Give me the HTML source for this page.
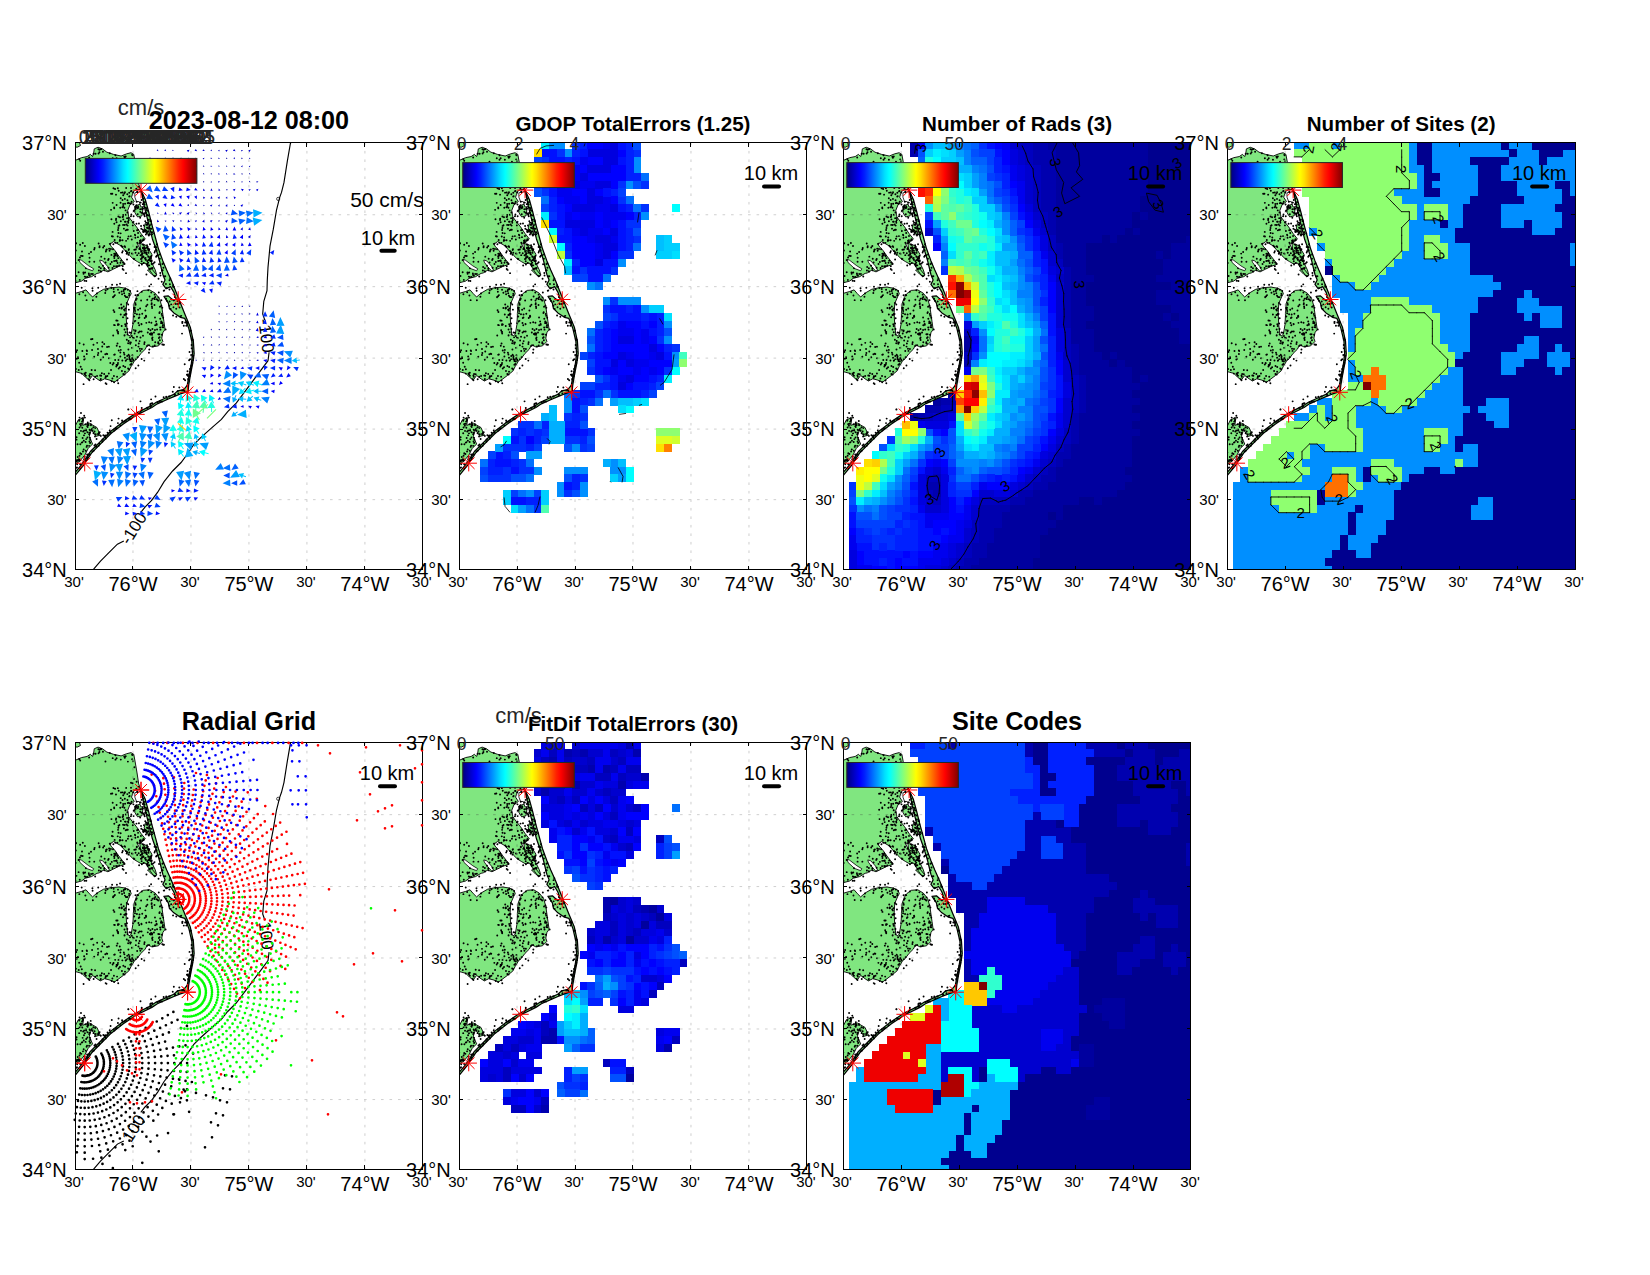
<!DOCTYPE html><html><head><meta charset="utf-8"><title>HFR totals diagnostics</title>
<style>html,body{margin:0;padding:0;background:#fff}svg{display:block}text{font-family:'Liberation Sans', Arial, Helvetica, sans-serif;fill:#000}</style></head><body>
<svg width="1650" height="1275" viewBox="0 0 1650 1275">
<rect width="1650" height="1275" fill="#fff"/>
<defs><g id="land"><path d="M-1.1 18.56 L6.59 15.27 L12.08 14.17 L15.37 11.97 L17.57 14.17 L18.67 10.88 L19.22 6.48 L23.06 4.84 L27.45 6.48 L31.84 9.78 L38.43 11.97 L46.12 13.62 L51.61 11.43 L56 10.33 L58.75 11.97 L60.17 19.66 L62.04 30.64 L63.69 41.62 L65.66 47.11 L61.49 47.11 L58.2 49.31 L56.55 54.8 L59.3 59.19 L54.9 62.49 L52.71 67.98 L53.8 74.56 L57.1 78.96 L61.49 84.45 L65.88 91.03 L70.28 96.53 L66.98 99.82 L62.59 102.02 L65.88 107.51 L70.28 109.7 L73.57 114.09 L76.86 120.68 L80.16 127.27 L81.81 132.76 L79.06 133.86 L75.77 129.47 L72.47 123.98 L70.28 120.68 L65.88 121.23 L62.26 119.15 L58.42 116.73 L54.57 113 L50.18 108.38 L45.79 103.33 L38.65 99.16 L34.92 101.69 L36.02 103.77 L39.97 108.16 L43.81 113.65 L47.66 118.6 L49.96 121.89 L43.92 123.98 L38.43 126.72 L32.94 129.47 L28.55 127.82 L24.16 130.56 L22 131 L16.5 134.3 L10 136 L6.6 138.7 L-2 141 L-2 30Z M-1.1 151.31 L6.59 149.11 L10.98 147.47 L14.27 151.31 L17.57 154.6 L21.96 150.76 L28.55 146.92 L36.24 145.27 L43.92 144.72 L50.51 145.82 L54.9 148.01 L56.22 151.31 L54.68 154.05 L51.61 161.19 L51.06 171.07 L51.61 182.05 L52.71 191.94 L54.02 193.58 L56.22 191.94 L57.87 182.05 L58.42 171.07 L58.97 161.19 L61.27 154.93 L63.69 151.31 L68.08 148.01 L74.67 147.47 L80.16 150.76 L84.55 156.25 L86.75 163.94 L87.84 171.62 L88.94 179.31 L90.04 187 L87.84 190.29 L86.75 195.78 L87.84 199.07 L83.45 203.47 L76.86 204.56 L72.47 202.37 L70.28 206.76 L65.88 211.15 L62.59 215.54 L59.3 218.84 L56 224.33 L53.8 228.72 L48.31 233.11 L43.92 236.41 L39.53 239.7 L34.04 237.51 L29.65 236.41 L25.26 238.6 L21.96 236.41 L17.57 233.11 L14.27 237.51 L10.98 235.31 L6.59 230.92 L2.2 229.82 L-1.1 228.72Z M-1.1 286.25 L3.29 277.47 L8.78 275.27 L7.69 282.96 L14.27 280.76 L21.96 285.15 L25.26 292.84 L20.86 293.94 L16.47 287.35 L14.27 293.94 L17.57 301.62 L13.18 306.01 L9.88 312.6 L4.39 319.19 L-1.1 322.49Z M-1.1 -0.1 L4.39 -0.1 L5.49 3.19 L2.2 4.84 L-1.1 4.29Z M72.47 127.7 L76.86 126.6 L81.26 132.09 L80.71 134.29 L76.86 132.09Z M59.84 63.58 L64.79 61.94 L68.08 65.78 L66.98 73.47 L62.59 74.56 L59.84 70.17Z M64.79 100.92 L71.37 103.11 L76.86 111.9 L75.77 118.49 L70.28 117.39 L65.88 109.7Z M70.28 81.15 L73.57 84.45 L74.67 92.13 L71.37 91.03 L69.18 85.54Z" fill="#80e680" stroke="#000" stroke-width="0.9" stroke-linejoin="round"/><path d="M3.84 116.84 L6.59 117.94 L13.73 123.43 L18.67 126.39 L17.57 128.37 L11.53 126.17 L4.94 120.13Z M24.71 117.61 L27.67 118.49 L32.39 123.76 L34.7 128.15 L32.39 128.37 L28.55 124.2 L25.26 119.8Z M59.84 50.41 L65.88 49.31 L68.63 54.8 L70.28 63.58 L65.88 64.68 L64.24 59.19 L61.49 59.19 L59.84 54.8Z" fill="#fff" stroke="#000" stroke-width="0.8"/><path d="M65.66 47.11 L70.28 57 L73.57 69.07 L76.86 82.25 L80.16 94.33 L83.45 106.41 L87.84 118.49 L91.69 127.71 L96.63 138.68 L103.22 155.15 L109.81 171.62 L115.3 184.8 L118.37 199.07 L119.14 211.15 L117.71 221.03 L115.52 232.02 L113.65 243 L113.1 249.04 L105.41 251.56 L98.83 254.2 L93.33 256.61 L82.35 261.44 L76.86 265.06 L61.49 272.74 L48.31 281.53 L36.24 290.86 L26.35 300.74 L16.47 310.74 L7.69 323.91 L-1.1 334.56 L-1.1 331.49 L6.59 322.27 L15.37 309.09 L25.26 299.21 L35.14 289.32 L47.22 279.99 L60.39 271.21 L75.77 263.52 L81.26 259.8 L92.24 254.85 L98.83 252 L102.67 248.49 L108.71 247.17 L112.22 243 L114.2 232.02 L116.39 221.03 L117.49 211.15 L116.83 199.07 L113.76 185.9 L109.81 176.01 L105.41 174.92 L98.83 170.52 L94.43 166.13 L93.33 160.64 L88.94 154.05 L93.33 153.5 L98.83 158.45 L101.02 156.47 L98.83 149.66 L95.53 144.17 L91.14 146.37 L87.84 141.97 L90.04 137.58 L87.84 132.09 L86.75 127.7 L84.55 118.49 L81.26 107.51 L77.41 96.53 L74.67 85.54 L71.92 74.56 L69.18 63.58 L67.53 54.8Z" fill="#80e680" stroke="#000" stroke-width="1.25" stroke-linejoin="round"/><path d="M4.22 16.72h0M5.19 18.28h0M14.1 15.17h0M23.57 11.06h0M23.38 6.88h0M24.4 9.75h0M20.55 11.38h0M18.56 11.43h0M26.3 6.68h0M24.63 7.39h0M25.66 6.73h0M27.97 9.42h0M30.45 19.2h0M34.78 10.77h0M40.45 12.93h0M40.45 17.35h0M45.81 17.31h0M41.61 15.88h0M37.72 15.84h0M49.27 14.25h0M50.69 14.04h0M57.08 12.45h0M49.8 15.45h0M57.51 12.78h0M57.12 16.96h0M52.9 19.32h0M59.39 24.89h0M57.93 18.93h0M56.01 40.55h0M61.64 39.54h0M57.58 40.95h0M59.02 36.77h0M63.43 44.56h0M61.32 46.31h0M62.38 49.82h0M58.14 50.1h0M56.01 45.54h0M62.11 48.97h0M52.45 57.78h0M54.19 54.1h0M56.34 48.64h0M54.58 53.74h0M61.68 59.41h0M58.43 62.06h0M54.61 60.99h0M55.79 61.16h0M50.06 61.38h0M47.46 64.81h0M48.17 72.65h0M52.77 60.74h0M50.8 72.29h0M53.72 75.57h0M55.91 73.87h0M53.03 79.17h0M44.94 74.91h0M63.16 87.47h0M58.53 79.47h0M61.47 81.32h0M63.94 81.01h0M62.06 87.93h0M63.08 90.57h0M66.04 83.58h0M66.29 86.44h0M64.9 98.29h0M71.14 88.16h0M62.94 94.73h0M68.07 89.25h0M68.65 97.67h0M67.89 105.29h0M65.32 100.17h0M61.8 105.01h0M68.25 106.03h0M60.77 107.13h0M67.88 105.86h0M61.7 104.62h0M66.78 112.3h0M65.63 112.74h0M72.03 102.91h0M72.31 105.68h0M69.02 106.57h0M72.37 118.91h0M71.48 110.2h0M71.96 121.68h0M73.83 117.69h0M74.24 116.78h0M75.53 118.51h0M74.67 126.35h0M74.21 122.96h0M77.56 125.65h0M75.88 115.57h0M78.44 121.06h0M85.49 133.12h0M79.56 133.92h0M76.34 125.72h0M79.56 119.81h0M71.44 132.12h0M76.71 121.67h0M66.88 122.01h0M71.85 121.9h0M66.64 116.36h0M64.12 123.04h0M66.65 118.83h0M57.51 111.45h0M63.69 110.93h0M56.91 111.18h0M59.32 116.69h0M52.01 117.04h0M51.99 110.49h0M53.48 112.34h0M47.73 108.7h0M51.64 111.27h0M47.15 110.08h0M47.43 104.57h0M42.36 100.46h0M50.1 104.57h0M44.72 98.49h0M38.33 101.89h0M34.79 101.45h0M40.29 100.36h0M46.2 103.3h0M34.59 108.3h0M34.11 106.23h0M46.08 118.23h0M39.25 111.41h0M40.29 112.77h0M42.37 113.92h0M43.34 115.73h0M47.7 123.84h0M47.67 126.59h0M47.98 120.03h0M51.01 130.73h0M42.52 120.59h0M37.45 125.66h0M48.53 127.49h0M35.4 121.61h0M33.59 125.44h0M24.09 124.6h0M25.73 128.9h0M25.79 125.79h0M23.84 128.14h0M20.17 134.1h0M26.06 129.24h0M10.95 134.71h0M12.5 134.64h0M9.77 134.21h0M16.15 131.64h0M8.55 131.3h0M11.31 138.51h0M0.51 138.65h0M65.96 47.76h0M67.32 51.94h0M70.02 59.52h0M71.57 67.45h0M77.11 89.87h0M76.41 86.36h0M80.7 104.15h0M84.96 112.19h0M88.28 120.78h0M95.28 136.03h0M94.52 137.83h0M98.82 144.37h0M99.79 154.63h0M94.9 141.77h0M104.54 165.08h0M102.44 161.62h0M105.16 160.16h0M106.24 173.46h0M110.2 180.12h0M111.72 179.15h0M112.05 181.66h0M115.35 188.38h0M116.58 202.64h0M117.79 214.09h0M118.32 213.43h0M115.22 229.59h0M113.17 236.57h0M113.19 237.11h0M109.62 249.61h0M103.33 251.01h0M100.01 252.94h0M94.54 254.2h0M85.39 258.45h0M92.17 256.54h0M82.5 259.79h0M72.19 265.37h0M72.66 265.62h0M65.59 269.42h0M53.64 276.3h0M49.09 279.34h0M51.02 278.7h0M35.57 289.82h0M35.69 290.35h0M41.88 285.76h0M47.36 279.87h0M39.41 288.2h0M27.95 297.46h0M34.71 288.03h0M30.12 294.97h0M27.52 297h0M33.5 291.36h0M23.61 303.28h0M21.47 304.38h0M24.48 301.44h0M18.86 308.2h0M9.08 316.86h0M4.91 326.19h0M1.38 325.45h0M5.15 321.76h0M14.32 311.8h0M12.47 315.23h0M12.89 313.31h0M14.78 312.11h0M20.54 302.13h0M30.3 292.99h0M30.8 296.08h0M28.33 292.78h0M27.3 299.26h0M42.92 280.72h0M38.71 287.22h0M32.07 293.45h0M54.93 276.52h0M47.08 278.05h0M50.81 278.36h0M62.34 270.39h0M75.51 264.58h0M75.94 263.84h0M75.26 262.65h0M77.33 260.84h0M87.02 259.17h0M84.29 259.43h0M93.96 254.12h0M99.61 251.79h0M100.15 252.46h0M104.3 245.18h0M107.13 248.1h0M112.35 243.51h0M112.52 228.78h0M114.58 233.87h0M112.98 233.49h0M116.2 223.68h0M118.11 217.72h0M117.26 220.48h0M115.1 216.92h0M117.66 209.24h0M116.17 212.64h0M117.92 197.61h0M117.14 195.9h0M111.31 183.31h0M107.52 179.51h0M115.15 188.11h0M105.17 173.98h0M101.32 174.29h0M98.5 164.87h0M95.63 166.59h0M94.39 163.35h0M94.61 159.07h0M96.17 161.97h0M91.85 158.38h0M96.86 157.16h0M102.69 158.56h0M94.47 147.12h0M98.07 144.37h0M98.12 142.92h0M88.75 148.32h0M89.2 148.11h0M86.77 139.34h0M90.92 141.6h0M90.24 133.94h0M88.75 133.84h0M85.27 130.52h0M88.43 125.28h0M87.42 121.54h0M84.84 116.3h0M81.71 113.39h0M79.9 108.83h0M81.11 114.29h0M81.6 107.83h0M81.9 101.81h0M81.48 104.97h0M79.12 90.97h0M77.08 91.87h0M74.73 83.07h0M75.2 78.64h0M76.01 78.84h0M73.11 77.52h0M70.49 65.31h0M69.21 72.68h0M67.81 61.73h0M64.82 46.18h0M8.11 149.78h0M4.34 151.84h0M6.69 145.26h0M9.54 138.36h0M17.42 145.9h0M10.37 153.11h0M17.61 148.41h0M21.35 154.34h0M11.57 157.73h0M17.85 157.94h0M21.88 151.16h0M30.71 148.15h0M30.23 150.62h0M23.21 145.3h0M36.37 145.25h0M30.89 144.35h0M39 153.82h0M37.11 142.42h0M32.51 146.85h0M36.38 145.66h0M41.93 142.42h0M45.09 141.29h0M46.62 149.01h0M48.66 148.54h0M50.22 146.09h0M52.8 147.25h0M54.25 151.43h0M50.96 154.69h0M60.66 162.35h0M52.34 154.73h0M50.58 171.66h0M46.54 166.06h0M50.42 166.05h0M53.85 167.23h0M49.29 172.55h0M47.01 165.66h0M51.44 171.7h0M48.03 174.91h0M49.75 168.08h0M55.95 190.27h0M49.51 187.16h0M42.96 182.63h0M51.98 181.04h0M50.64 189.93h0M53.6 198.53h0M56.78 193.54h0M49.5 193.1h0M54.51 190.01h0M52.36 186.63h0M58.17 180.83h0M59.62 191.03h0M58.71 195.64h0M59.66 167.03h0M52.53 175.94h0M59.17 174.1h0M59.41 179.16h0M63.08 167.36h0M60.11 168.66h0M60.4 160.84h0M61.93 171.78h0M59.98 170.89h0M58.94 165.59h0M53.19 162.01h0M61.71 156.28h0M60.9 157.56h0M62.46 152.65h0M60.47 152.87h0M63.08 152.83h0M62.45 148.74h0M66.74 149.28h0M74.37 143.81h0M76.26 150.07h0M76.09 141.96h0M73.29 147.84h0M74.56 154.14h0M80.31 154.67h0M79.63 152.23h0M83.8 150.14h0M79.36 155.77h0M83.46 155.08h0M83.27 158.24h0M81.67 156.93h0M86.34 163.25h0M86.38 157.89h0M86.96 179.99h0M87.28 165.25h0M87.13 173.27h0M84.97 164.29h0M86.18 178.96h0M88.17 175.31h0M85.22 176.29h0M86.72 171.54h0M87.4 180.51h0M90.59 187.16h0M87.32 184.72h0M87.88 183.22h0M85.45 187.23h0M85.1 185.17h0M83.89 195.64h0M86.92 192.4h0M84.44 191.83h0M84.54 194.89h0M84.8 197.78h0M88.26 202.43h0M87.32 202.04h0M88.95 202.43h0M74.32 207.16h0M79.72 203.13h0M77.9 204h0M83.23 200.92h0M72.21 203.48h0M74.02 202.8h0M73.97 210.34h0M77.5 197.62h0M64.6 198.71h0M63.44 204.22h0M62.15 208.62h0M66.65 216.65h0M69.26 218.21h0M57.26 215.69h0M60.79 216.69h0M62.53 214.86h0M53.57 226.47h0M56.76 219.15h0M63.35 223.09h0M55.32 222.36h0M55.88 217.09h0M60.68 225.89h0M53.11 226.09h0M49.54 232.12h0M38.92 233.51h0M39.1 239.8h0M43.22 240.94h0M36.71 238.75h0M31.06 233.99h0M42.41 238.03h0M31.45 241.52h0M32.35 233.53h0M30.65 240.81h0M22.05 233.55h0M33.83 231.16h0M18.64 236.8h0M25.59 237.29h0M26.16 233.29h0M20.07 227.88h0M13.55 236.8h0M14.35 237.76h0M16.66 227.51h0M20.18 234.43h0M16.63 231.84h0M8.57 241.73h0M10.85 233.39h0M6.84 226.85h0M6.7 231.22h0M9.84 232h0M10.77 230.45h0M0.9 226.5h0M3.73 227.63h0M4.17 278.27h0M4.56 275.21h0M9.17 273.31h0M7.34 275.72h0M5.99 270.67h0M7.85 277.28h0M7.05 279.21h0M10.47 281.91h0M12.64 284.55h0M9.93 275.2h0M7.3 285.29h0M12.76 280.01h0M15.72 278.59h0M7.72 278.09h0M5.09 281.93h0M5.33 281.52h0M13.6 282.66h0M12.26 283.91h0M12.44 281.47h0M12.64 282.55h0M10.87 287h0M15.84 281.71h0M18.46 284.87h0M23.13 291.27h0M24.65 289.81h0M19.55 289h0M23.37 291.89h0M23.08 292.15h0M20.72 291.79h0M14.98 287.9h0M16.75 286.84h0M17.2 286.41h0M20.01 294.04h0M14.11 291.82h0M15.15 300.36h0M14.57 290.43h0M14.91 295.41h0M15.96 282.75h0M11.21 296.7h0M15.08 300.67h0M15.22 297.44h0M20.94 304.42h0M19.45 303.14h0M18.53 290.83h0M12.03 303.38h0M14.11 303.47h0M14.48 298.98h0M10.6 299.59h0M11.6 304.49h0M9.46 314.49h0M6.34 311.57h0M12.12 312.17h0M5.21 310.8h0M2.16 321.91h0M3.91 316.86h0M4.54 313.25h0M2.44 318.42h0M2.11 317.45h0M9.66 314.06h0M1.97 324.97h0M1.84 318.21h0M3.55 317.72h0M65.71 60.2h0M68.06 65.81h0M67.01 66.62h0M56.63 59.42h0M63.32 64.82h0M67.38 66.8h0M71.51 65.87h0M60.27 64.55h0M70.27 70.27h0M68.59 71.17h0M67.18 70.36h0M61.13 64.1h0M59.17 68.03h0M66.54 70.46h0M56.35 72.19h0M58.77 68.5h0M62.82 65.91h0M60.73 66.58h0M58.6 73.81h0M61.41 62.83h0M74.94 101.75h0M67.84 97.87h0M69.17 104.76h0M69.18 104.81h0M67.8 102.05h0M61.88 104.41h0M71.54 105.23h0M76.74 118.19h0M73.83 106.7h0M76.49 113.45h0M68.6 102.34h0M73.09 106.33h0M74.27 106.86h0M72.71 123.67h0M70.81 108.34h0M76.66 118.81h0M79.55 110.21h0M73.24 114.4h0M73.12 120.44h0M68.73 120.63h0M75.83 115.84h0M74.31 116.91h0M67.03 114.62h0M69.3 108.2h0M66.55 109.17h0M67.99 114.81h0M65.92 116.53h0M67.02 114.93h0M68.45 114.36h0M65.48 112.97h0M69.64 110.35h0M64.3 106.56h0M70.12 106.01h0M64.49 106.55h0M70.28 78.89h0M71.63 82.27h0M69.72 73.93h0M72.52 81.66h0M69.3 87.97h0M70.22 87.49h0M73.88 93.14h0M75.42 77.85h0M71.75 90.28h0M72.43 89.67h0M68.35 89.68h0M74.94 91.98h0M67.82 87.37h0M73.23 89.1h0M72.93 85.9h0M71.42 88.31h0M74.7 86h0M68.9 83h0M70.71 117.37h0M51.17 45.59h0M36.77 119.6h0M54.25 110.27h0M49.36 51.2h0M40.84 118.38h0M47.67 50.1h0M53.92 106.88h0M45.81 78.75h0M75.15 114.53h0M76.86 89.83h0M42.3 123.86h0M41.16 123.79h0M37.3 51.25h0M55.86 93.7h0M60.58 110.38h0M49.48 121.37h0M62.28 100.2h0M41.56 118.13h0M48.16 61.69h0M53.66 107.55h0M49.55 82.68h0M61.38 64.77h0M40.98 77.51h0M65.94 99.26h0M44.91 97.6h0M43.69 48.39h0M47.48 104.32h0M60.37 95.41h0M51.08 98.46h0M52.06 75.74h0M49.62 103.93h0M72.13 68.32h0M39.14 65.18h0M36.44 112.48h0M54.24 50.4h0M71.6 111.79h0M70.59 115.57h0M52.13 109.71h0M56.79 97.15h0M45.12 95.02h0M39.1 113.85h0M43.49 90.55h0M71.37 111.18h0M38.95 123.82h0M53.21 80.29h0M58.76 88.64h0M43.03 87.57h0M39.96 113.31h0M43.39 74.15h0M73.57 108.41h0M49.97 79.32h0M62.72 71.92h0M59.91 92.38h0M73.79 73.11h0M69.62 62.12h0M48.2 63.57h0M48.08 82.48h0M65.83 97.92h0M41.11 76.24h0M41.12 110.91h0M36.01 51.36h0M50.63 79.36h0M58.71 116.29h0M37.7 60.47h0M52.88 96.37h0M41.59 79.81h0M49.93 49.87h0M42.69 94.07h0M45.66 90.97h0M43.58 83.48h0M68.48 102.28h0M75.25 76.97h0M69.41 106.68h0M48.33 76.99h0M50.73 87.96h0M39.2 65.92h0M48.91 86.24h0M41.77 118.63h0M38.46 45.78h0M64.93 99.81h0M47.58 74.69h0M53.57 93.98h0M45.45 97.85h0M68.43 96.7h0M45.73 55.84h0M40.99 52.23h0M36.05 67.46h0M57.8 82.99h0M42.19 112.88h0M65.24 66.89h0M49.38 65.39h0M36.9 93.79h0M47.51 97.87h0M71.19 70.64h0M48.01 74.23h0M55.98 48.75h0M52.37 70.02h0M40.66 111.71h0M63.17 64.18h0M50.88 108.63h0M49.85 56.49h0M37.82 94.06h0M47.49 57.63h0M38.01 106.87h0M73.52 110.45h0M45.42 120.45h0M62.17 112.73h0M48.19 52.94h0M37.6 89.49h0M48.89 120.71h0M36.44 76.82h0M65.9 93.59h0M72.64 122.43h0M52.75 87.44h0M45.24 65.38h0M57.82 80.06h0M52.3 51.82h0M59.33 107.42h0M46.01 50.24h0M51.48 82.14h0M50.61 67.99h0M43.36 85.55h0M45.57 60.36h0M75.03 115.92h0M51.95 87.36h0M40.08 46.53h0M39.3 81.39h0M60.64 65.95h0M67.68 110.84h0M73.08 107.46h0M39.66 97.58h0M44.44 82.79h0M53.74 77.55h0M52.55 83.2h0M41.59 62.61h0M53.3 60.37h0M62.43 100.61h0M42.83 45.83h0M39.34 115.7h0M14.58 115.41h0M19.24 119.33h0M16 109.53h0M19.64 105.56h0M39.17 118.57h0M33.62 116.67h0M3.62 129.84h0M4.76 137.49h0M7.62 113.69h0M0.16 108.79h0M29.25 103.67h0M5.12 102.42h0M0.61 120.6h0M10.15 130.11h0M30.53 120.2h0M13.84 130.99h0M31.22 107.48h0M35.3 101.41h0M29.3 127.9h0M29.65 116.43h0M4.98 115.12h0M14.01 132.49h0M24.62 103.82h0M3.59 117.72h0M31.75 107.16h0M14.47 119.35h0M24.5 104.94h0M7.8 100.54h0M8.38 130.2h0M14.84 133.34h0M1.45 133.56h0M17.82 131.51h0M26.24 114.23h0M23.65 101.02h0M29.19 125.88h0M33.13 117.58h0M10.93 125.96h0M35.91 106.59h0M14.02 111.22h0M27.93 123.37h0M19.22 107.04h0M30.9 109.03h0M1.04 100.98h0M0.8 108.13h0M44.15 123.09h0M9.91 103.66h0M0.78 100.53h0M6.1 113.45h0M7.01 109.14h0M28.13 105.14h0M45.34 214.04h0M53.15 200.88h0M53.39 207.11h0M38.54 167.87h0M84.67 169.92h0M72.37 162.42h0M43.77 182.05h0M66.52 181.93h0M57.39 212.77h0M85.97 180.5h0M54.45 213.9h0M78.96 190.11h0M71.15 174.42h0M77.14 196.2h0M84.38 170.62h0M41.6 222.64h0M71.32 180.47h0M47.06 151.78h0M50.44 172.46h0M55.86 200.09h0M75.59 192.16h0M79.99 175.16h0M72.77 190.07h0M80.19 182.94h0M66.58 189.15h0M76.12 190.76h0M64.87 206.27h0M43.71 226.2h0M38.55 220.78h0M80.21 199.79h0M59.85 165.38h0M49.16 150.8h0M88 182.6h0M55.07 148.63h0M59.01 174.21h0M58.47 218.19h0M42.07 234.32h0M63.44 180.67h0M58.02 217.15h0M44.97 224.75h0M60.35 178.47h0M38.82 149.31h0M53.61 212.31h0M69.56 199.91h0M79.97 187.58h0M82.75 157.63h0M74.83 191.67h0M48.68 164.05h0M64.83 189.09h0M83.84 201.25h0M49.98 229.33h0M76.47 158.07h0M81.73 182.3h0M41.29 224.19h0M50.18 181.74h0M43.11 191.04h0M74.13 179.9h0M55.07 194.96h0M57.86 195.22h0M44.31 165.55h0M39.11 182.56h0M50.96 218.02h0M51.81 160.64h0M76.71 160.85h0M83.3 191.75h0M45.76 207.49h0M67.98 193.25h0M41.32 178.13h0M81.6 181.52h0M65.51 195.1h0M38.65 146.5h0M86.44 179.43h0M61.98 194.4h0M42.51 201.12h0M38.2 193.18h0M82.06 187h0M67.24 171.41h0M75.42 187.87h0M38.06 154.91h0M39.78 212.2h0M65.38 208.48h0M64.37 175.03h0M63.79 201.04h0M63.77 175.65h0M54.27 215.29h0M54.1 226.79h0M42.59 189.46h0M42.51 178.24h0M66.09 158.19h0M56.36 221.59h0M54.41 216.75h0M48.31 231.65h0M44.33 150.41h0M76.39 180.31h0M76.56 161.76h0M50.22 146.92h0M49.53 192.84h0M70.81 173.8h0M70.99 173.44h0M69.29 201.63h0M91.03 156.3h0M43.13 189.67h0M77.06 192.3h0M64.19 182.78h0M41.73 203.34h0M42.99 220.57h0M52.16 216.51h0M55.25 201.32h0M63.51 190.11h0M65.1 166.03h0M46.15 162.15h0M50.11 224.5h0M79.48 162.68h0M42.99 181.93h0M60.6 188.06h0M76.95 164.03h0M46.71 183.58h0M70.36 168.06h0M45.36 210.16h0M42.69 221.96h0M71.19 163.87h0M38.5 220.7h0M39.2 212.37h0M66.83 206.51h0M48.85 210.23h0M51.79 197.29h0M46.64 165.3h0M81.08 179.02h0M69.69 175.59h0M64.49 172.12h0M55.12 200.26h0M49.87 153.32h0M53.67 198.5h0M52.54 192.05h0M55.39 218.53h0M49.38 212h0M42.09 187.95h0M60.82 202.83h0M38.24 154.25h0M42.2 222.95h0M66.43 181.47h0M77.1 165.65h0M50.59 183.55h0M49.1 167.28h0M54.12 153.14h0M83.2 199.8h0M43 147.33h0M91.87 145.48h0M52.17 213.57h0M73.53 186.5h0M79.64 156.74h0M39.78 182.73h0M60.39 188.79h0M46.94 228.68h0M48.34 223.55h0M61.07 198.14h0M50.73 218.25h0M49.94 215.32h0M47.33 218.07h0M43.5 217.58h0M40.17 217.56h0M56.92 205.46h0M58.7 187.66h0M39.91 152.72h0M88.13 184.93h0M77.42 186.61h0M77.19 191.16h0M45.75 172.02h0M72.28 157.42h0M77.5 156.38h0M43.71 208.03h0M44.78 204.23h0M39.36 169.59h0M48.82 147.56h0M77.46 195.19h0M29.18 231.66h0M27.45 199.85h0M17.41 196.5h0M30.3 211.91h0M37.66 222.2h0M14.7 234.28h0M32.09 204.66h0M37.4 236.14h0M18.49 202.35h0M33.86 204.24h0M22.89 212.5h0M32.19 211.51h0M14.34 233.17h0M4.54 200.91h0M25.72 217.37h0M33.96 215.88h0M1.8 216.42h0M9.45 231h0M30.72 233.87h0M4.14 220.35h0M5.68 224.29h0M27.26 204.04h0M22.16 200.47h0M2.02 207.76h0M2.97 214.79h0M25.79 236.63h0M9.93 216.42h0M26.2 209.19h0M11.77 211.65h0M31.7 211.28h0M29.2 201.6h0M11.72 208.09h0M8.68 202.09h0M15.03 231.63h0M12 208.69h0M9.19 217.18h0M16.09 196.88h0M19.22 214.32h0M7.35 208.63h0M22.95 206.57h0M1.23 209.62h0M9.13 214.04h0M17.09 207.6h0M36.03 227.6h0M35.28 220.56h0M28.16 214.85h0M25.18 233.14h0M26.85 230.86h0M23.27 210.51h0M30.5 235.35h0M5.86 283.29h0M0.19 287.23h0M4.52 285.08h0M4.15 290.84h0M11.12 288.13h0M20.2 285.71h0M1.23 319.02h0M17.51 287.79h0M4.18 277.89h0M4.86 318h0M9.3 288.13h0M2.72 314.64h0M14.62 287.2h0M9.93 290.97h0M10.71 308.34h0M5.98 288.49h0M23.99 290.16h0M5.22 311.16h0M6.76 281.43h0M0.18 310.22h0M17.43 309.04h0M7.98 309.07h0M7.63 295.56h0M1.5 297.24h0M2.55 301.9h0M12.41 295.16h0M8.82 298.23h0M4.06 317.95h0M9 292.97h0M5.33 301.85h0M12.48 289.85h0M1.56 294.89h0M8.17 289.11h0M7.33 299.89h0M8.69 306.99h0M10.24 317.8h0M6.78 300.22h0M4.33 318.41h0M12 316.24h0M17.21 288.15h0M70.91 92.15h0M60.11 92.88h0M65.25 69.45h0M68.7 102.65h0M71.96 85.4h0M79.56 104.53h0M67.67 66.04h0M83.53 136.43h0M73.33 77.21h0M66.62 57.59h0M65.33 60.2h0M87.66 127.91h0M68.9 71.93h0M70.44 70.41h0M83.11 112.92h0M69.85 89h0M81.06 107.36h0M86.87 128.21h0M76.23 81.93h0M72.12 80.63h0M84.05 121.8h0M71.06 80.23h0M65.14 75.27h0M72.79 104.52h0M72.36 72.58h0M68.39 56.39h0M73.43 92.4h0M68.52 60.8h0M102.69 248.81h0M110.13 237.88h0M114.54 209.59h0M112.59 179.89h0M103.7 161.42h0M115.9 188.38h0M112.95 232.09h0M98.04 173.08h0M107.31 180.67h0M97.75 249.37h0M111.9 232.36h0M107.25 179.6h0M107.03 191.22h0M108.83 236.66h0M108.8 183.31h0M101.22 166.38h0M100.6 161.67h0M116.75 205.96h0M115 226.6h0M114.11 217.87h0M109.71 221.76h0M108.43 247.91h0M76.22 261.15h0M63.66 270.47h0M53.2 267.01h0M76.12 256.95h0M21.58 296.66h0M43.57 276.2h0M66.73 265.47h0M35.59 283.72h0M40.73 286.56h0M66.66 267.02h0M36.8 277.8h0M65.5 258.96h0M53.4 267h0M80.49 254.13h0M32.55 290.22h0M91.2 254.28h0M45.39 282.99h0M88.65 254.8h0M109.07 248.25h0M25.79 293.49h0M75.4 261.53h0M29.55 293.6h0M98.84 244.5h0" stroke="#000" stroke-width="1.95" stroke-linecap="round" fill="none"/></g><clipPath id="landclip"><path d="M-1.1 18.56 L6.59 15.27 L12.08 14.17 L15.37 11.97 L17.57 14.17 L18.67 10.88 L19.22 6.48 L23.06 4.84 L27.45 6.48 L31.84 9.78 L38.43 11.97 L46.12 13.62 L51.61 11.43 L56 10.33 L58.75 11.97 L60.17 19.66 L62.04 30.64 L63.69 41.62 L65.66 47.11 L61.49 47.11 L58.2 49.31 L56.55 54.8 L59.3 59.19 L54.9 62.49 L52.71 67.98 L53.8 74.56 L57.1 78.96 L61.49 84.45 L65.88 91.03 L70.28 96.53 L66.98 99.82 L62.59 102.02 L65.88 107.51 L70.28 109.7 L73.57 114.09 L76.86 120.68 L80.16 127.27 L81.81 132.76 L79.06 133.86 L75.77 129.47 L72.47 123.98 L70.28 120.68 L65.88 121.23 L62.26 119.15 L58.42 116.73 L54.57 113 L50.18 108.38 L45.79 103.33 L38.65 99.16 L34.92 101.69 L36.02 103.77 L39.97 108.16 L43.81 113.65 L47.66 118.6 L49.96 121.89 L43.92 123.98 L38.43 126.72 L32.94 129.47 L28.55 127.82 L24.16 130.56 L22 131 L16.5 134.3 L10 136 L6.6 138.7 L-2 141 L-2 30Z M-1.1 151.31 L6.59 149.11 L10.98 147.47 L14.27 151.31 L17.57 154.6 L21.96 150.76 L28.55 146.92 L36.24 145.27 L43.92 144.72 L50.51 145.82 L54.9 148.01 L56.22 151.31 L54.68 154.05 L51.61 161.19 L51.06 171.07 L51.61 182.05 L52.71 191.94 L54.02 193.58 L56.22 191.94 L57.87 182.05 L58.42 171.07 L58.97 161.19 L61.27 154.93 L63.69 151.31 L68.08 148.01 L74.67 147.47 L80.16 150.76 L84.55 156.25 L86.75 163.94 L87.84 171.62 L88.94 179.31 L90.04 187 L87.84 190.29 L86.75 195.78 L87.84 199.07 L83.45 203.47 L76.86 204.56 L72.47 202.37 L70.28 206.76 L65.88 211.15 L62.59 215.54 L59.3 218.84 L56 224.33 L53.8 228.72 L48.31 233.11 L43.92 236.41 L39.53 239.7 L34.04 237.51 L29.65 236.41 L25.26 238.6 L21.96 236.41 L17.57 233.11 L14.27 237.51 L10.98 235.31 L6.59 230.92 L2.2 229.82 L-1.1 228.72Z M-1.1 286.25 L3.29 277.47 L8.78 275.27 L7.69 282.96 L14.27 280.76 L21.96 285.15 L25.26 292.84 L20.86 293.94 L16.47 287.35 L14.27 293.94 L17.57 301.62 L13.18 306.01 L9.88 312.6 L4.39 319.19 L-1.1 322.49Z M-1.1 -0.1 L4.39 -0.1 L5.49 3.19 L2.2 4.84 L-1.1 4.29Z M72.47 127.7 L76.86 126.6 L81.26 132.09 L80.71 134.29 L76.86 132.09Z"/></clipPath><clipPath id="axclip"><rect x="0" y="0" width="347.9" height="427.4"/></clipPath><linearGradient id="jet" x1="0" x2="1" y1="0" y2="0"><stop offset="0" stop-color="#000080"/><stop offset="0.03" stop-color="#00009f"/><stop offset="0.06" stop-color="#0000bf"/><stop offset="0.09" stop-color="#0000df"/><stop offset="0.12" stop-color="#0000ff"/><stop offset="0.16" stop-color="#0020ff"/><stop offset="0.19" stop-color="#0040ff"/><stop offset="0.22" stop-color="#0060ff"/><stop offset="0.25" stop-color="#0080ff"/><stop offset="0.28" stop-color="#009fff"/><stop offset="0.31" stop-color="#00bfff"/><stop offset="0.34" stop-color="#00dfff"/><stop offset="0.38" stop-color="#00ffff"/><stop offset="0.41" stop-color="#20ffdf"/><stop offset="0.44" stop-color="#40ffbf"/><stop offset="0.47" stop-color="#60ff9f"/><stop offset="0.5" stop-color="#80ff80"/><stop offset="0.53" stop-color="#9fff60"/><stop offset="0.56" stop-color="#bfff40"/><stop offset="0.59" stop-color="#dfff20"/><stop offset="0.62" stop-color="#ffff00"/><stop offset="0.66" stop-color="#ffdf00"/><stop offset="0.69" stop-color="#ffbf00"/><stop offset="0.72" stop-color="#ff9f00"/><stop offset="0.75" stop-color="#ff8000"/><stop offset="0.78" stop-color="#ff6000"/><stop offset="0.81" stop-color="#ff4000"/><stop offset="0.84" stop-color="#ff2000"/><stop offset="0.88" stop-color="#ff0000"/><stop offset="0.91" stop-color="#df0000"/><stop offset="0.94" stop-color="#bf0000"/><stop offset="0.97" stop-color="#9f0000"/><stop offset="1" stop-color="#800000"/></linearGradient><path id="grid" d="M57.98 0V427.4M115.97 0V427.4M173.95 0V427.4M231.93 0V427.4M289.92 0V427.4M0 72.36H347.9M0 144.26H347.9M0 215.7H347.9M0 286.69H347.9M0 357.26H347.9" stroke-width="1" stroke-dasharray="2.6 5.9" fill="none"/><path id="ast" d="M-8.2 -0L8.2 0M-5.8 -5.8L5.8 5.8M-0 -8.2L0 8.2M5.8 -5.8L-5.8 5.8" stroke="#ff0000" stroke-width="1" fill="none"/></defs>
<g transform="translate(75,142.4)"><rect x="0" y="0" width="347.9" height="427.4" fill="#fff"/><g clip-path="url(#axclip)"><use href="#grid" stroke="#cfcfcf"/><use href="#land"/><g clip-path="url(#landclip)"><use href="#grid" stroke="#69ad69"/></g><path d="M216.6 -1 L215.4 1 L212.3 19 L209 40 L206.5 50 L204.7 55 L201.5 67.7 L198.3 86.8 L195 103.8 L193 125 L192.3 137.7 L192 148.3 L188.8 158.9 L187.7 171.6 L189.9 178 M194.1 209.8 L193 218.3 L186.7 226.8 L180.3 235.3 L174 243.8 L167.6 252.3 L161.2 260.7 L152.7 269.2 L146.4 277 L135.8 286.2 L125.2 295.7 L118.8 302.1 L112.4 311.6 L106.1 320.1 L97.6 328.6 L89.1 339.2 L82.7 349.8 L76.4 358.3 L70 364.7 L65.8 370 M48.8 398.6 L42.4 401.8 L33.9 410.3 L25.5 418.8 L19.1 426.2 L17 429" stroke="#000" stroke-width="1.15" fill="none"/><circle cx="203.2" cy="56.5" r="1.6" fill="none" stroke="#000" stroke-width="0.7"/><text transform="translate(185.5,194) rotate(83)" font-size="17" text-anchor="middle">-100</text><text transform="translate(63.5,389) rotate(-58)" font-size="17" text-anchor="middle">-100</text><path d="M83.44 8.83L81.63 8.05L82.82 6.96ZM91.26 8.83L89.17 8.18L90.36 6.83ZM98.97 8.28L97.25 8.66L97.55 7.25ZM137.08 8.79L135.35 8.06L136.48 7.01ZM144.71 7.34L144.23 9.22L142.99 8.22ZM168.11 7.83L166.51 9.14L166.06 7.5ZM75.76 16.72L73.93 15.85L75.2 14.77ZM106.53 15.22L105.75 17.17L104.55 15.92ZM122.13 15.79L120.39 16.91L120.14 15.24ZM129.53 15.27L128.71 17.12L127.59 15.88ZM160 16.74L158.33 15.76L159.63 14.84ZM83.65 24.44L81.51 23.98L82.58 22.53ZM98.89 24.19L97.14 24.11L97.79 22.82ZM121.8 24.56L119.91 23.73L121.17 22.59ZM137.35 23.56L135.88 24.72L135.51 23.23ZM167.7 22.95L167.3 24.96L165.93 23.99ZM175.3 23.04L174.96 24.83L173.73 23.98ZM83.67 31.04L82.51 32.84L81.55 31.37ZM98.8 31.08L97.98 32.64L97.09 31.5ZM145.02 31.9L143.14 32.15L143.58 30.66ZM160.51 31.8L158.42 32.36L158.7 30.61ZM75.76 40.05L74.09 39.51L75.05 38.44ZM106.7 39.63L104.87 40.07L105.16 38.55ZM114.53 39.51L112.5 40.31L112.59 38.52ZM145.09 39.46L143.3 40.26L143.3 38.65ZM183.48 39.31L181.71 40.42L181.47 38.72ZM144.37 61.88L144.74 63.98L143.04 63.55ZM120.36 70.03L122.28 70.68L121.15 71.9ZM135.74 70.19L137.45 70.59L136.57 71.73ZM144.77 70.15L144.03 71.74L143.09 70.65ZM89.56 77.98L91.6 78.26L90.7 79.69ZM104.97 77.89L106.95 78.39L105.9 79.7ZM181.4 202.62L183.31 201.81L183.28 203.52ZM181.44 209.93L183.61 209.9L182.91 211.53Z" fill="#0000bf"/><path d="M114.62 7.24L113.18 9.76L111.77 7.84ZM160.58 46.36L159.26 48.97L157.75 47.1ZM165.88 46.44L168.8 46.97L167.42 48.97ZM183.44 46.27L182.45 48.92L180.8 47.29ZM158.68 53.92L161.03 55.44L159.1 56.69ZM168.22 61.94L167 64.62L165.4 62.81ZM90.39 69.06L91.84 72.04L89.12 72.12ZM107.11 69.97L105.29 72.44L104.05 70.24ZM114.56 69.5L113.52 72.64L111.52 70.8ZM82.39 77.15L84.21 79.35L81.95 79.97ZM113.01 77.03L115.01 79.4L112.56 80.1ZM129.28 77.08L129.54 80.13L127.17 79.3ZM137.54 77.64L136.26 80.16L134.81 78.35ZM152.89 77.41L151.77 80.35L149.95 78.52ZM143.61 84.83L145.73 87.14L143.29 87.95ZM167.86 84.94L167.63 88.08L165.36 86.84ZM175.12 84.77L175.76 87.89L173.21 87.31ZM151.31 92.57L153.42 95L150.89 95.76ZM175.62 92.71L175.23 95.96L172.93 94.57ZM182.45 170.22L183.68 173L181.18 172.98ZM182.57 177.98L183.57 180.81L181.11 180.61ZM142.76 257.49L144.42 254.64L145.99 256.84Z" fill="#0000df"/><path d="M122.23 8.84L119.57 8.42L120.79 6.57ZM129.84 8.64L127.46 8.53L128.34 6.79ZM152.89 7.26L151.54 9.7L150.18 7.87ZM160.54 8.92L157.86 8.33L159.21 6.52ZM175.75 7.2L174.71 9.64L173.24 8.03ZM128.38 46.02L130.12 48L128.06 48.63ZM136.36 45.95L137.59 48.31L135.41 48.44ZM143.66 46.19L145.37 47.81L143.58 48.54ZM175.75 46.59L174.54 48.64L173.41 47.05ZM128.03 54L130.28 55.4L128.48 56.61ZM136.29 53.71L137.69 56.12L135.42 56.36ZM144.92 53.97L144.36 56.7L142.51 55.36ZM152.19 53.98L152.35 56.36L150.52 55.68ZM114.23 63.85L112.03 62.8L113.55 61.5ZM122.19 63.77L119.52 63.1L120.92 61.33ZM137.47 62.05L136.31 64.47L134.89 62.79ZM152.28 61.71L152.35 64.31L150.37 63.49ZM97.21 69.98L99.45 70.6L98.22 72.07ZM128 69.86L130.1 70.8L128.7 72.05ZM152.25 69.59L152.32 72.04L150.46 71.27ZM97.09 77.88L99.46 78.22L98.41 79.88ZM122.01 77.78L120.98 79.88L119.75 78.4ZM120.72 85.02L122.5 87.08L120.35 87.71ZM181.35 195.32L183.02 193.72L183.65 195.51ZM181.32 218.43L183.06 216.86L183.65 218.69Z" fill="#0000cf"/><path d="M83.59 15.64L82.35 16.87L81.84 15.53ZM91.12 16.5L89.42 16.06L90.32 14.94ZM98.68 16.61L97.09 15.87L98.18 14.93ZM114.24 16.3L112.49 16.31L113.07 15ZM137.3 16.11L135.6 16.53L135.86 15.11ZM144.98 16.07L143.29 16.56L143.5 15.13ZM175.65 15.88L174.11 16.72L174 15.28ZM75.94 24.07L74.19 24.24L74.65 22.88ZM91.15 24.3L89.43 23.95L90.27 22.78ZM106.54 23.35L105.5 24.77L104.79 23.52ZM114.31 23.68L112.81 24.59L112.64 23.16ZM144.93 24.09L143.18 24.22L143.68 22.86ZM90.96 30.92L90.58 32.63L89.43 31.77ZM106.47 32.16L104.76 31.77L105.63 30.62ZM114.07 32.23L112.42 31.65L113.41 30.61ZM121.6 30.9L121.29 32.63L120.1 31.81ZM129.23 32.38L127.78 31.38L129.02 30.64ZM152.36 32.28L150.76 31.57L151.83 30.61ZM90.88 38.7L90.7 40.44L89.45 39.71ZM121.97 39.62L120.26 40.03L120.53 38.61ZM137.04 38.82L136.47 40.47L135.42 39.49ZM160.16 39.96L158.44 39.63L159.26 38.45ZM167.74 38.84L167.1 40.47L166.09 39.44ZM151.09 46.72L152.79 47.18L151.87 48.29ZM128.2 62.25L129.79 62.99L128.69 63.93ZM159.46 62.04L160.14 63.65L158.7 63.61ZM82.51 69.88L83.67 71.2L82.29 71.62ZM144.78 77.96L144.02 79.54L143.09 78.44ZM143.88 164.86L143.6 163.12L144.99 163.5ZM150.89 164.04L152.46 163.26L152.52 164.7ZM158.56 164.07L160.11 163.24L160.21 164.67ZM166.27 164.27L167.58 163.1L168.01 164.48ZM175.03 164.85L173.88 163.53L175.25 163.11ZM144.23 172.62L143.29 171.13L144.72 170.93ZM158.56 171.81L160.11 170.98L160.21 172.41ZM167.51 172.53L166.14 171.43L167.42 170.78ZM174.98 172.6L173.91 171.21L175.31 170.88ZM151.04 179.96L151.98 178.48L152.77 179.69ZM158.86 180.14L159.37 178.46L160.46 179.41ZM167.28 180.34L166.26 178.91L167.68 178.63ZM159.7 188.05L158.54 186.73L159.92 186.31ZM166.25 187.42L167.64 186.34L167.98 187.74ZM129.06 195.76L127.86 194.48L129.22 194.02ZM128.94 203.51L127.93 202.08L129.34 201.8ZM151.4 203.45L151.43 201.69L152.73 202.3ZM159.43 203.53L158.73 201.92L160.17 201.94ZM167.12 203.53L166.37 201.94L167.81 201.92ZM144.44 211.17L143.16 209.97L144.49 209.42ZM150.9 210.44L152.43 209.58L152.55 211.02ZM166.26 210.62L167.59 209.46L168 210.84ZM174.28 211.09L174.59 209.36L175.77 210.17ZM120.83 218.91L120.64 217.16L122.01 217.61ZM128.73 218.95L128.09 217.31L129.53 217.39ZM143.26 218.32L144.59 217.17L145 218.55Z" fill="#0000af"/><path d="M152.58 16.3L150.83 16.32L151.4 15ZM167.96 15.72L166.6 16.83L166.22 15.44ZM129.51 24.26L127.78 24.01L128.55 22.79ZM152.65 23.86L150.99 24.44L151.12 23.01ZM160.25 23.44L159.07 24.74L158.49 23.42ZM75.9 32L74.14 31.97L74.76 30.67ZM137.12 32.19L135.43 31.72L136.34 30.61ZM167.64 32.33L166.1 31.49L167.25 30.62ZM175.45 32.19L173.76 31.72L174.68 30.61ZM83.65 39.47L82.04 40.16L82.06 38.72ZM98.98 39.4L97.43 40.22L97.34 38.78ZM129.64 39.6L127.94 40.05L128.18 38.63ZM152.54 39.89L150.79 39.73L151.5 38.47ZM175.29 40.17L173.77 39.3L174.93 38.45ZM151.17 172.39L151.74 170.73L152.79 171.72ZM144.36 180.32L143.21 178.99L144.59 178.59ZM174.54 180.33L174.27 178.59L175.66 178.98ZM136.86 187.98L135.46 186.92L136.73 186.23ZM143.24 187.38L144.67 186.36L144.95 187.78ZM152.1 188.02L150.84 186.81L152.17 186.27ZM174.27 187.93L174.6 186.2L175.78 187.04ZM136.62 195.79L135.59 194.37L137 194.08ZM144.05 195.81L143.44 194.16L144.87 194.26ZM151.8 195.81L151.03 194.24L152.47 194.19ZM158.64 195.3L159.79 193.98L160.4 195.28ZM166.42 195.48L167.21 193.92L168.12 195.04ZM175.19 195.71L173.8 194.63L175.07 193.96ZM135.63 203.01L136.8 201.7L137.39 203.01ZM143.63 203.39L143.89 201.65L145.1 202.43ZM173.94 202.93L175.23 201.74L175.68 203.11ZM127.89 210.41L129.45 209.6L129.53 211.04ZM136.58 211.23L135.61 209.76L137.04 209.54ZM159.38 211.24L158.77 209.6L160.2 209.69ZM135.9 218.77L136.31 217.06L137.45 217.94ZM150.96 218.4L152.17 217.13L152.71 218.47ZM158.9 218.76L159.31 217.06L160.45 217.94ZM166.9 218.92L166.58 217.2L167.98 217.54ZM174.11 218.65L174.84 217.05L175.79 218.13Z" fill="#00009f"/><path d="M77.73 50.08L70.66 47.14L75.24 42.84ZM170.92 70.29L164.34 74.2L163.63 67.96ZM170.78 77.67L164.8 82.23L163.4 76.22ZM87.8 91.47L94.76 94.12L90.43 98.44ZM104.44 121.82L109.66 126.93L104.07 129.12ZM121.15 121.48L124.14 128.34L117.99 128.26ZM151.7 121.54L154.85 128.2L148.81 128.31ZM198.64 167.93L200.18 175.57L193.95 174.16ZM197.44 175.65L201.18 182.34L194.91 182.89ZM197.36 183.46L201.18 189.94L195.04 190.62ZM201.79 217.66L208.77 215.42L208.09 221.39ZM179 234.84L184.13 229.53L186.38 235.16ZM186.48 232.09L194.2 231.62L191.95 237.57ZM186.37 248.85L193.16 245.79L193.16 251.9ZM91.24 275.67L86.68 269.42L92.89 268.12ZM83.49 283.3L79.1 277.06L85.25 275.88ZM74.83 290.99L72.23 283.89L78.42 284.33ZM60.51 306.28L56.08 300.03L62.25 298.82ZM60.82 313.82L55.92 308.02L61.91 306.31ZM156.47 327.68L160.03 321.17L163.7 326.03ZM74.53 336.88L72.45 329.47L78.7 330.41ZM58.75 344.25L57.7 336.95L63.52 338.62ZM104.7 344.27L103.71 336.89L109.57 338.64Z" fill="#0060ff"/><path d="M85.83 48.99L78.87 48.38L81.67 43.38ZM78.18 56.76L71.23 56.26L73.94 51.22ZM162.93 71.65L155.83 72.82L157.34 67.11ZM162.93 78.8L156.36 81.16L156.81 75.45ZM89.97 82.97L93.56 88.69L88.07 89.45ZM119.67 114.4L124.79 118.79L119.78 121.14ZM151.57 113.92L154.84 120.19L149.05 120.52ZM158.79 114.06L162.75 119.71L157.19 120.78ZM127.32 122.09L132.53 126.61L127.39 128.99ZM137.72 122.07L137.97 128.87L132.8 126.77ZM145.01 121.91L146.09 128.69L140.65 127.21ZM202.02 195.24L207.99 191.87L208.5 197.48ZM202.15 203.79L207.2 199.03L209.06 204.41ZM201.88 209.99L208.66 207.75L208.06 213.58ZM157.75 236.62L158.24 229.51L163.4 232.27ZM30.07 328.74L25.61 323.53L31.01 321.94ZM53.3 328.64L48.5 323.8L53.74 321.83ZM148.23 333L154.73 330.22L154.62 336.02ZM67.83 344.21L64.24 338.13L70 337.49ZM120.41 344.12L118.87 337.32L124.47 338.45ZM156.06 340.74L162.17 337.89L162.24 343.42ZM164.05 342.23L168.34 336.93L170.87 341.93Z" fill="#0050ff"/><path d="M93.35 48.51L87.05 48.66L89.06 43.9ZM80.52 84.02L86.49 86.37L82.73 90.05ZM97.25 91.16L101.22 95.84L96.38 97.24ZM88.13 99.71L94.12 101.81L90.53 105.59ZM112.17 106.84L116.8 110.98L112.15 113.05ZM144.31 106.62L146.45 112.36L141.43 112.03ZM160.66 106.83L160.78 113.02L156.1 111.02ZM176.21 106.94L175.85 113.1L171.36 110.76ZM158.97 122.18L162.32 127.34L157.33 128.12ZM140.97 132.77L146.86 130.62L146.49 135.75ZM171.89 231.83L178.47 232.45L175.79 237.17ZM59.71 290.41L57.19 284.53L62.44 284.63ZM74.22 313.14L73.39 307L78.26 308.44ZM59.4 336.22L57.49 330.18L62.65 330.79ZM47.44 354.61L43.05 359.47L40.9 354.55ZM85.61 357.56L79.12 356.92L81.78 352.28ZM100.8 354.07L97.43 359.66L94.38 355.25ZM116.27 354.46L112.32 359.45L109.92 354.81ZM70.49 364.11L64.47 365.57L65.41 360.57ZM85.74 364.54L79.52 365.16L81.15 360.29ZM78.27 371.31L72.38 373.61L72.64 368.42Z" fill="#0040ff"/><path d="M99.09 49.77L95.26 46.05L99.34 44.44ZM83.94 57.42L79.91 54.16L83.71 52.25ZM92.66 56.67L87.34 55.64L89.9 52ZM100.59 55.54L95.71 56.77L96.43 52.71ZM84.78 64.49L79.84 63.27L82.42 59.98ZM158.98 91.53L161.93 95.86L157.7 96.61ZM128.44 99.33L131.15 103.74L126.94 104.28ZM120.22 107.07L123.97 111.1L119.69 112.55ZM137.2 107.1L137.94 112.42L133.7 111.19ZM167.37 107.12L168.99 112L164.79 111.57ZM199.24 107.58L198.3 112.61L194.85 110.21ZM113.63 114.85L115.42 119.75L111.15 119.44ZM128.41 114.78L131.26 119.36L126.88 119.95ZM143.5 114.88L146.72 119.08L142.49 120.07ZM103.13 132.78L108.11 131.02L107.75 135.34ZM126.13 133.53L130.49 130.4L131.37 134.72ZM133.83 133.17L138.44 130.72L138.72 135ZM118.53 140.36L123.54 138.97L122.89 143.19ZM141.45 140.06L146.85 139.16L145.71 143.5ZM130.52 150.61L125.62 148.23L129.06 145.36ZM190.59 176.95L191.79 181.94L187.65 181.16ZM189.96 184.55L192.41 189.26L188.05 189.51ZM195.18 203.45L199.24 199.87L200.55 204.11ZM195.14 209.64L200.52 208.79L199.34 213.1ZM195.07 217.51L200.45 216.31L199.53 220.74ZM134.94 228.11L135.75 222.63L139.58 225.08ZM149.42 227.15L152.57 222.71L154.83 226.56ZM189.05 228.15L189.03 222.96L192.92 224.69ZM195.75 234.98L198.19 230.57L200.67 233.89ZM203.09 234.37L206.62 230.81L208.1 234.65ZM141.79 249.9L145.14 246.09L146.86 249.88ZM156.82 264.63L161.24 261.71L161.93 266ZM89.71 305.18L88.85 299.73L93.22 300.93ZM59.53 328.19L57.71 322.98L62.22 323.38ZM123.82 348.45L118.77 350.42L118.99 345.98ZM54.63 356.13L49.87 357.83L50.2 353.69ZM62.28 370.87L57.94 373.43L57.48 369.31Z" fill="#0020ff"/><path d="M107.91 47.81L103.59 48.6L104.45 45.1ZM114.01 57.11L111.32 53.92L114.61 52.99ZM91.03 64.8L88.42 61.86L91.49 60.89ZM99.68 64.28L95.7 63.09L97.93 60.51ZM107.46 63.99L103.52 63.42L105.27 60.66ZM112.21 84.66L115.81 86.68L113.08 88.7ZM128.18 84.43L130.8 87.39L127.71 88.35ZM159.47 84.1L161.23 88.17L157.59 88.12ZM113.83 92.16L114.72 96.04L111.52 95.4ZM144.87 92.03L145.19 96.45L141.77 95.2ZM168.02 92.11L168 96.5L164.72 95.02ZM105.63 99.9L107.52 103.43L104.25 103.65ZM112.18 100.13L115.92 102.32L113.02 104.38ZM120.3 100.05L123.28 102.76L120.25 104.08ZM160.53 100.01L160.1 104.35L156.99 102.56ZM174.75 99.74L176.56 103.66L173.02 103.69ZM152.66 107.65L152.71 112.08L149.38 110.62ZM126.8 140.16L130.88 139.63L129.9 142.86ZM188.1 217.6L192.14 216.81L191.37 220.1ZM203.51 224.67L207.92 225.09L206.12 228.25ZM135.37 235.43L135.71 230.99L138.92 232.74ZM142.92 235.13L143.71 231.14L146.43 233.08ZM195.54 241.18L199.59 239.32L199.62 242.97ZM203.95 242.7L205.4 238.68L207.92 241.12ZM127.09 249.92L129.27 246.6L131.02 249.35ZM195.72 248.52L199.73 247.43L199.19 250.8ZM180.49 263.6L184.54 263.11L183.54 266.3ZM100.07 348.16L96.62 350.05L96.37 346.83ZM76.99 355.32L74.06 357.97L73.07 354.89ZM46.33 364.57L42.04 364.25L43.72 361.14Z" fill="#0000ff"/><path d="M115.81 47.71L111.15 48.87L111.85 44.99ZM105.51 91.69L107.97 95.89L104 96.32ZM128.34 91.86L130.97 95.62L127.27 96.32ZM144.94 99.63L145.28 104.44L141.57 103.08ZM96.52 115.56L100.96 117.72L97.85 120.32ZM104.18 115.57L108.62 117.71L105.52 120.31ZM110.97 140.95L115.29 138.58L115.62 142.61ZM137.05 150.78L134.09 147.16L137.79 146.16ZM126.53 224.73L131.46 224.79L129.76 228.46ZM157.05 225.62L161.52 223.94L161.27 227.86ZM180.14 225.7L184.38 223.95L184.26 227.71ZM211.76 227.73L212.61 223.06L215.82 225.28ZM126.69 232.63L131.16 232.45L129.79 235.86ZM211.24 234.98L213.4 230.7L215.88 233.76ZM118.93 249.8L122.1 246.29L123.66 249.85ZM115.93 348.48L111.26 350.22L111.54 346.13ZM108 354.83L104.85 358.65L103.05 355.01ZM123.23 355.1L120.05 358.35L118.69 354.87ZM54.31 364.61L49.42 364.48L51.17 360.86ZM61.88 364.43L57.31 364.54L58.77 361.09ZM77.34 362.52L74.11 366.21L72.44 362.54ZM54.41 371.37L50.03 372.85L50.4 369.08ZM85.14 371.44L80.59 372.84L81.08 368.97Z" fill="#0010ff"/><path d="M122.63 48.13L119.17 47.84L120.55 45.34ZM106.27 56.92L103.88 54.02L106.85 53.21ZM121.81 56.74L119.19 54.33L121.87 53.18ZM104.6 84.87L107.92 86.55L105.54 88.47ZM135.86 84.5L138.41 87.35L135.42 88.29ZM151.83 84.64L153.1 87.75L150.35 87.65ZM120.77 92.41L122.78 95.24L119.98 95.79ZM135.66 92.34L138.53 94.94L135.62 96.21ZM152.76 100.22L152.34 104.09L149.59 102.47ZM166.79 100.02L168.91 103.18L165.83 103.71ZM149.92 133.4L152.97 131.15L153.62 134.19ZM182.85 185.44L183.55 188.98L180.66 188.32ZM188.35 195.5L191.08 193.03L192.01 195.91ZM188.3 202.24L191.92 201.51L191.25 204.46ZM188.32 210.57L191.4 208.73L191.74 211.66ZM143.34 227.36L143.44 223.85L146.03 225.1ZM165.46 226.29L168.03 224L168.88 226.69ZM134.75 241.57L137.49 239.44L138.16 242.21ZM142.38 240.54L146.03 240.25L145.02 243.08ZM134.65 249.44L137.42 246.9L138.39 249.83ZM165.36 264.47L168.32 262.55L168.76 265.42ZM173.05 263.32L176.91 263.52L175.46 266.34Z" fill="#0000ef"/><path d="M178.76 69.99L172.11 74.58L170.91 68.06ZM178.87 78.96L171.07 81.53L171.77 74.82ZM95.86 98.69L102.57 102.7L97.31 106.37ZM148.12 250.71L153.24 244.34L156.28 250.31ZM147.75 255.98L155.51 253.68L154.62 260.27ZM75.99 298.77L71.18 292.39L77.58 290.94ZM43.62 306.6L41.76 298.5L48.45 299.83ZM37.31 321.86L33.01 314.92L39.65 314.04ZM147.73 325.79L154.79 321.84L155.37 328.45ZM50.81 336.91L50.01 328.86L56.31 330.98ZM68.55 336.93L63.37 330.81L69.69 329ZM120.28 336.93L118.62 329.23L124.94 330.58ZM23 344.33L17.18 338.99L23.13 336.44ZM37.13 344.78L33.13 337.65L39.81 337.05ZM50.98 344.54L49.87 336.63L56.17 338.46ZM114.02 344.56L109.8 338L116.13 337.06Z" fill="#0070ff"/><path d="M187.51 70.39L178.57 75.14L178.02 66.86ZM187.41 77.66L179.08 83.3L177.66 75.17ZM157.3 253.6L157.3 243.2L165.08 246.71ZM160.58 252.62L159.36 255.44L157.15 254.49L157.84 260.24L162.49 256.79L160.28 255.84L161.5 253.02ZM162.3 269.04L159.9 270.89L158.44 269.01L156.27 274.32L161.96 273.57L160.51 271.69L162.91 269.83ZM162 272.35L170.9 267.31L171.67 275.67ZM61.65 299.66L54.31 292.48L62.15 289.4ZM112.49 305.05L118.39 313.56L110.04 315.11ZM125.09 310.72L122.16 309.93L122.78 307.63L117.25 309.12L121.28 313.18L121.9 310.89L124.83 311.68ZM19.95 337.98L18.62 327.83L26.67 330.25Z" fill="#00afff"/><path d="M97.05 83.54L101.25 87.74L96.69 89.47ZM136.99 99.06L138.32 104.68L133.66 103.78ZM96.53 107.23L101.4 110.41L97.38 112.98ZM103.94 107.48L109.07 110L105.46 112.99ZM128.38 106.77L131.48 111.75L126.71 112.39ZM135.82 114.55L139.32 119.34L134.56 120.34ZM166.99 114.6L169.55 119.71L164.86 119.9ZM112.51 122.52L116.42 126.69L111.98 128.21ZM110.68 134.01L114.87 129.92L116.52 134.43ZM118.27 134.02L122.59 129.84L124.26 134.49ZM133.76 141.78L137.79 137.74L139.46 142.11ZM190.11 168.86L192.47 174.11L187.74 174.11ZM195.05 195.87L199.24 191.93L200.77 196.4ZM171.97 225.32L177.44 223.84L176.7 228.43ZM194.9 225.71L200.17 223.47L200.07 228.17ZM218.18 224.68L223.79 224.54L222.01 228.78ZM148.91 264.88L153.56 261.31L154.66 265.99ZM51.03 305.19L50.79 299.44L55.18 301.2ZM66.94 320.68L65.48 315.04L70.2 315.84ZM75 320.75L72.77 315.3L77.6 315.47ZM21.51 328.42L18.93 323.06L23.81 322.93ZM36.06 335.81L35.1 330.25L39.59 331.4ZM28.78 343.64L26.96 338.02L31.77 338.55ZM108.56 349.39L102.61 349.71L104.37 345.15ZM62.57 356.93L56.65 357.41L58.29 352.82ZM70.13 357.22L64.18 357.08L66.29 352.67ZM70.28 371.61L64.73 373.1L65.49 368.44Z" fill="#0030ff"/><path d="M205.34 174.53L209.57 183.44L201.48 183.61ZM205.74 182.2L209.3 191.55L201.1 191.06ZM90.76 284.46L86.15 275.79L94.19 275.26ZM66.81 292.09L63.95 282.7L71.94 283.72ZM81.21 291.79L80.3 282.18L87.8 284.73ZM88.41 291.66L88.45 281.91L95.74 285.21ZM108.86 300.88L118.52 300.1L115.85 307.59ZM124.27 300.83L133.84 300.2L131.08 307.57ZM45.38 314.91L39.78 307.05L47.55 305.5ZM52.95 314.87L47.55 306.99L55.27 305.61ZM65.75 314.89L64.95 304.91L72.69 307.67ZM52.28 322.74L47.92 313.9L56 313.62ZM44.78 330.18L40.27 321.83L48.04 321.27ZM106.6 338.01L101.05 329.7L109.14 328.34ZM155.08 335.41L161.09 327.58L164.92 334.71Z" fill="#009fff"/><path d="M208.89 208.75L217.88 208.23L215.24 215.14ZM148.92 237.1L151.14 228.17L157.07 232.83ZM165.53 237.76L164.88 228.67L171.9 231.25ZM53.28 299.37L47.45 292.13L54.83 290.21ZM66.83 299.41L64.21 290.65L71.65 291.64ZM84.38 299.27L77.84 292.56L85.07 289.94ZM91.11 299.4L86.17 291.7L93.6 290.6ZM73.34 306.9L72.95 297.48L80.13 300.36ZM35.52 329.92L34.13 320.74L41.46 322.79ZM28.43 337.66L25.89 328.76L33.41 329.86ZM44.3 337.62L40.82 329.23L48.27 329.46ZM114.66 337.52L108.79 330.42L116.09 328.42Z" fill="#008fff"/><path d="M208.84 218.05L216.62 214.59L216.59 221.58ZM147.43 241.34L155.18 237.46L155.48 244.56ZM186.15 242.97L191.87 236.44L194.83 242.92ZM186 255L194.72 254.41L192.22 261.14ZM66.41 306.72L64.84 298.23L71.72 299.91ZM81.57 306.61L80.4 298.18L87.1 300.14ZM38.15 314.26L32.28 307.93L39 305.67ZM28.67 322.24L25.82 313.82L33.08 314.51ZM43.29 321.91L42.01 313.5L48.73 315.37ZM66.21 329.48L65.13 321.12L71.75 323.13ZM140.17 327.36L145.75 320.64L148.9 327.08ZM43.18 344.77L42.13 336.33L48.79 338.38ZM147.52 340.95L155.04 337L155.46 343.96Z" fill="#0080ff"/><path d="M224.78 217.18L221.7 217.48L221.47 215.05L216.72 218.46L222.03 220.9L221.8 218.47L224.88 218.17ZM163.59 240.83L160.45 240.7L160.55 238.22L155.31 240.99L160.31 244.18L160.41 241.7L163.55 241.83ZM186.57 248.32L183.43 248.34L183.41 245.87L178.31 248.88L183.45 251.81L183.44 249.34L186.57 249.32ZM171.33 256.46L168.16 256.13L168.41 253.63L162.94 256.1L167.8 259.63L168.06 257.13L171.23 257.45ZM177.52 253.26L175.17 255.47L173.42 253.6L171.68 259.43L177.61 258.06L175.86 256.2L178.21 253.99ZM186.43 257.53L183.54 256.42L184.41 254.14L178.63 255.06L182.3 259.63L183.18 257.35L186.07 258.47ZM122.98 298.51L121.91 295.61L124.2 294.77L119.7 291.03L118.69 296.79L120.97 295.95L122.04 298.86ZM123.27 306.07L121.97 303.21L124.23 302.18L119.39 298.75L118.81 304.65L121.06 303.62L122.36 306.48ZM171.1 333.96L168.19 332.92L169.01 330.64L163.28 331.71L167.05 336.15L167.86 333.86L170.77 334.9Z" fill="#00bfff"/><path d="M171.44 242.06L168.27 241.01L169.1 238.48L162.93 239.79L167.12 244.5L167.95 241.96L171.13 243.01ZM179.07 242.44L175.95 241.12L177.01 238.62L170.67 239.42L174.51 244.53L175.56 242.04L178.68 243.36ZM97.21 299.27L98.25 296.04L100.84 296.87L99.47 290.61L94.71 294.9L97.3 295.73L96.26 298.96ZM131 298.55L129.65 295.59L132 294.52L127 290.96L126.39 297.07L128.74 296L130.09 298.97ZM100.94 305.76L99.1 303.08L101.23 301.62L95.68 298.98L96.14 305.1L98.27 303.64L100.11 306.32Z" fill="#00cfff"/><path d="M187.2 241.86L183.68 240.96L184.4 238.11L177.81 239.98L182.7 244.78L183.43 241.93L186.95 242.83ZM179.26 247.11L175.75 248.06L174.98 245.22L170.16 250.1L176.78 251.87L176.01 249.03L179.52 248.08ZM105.75 261.46L106.14 257.75L109.16 258.07L106.29 251.65L102.14 257.33L105.15 257.65L104.76 261.35ZM139.06 260.69L137.41 257.36L140.12 256.02L134.27 252.15L133.8 259.14L136.51 257.8L138.16 261.13ZM114.46 268.93L114.06 265.3L117.01 264.98L112.91 259.42L110.12 265.73L113.07 265.41L113.46 269.04ZM108.99 313.79L106.85 310.81L109.27 309.07L102.96 306.24L103.62 313.13L106.04 311.39L108.18 314.37Z" fill="#00efff"/><path d="M170.08 245.44L167.56 247.75L165.71 245.73L163.79 251.89L170.09 250.5L168.24 248.49L170.76 246.17ZM115.25 291.54L114.24 288.14L116.98 287.32L112.1 282.73L110.54 289.24L113.28 288.42L114.29 291.82Z" fill="#00dfff"/><path d="M116.2 261.02L114.44 257.44L117.38 256L111.13 251.82L110.6 259.32L113.54 257.88L115.3 261.46ZM132.12 260.49L129.89 257.26L132.53 255.43L125.84 252.28L126.42 259.66L129.07 257.83L131.3 261.06ZM113.55 277.15L113.84 273.17L117.12 273.42L113.83 266.64L109.57 272.85L112.85 273.1L112.55 277.08ZM105.23 284.7L106.01 280.86L109.17 281.5L106.8 274.48L101.88 280.02L105.03 280.66L104.25 284.5ZM120.29 284.68L121.28 280.87L124.4 281.68L122.4 274.53L117.18 279.81L120.31 280.62L119.32 284.43ZM98.65 292.51L98.62 288.47L101.94 288.44L98.06 281.89L94.29 288.51L97.62 288.48L97.65 292.52Z" fill="#10ffef"/><path d="M123.82 261.34L122.1 257.53L125.26 256.11L118.85 251.52L118.04 259.36L121.19 257.94L122.91 261.75ZM137.11 269.61L136.98 265.49L140.38 265.38L136.26 258.78L132.58 265.63L135.98 265.52L136.11 269.64ZM105.38 277.31L106.05 273.24L109.41 273.8L106.65 266.53L101.71 272.53L105.07 273.08L104.4 277.15ZM116.37 284.18L114.48 280.48L117.54 278.92L110.95 274.68L110.53 282.5L113.59 280.94L115.48 284.64ZM104.32 292.42L105.78 288.59L108.94 289.79L107.69 282.16L101.68 287.03L104.84 288.24L103.39 292.07Z" fill="#20ffdf"/><path d="M108.98 267.98L106.85 264.9L109.37 263.16L102.97 260.14L103.52 267.2L106.03 265.46L108.16 268.55ZM124.31 291.15L122.19 287.94L124.81 286.21L118.32 282.98L118.74 290.22L121.36 288.49L123.47 291.7ZM108.91 306.32L106.84 303.22L109.37 301.53L103.04 298.42L103.48 305.46L106.01 303.77L108.08 306.88ZM133.71 310.75L130.04 309.93L130.71 306.94L123.95 309.07L129.15 313.89L129.82 310.91L133.49 311.73Z" fill="#00ffff"/><path d="M120.89 270.06L121.45 265.66L125.09 266.13L121.84 258.42L116.76 265.06L120.41 265.53L119.84 269.92ZM112.93 300.66L113.71 296.32L117.3 296.97L114.46 289.16L109.08 295.49L112.68 296.14L111.9 300.47Z" fill="#40ffbf"/><path d="M128.64 270.35L129.16 265.73L132.99 266.15L129.45 258.12L124.23 265.18L128.06 265.6L127.55 270.23ZM103.33 300.42L105.55 296.4L108.89 298.24L108.69 289.56L101.25 294.03L104.59 295.87L102.37 299.9Z" fill="#50ffaf"/><path d="M124.88 277.27L122.4 272.95L125.98 270.89L117.84 266.19L117.79 275.59L121.38 273.54L123.86 277.86Z" fill="#70ff8f"/><path d="M103 281l8 7" stroke="#ffc800" stroke-width="1.2"/><path d="M124 270l9 -8M132 276l9 -9" stroke="#80ff80" stroke-width="1.2"/><use href="#ast" x="66" y="47.7"/><use href="#ast" x="103.2" y="157.1"/><use href="#ast" x="112.6" y="249.9"/><use href="#ast" x="61.5" y="272"/><use href="#ast" x="9.7" y="320.8"/></g><rect x="0" y="0" width="347.9" height="427.4" fill="none" stroke="#000" stroke-width="1" shape-rendering="crispEdges"/><path d="M0 427.4v-4.2M0 0v4.2M0 -0h4.2M347.9 -0h-4.2M57.98 427.4v-4.2M57.98 0v4.2M0 72.36h4.2M347.9 72.36h-4.2M115.97 427.4v-4.2M115.97 0v4.2M0 144.26h4.2M347.9 144.26h-4.2M173.95 427.4v-4.2M173.95 0v4.2M0 215.7h4.2M347.9 215.7h-4.2M231.93 427.4v-4.2M231.93 0v4.2M0 286.69h4.2M347.9 286.69h-4.2M289.92 427.4v-4.2M289.92 0v4.2M0 357.26h4.2M347.9 357.26h-4.2M347.9 427.4v-4.2M347.9 0v4.2M0 427.4h4.2M347.9 427.4h-4.2" stroke="#000" stroke-width="1" fill="none" shape-rendering="crispEdges"/><text x="-8.3" y="7.2" font-size="20" text-anchor="end">37°N</text><text x="-8.3" y="77.96" font-size="15" text-anchor="end">30'</text><text x="-8.3" y="151.46" font-size="20" text-anchor="end">36°N</text><text x="-8.3" y="221.3" font-size="15" text-anchor="end">30'</text><text x="-8.3" y="293.89" font-size="20" text-anchor="end">35°N</text><text x="-8.3" y="362.86" font-size="15" text-anchor="end">30'</text><text x="-8.3" y="434.6" font-size="20" text-anchor="end">34°N</text><text x="-1" y="444.6" font-size="15" text-anchor="middle">30'</text><text x="57.98" y="448.6" font-size="20" text-anchor="middle">76°W</text><text x="114.97" y="444.6" font-size="15" text-anchor="middle">30'</text><text x="173.95" y="448.6" font-size="20" text-anchor="middle">75°W</text><text x="230.93" y="444.6" font-size="15" text-anchor="middle">30'</text><text x="289.92" y="448.6" font-size="20" text-anchor="middle">74°W</text><text x="346.9" y="444.6" font-size="15" text-anchor="middle">30'</text><rect x="10.3" y="16" width="111.6" height="24.9" fill="url(#jet)" stroke="#262626" stroke-width="1"/><g font-size="20" text-anchor="middle" style="fill:#262626"><text x="9.3" y="1.1" style="fill:#262626">0</text><text x="11.14" y="1.1" style="fill:#262626">1</text><text x="12.98" y="1.1" style="fill:#262626">2</text><text x="14.82" y="1.1" style="fill:#262626">3</text><text x="16.67" y="1.1" style="fill:#262626">4</text><text x="18.51" y="1.1" style="fill:#262626">5</text><text x="20.35" y="1.1" style="fill:#262626">6</text><text x="22.19" y="1.1" style="fill:#262626">7</text><text x="24.03" y="1.1" style="fill:#262626">8</text><text x="25.87" y="1.1" style="fill:#262626">9</text><text x="27.72" y="1.1" style="fill:#262626">10</text><text x="29.56" y="1.1" style="fill:#262626">11</text><text x="31.4" y="1.1" style="fill:#262626">12</text><text x="33.24" y="1.1" style="fill:#262626">13</text><text x="35.08" y="1.1" style="fill:#262626">14</text><text x="36.92" y="1.1" style="fill:#262626">15</text><text x="38.76" y="1.1" style="fill:#262626">16</text><text x="40.61" y="1.1" style="fill:#262626">17</text><text x="42.45" y="1.1" style="fill:#262626">18</text><text x="44.29" y="1.1" style="fill:#262626">19</text><text x="46.13" y="1.1" style="fill:#262626">20</text><text x="47.97" y="1.1" style="fill:#262626">21</text><text x="49.81" y="1.1" style="fill:#262626">22</text><text x="51.66" y="1.1" style="fill:#262626">23</text><text x="53.5" y="1.1" style="fill:#262626">24</text><text x="55.34" y="1.1" style="fill:#262626">25</text><text x="57.18" y="1.1" style="fill:#262626">26</text><text x="59.02" y="1.1" style="fill:#262626">27</text><text x="60.86" y="1.1" style="fill:#262626">28</text><text x="62.7" y="1.1" style="fill:#262626">29</text><text x="64.55" y="1.1" style="fill:#262626">30</text><text x="66.39" y="1.1" style="fill:#262626">31</text><text x="68.23" y="1.1" style="fill:#262626">32</text><text x="70.07" y="1.1" style="fill:#262626">33</text><text x="71.91" y="1.1" style="fill:#262626">34</text><text x="73.75" y="1.1" style="fill:#262626">35</text><text x="75.6" y="1.1" style="fill:#262626">36</text><text x="77.44" y="1.1" style="fill:#262626">37</text><text x="79.28" y="1.1" style="fill:#262626">38</text><text x="81.12" y="1.1" style="fill:#262626">39</text><text x="82.96" y="1.1" style="fill:#262626">40</text><text x="84.8" y="1.1" style="fill:#262626">41</text><text x="86.64" y="1.1" style="fill:#262626">42</text><text x="88.49" y="1.1" style="fill:#262626">43</text><text x="90.33" y="1.1" style="fill:#262626">44</text><text x="92.17" y="1.1" style="fill:#262626">45</text><text x="94.01" y="1.1" style="fill:#262626">46</text><text x="95.85" y="1.1" style="fill:#262626">47</text><text x="97.69" y="1.1" style="fill:#262626">48</text><text x="99.54" y="1.1" style="fill:#262626">49</text><text x="101.38" y="1.1" style="fill:#262626">50</text><text x="103.22" y="1.1" style="fill:#262626">51</text><text x="105.06" y="1.1" style="fill:#262626">52</text><text x="106.9" y="1.1" style="fill:#262626">53</text><text x="108.74" y="1.1" style="fill:#262626">54</text><text x="110.58" y="1.1" style="fill:#262626">55</text><text x="112.43" y="1.1" style="fill:#262626">56</text><text x="114.27" y="1.1" style="fill:#262626">57</text><text x="116.11" y="1.1" style="fill:#262626">58</text><text x="117.95" y="1.1" style="fill:#262626">59</text><text x="119.79" y="1.1" style="fill:#262626">60</text><text x="121.63" y="1.1" style="fill:#262626">61</text><text x="123.48" y="1.1" style="fill:#262626">62</text><text x="125.32" y="1.1" style="fill:#262626">63</text><text x="127.16" y="1.1" style="fill:#262626">64</text><text x="129" y="1.1" style="fill:#262626">65</text></g><text x="66.1" y="-27.6" font-size="22" text-anchor="middle" style="fill:#262626">cm/s</text><text x="311.9" y="64.2" font-size="21" text-anchor="middle">50 cm/s</text><text x="313" y="102.5" font-size="20" text-anchor="middle">10 km</text><path d="M306.4 108.4H319.7" stroke="#000" stroke-width="4" stroke-linecap="round"/><text x="173.95" y="-13.9" font-size="25.2" font-weight="bold" text-anchor="middle">2023-08-12 08:00</text></g>
<g transform="translate(459.05,142.4)"><rect x="0" y="0" width="347.9" height="427.4" fill="#fff"/><g clip-path="url(#axclip)"><use href="#grid" stroke="#cfcfcf"/><path d="M82.27 0H90.24V7.2H82.27ZM82.27 69.52H90.24V77.63H82.27ZM105.27 116.26H113.24V124.33H105.27ZM204.94 232.27H212.91V240.26H204.94Z" fill="#00efff" shape-rendering="crispEdges"/><path d="M89.94 0H105.57V7.2H89.94ZM105.27 6.9H113.24V15.05H105.27ZM174.27 14.75H182.24V22.89H174.27ZM174.27 22.59H182.24V30.73H174.27ZM166.61 38.26H174.57V46.38H166.61ZM181.94 69.52H189.91V77.63H181.94ZM158.94 116.26H166.91V124.33H158.94ZM128.27 139.56H136.24V147.61H128.27ZM143.61 155.06H151.57V163.11H143.61ZM158.94 155.06H182.24V163.11H158.94ZM181.94 162.81H189.91V170.85H181.94ZM204.94 178.28H212.91V186.31H204.94ZM204.94 193.73H212.91V201.75H204.94ZM212.61 209.16H220.58V217.17H212.61ZM105.27 255.33H113.24V263.31H105.27ZM105.27 263.01H113.24V270.98H105.27ZM112.94 301.31H120.9V309.26H112.94ZM151.27 316.6H159.24V324.54H151.27ZM74.6 324.24H82.57V332.17H74.6ZM105.27 324.24H128.57V332.17H105.27ZM151.27 324.24H166.91V332.17H151.27ZM97.6 339.49H105.57V347.41H97.6ZM120.6 339.49H128.57V347.41H120.6ZM66.94 347.11H74.9V355.03H66.94ZM97.6 347.11H105.57V355.03H97.6ZM120.6 347.11H128.57V355.03H120.6Z" fill="#008fff" shape-rendering="crispEdges"/><path d="M112.94 0H120.9V7.2H112.94ZM97.6 6.9H105.57V15.05H97.6ZM174.27 6.9H182.24V15.05H174.27ZM82.27 14.75H90.24V22.89H82.27ZM74.6 22.59H82.57V30.73H74.6ZM158.94 38.26H166.91V46.38H158.94ZM181.94 38.26H189.91V46.38H181.94ZM82.27 46.08H90.24V54.2H82.27ZM158.94 53.9H166.91V62.02H158.94ZM181.94 61.72H189.91V69.82H181.94ZM89.94 69.52H97.9V77.63H89.94ZM166.61 77.33H182.24V85.42H166.61ZM174.27 92.92H182.24V101H174.27ZM105.27 108.49H113.24V116.56H105.27ZM158.94 108.49H174.57V116.56H158.94ZM120.6 124.03H128.57V132.1H120.6ZM151.27 124.03H159.24V132.1H151.27ZM151.27 155.06H159.24V163.11H151.27ZM143.61 162.81H151.57V170.85H143.61ZM151.27 170.55H159.24V178.58H151.27ZM197.27 193.73H205.24V201.75H197.27ZM212.61 201.45H220.58V209.46H212.61ZM128.27 224.57H136.24V232.57H128.27ZM204.94 224.57H212.91V232.57H204.94ZM143.61 232.27H151.57V240.26H143.61ZM112.94 247.65H120.9V255.63H112.94ZM135.94 247.65H143.91V255.63H135.94ZM151.27 247.65H159.24V255.63H151.27ZM128.27 255.33H136.24V263.31H128.27ZM105.27 270.68H113.24V278.64H105.27ZM120.6 270.68H128.57V278.64H120.6ZM59.27 278.34H74.9V286.3H59.27ZM51.6 286H59.57V293.96H51.6ZM66.94 286H74.9V293.96H66.94ZM82.27 286H90.24V293.96H82.27ZM128.27 286H136.24V293.96H128.27ZM59.27 293.66H67.24V301.61H59.27ZM105.27 293.66H120.9V301.61H105.27ZM43.94 301.31H67.24V309.26H43.94ZM120.6 301.31H128.57V309.26H120.6ZM59.27 316.6H67.24V324.54H59.27ZM43.94 324.24H51.9V332.17H43.94ZM59.27 324.24H74.9V332.17H59.27ZM28.6 331.87H51.9V339.79H28.6ZM120.6 331.87H128.57V339.79H120.6ZM105.27 347.11H113.24V355.03H105.27ZM74.6 362.34H82.57V370.25H74.6Z" fill="#0030ff" shape-rendering="crispEdges"/><path d="M120.6 0H128.57V7.2H120.6ZM166.61 0H174.57V7.2H166.61ZM112.94 6.9H120.9V15.05H112.94ZM166.61 6.9H174.57V15.05H166.61ZM105.27 14.75H113.24V22.89H105.27ZM166.61 14.75H174.57V22.89H166.61ZM166.61 22.59H174.57V30.73H166.61ZM166.61 30.43H182.24V38.56H166.61ZM82.27 38.26H90.24V46.38H82.27ZM151.27 46.08H159.24V54.2H151.27ZM89.94 53.9H97.9V62.02H89.94ZM89.94 61.72H97.9V69.82H89.94ZM166.61 61.72H174.57V69.82H166.61ZM174.27 69.52H182.24V77.63H174.27ZM97.6 85.12H105.57V93.22H97.6ZM166.61 85.12H174.57V93.22H166.61ZM166.61 92.92H174.57V101H166.61ZM105.27 100.7H113.24V108.79H105.27ZM166.61 100.7H174.57V108.79H166.61ZM112.94 116.26H120.9V124.33H112.94ZM166.61 162.81H174.57V170.85H166.61ZM181.94 170.55H189.91V178.58H181.94ZM197.27 170.55H205.24V178.58H197.27ZM143.61 178.28H151.57V186.31H143.61ZM197.27 178.28H205.24V186.31H197.27ZM135.94 186.01H143.91V194.03H135.94ZM197.27 186.01H205.24V194.03H197.27ZM135.94 193.73H143.91V201.75H135.94ZM135.94 201.45H143.91V209.46H135.94ZM204.94 201.45H212.91V209.46H204.94ZM128.27 209.16H136.24V217.17H128.27ZM197.27 232.27H205.24V240.26H197.27ZM135.94 239.96H151.57V247.95H135.94ZM189.61 239.96H197.57V247.95H189.61ZM181.94 247.65H189.91V255.63H181.94ZM120.6 255.33H128.57V263.31H120.6ZM112.94 270.68H120.9V278.64H112.94ZM82.27 278.34H90.24V286.3H82.27ZM105.27 278.34H120.9V286.3H105.27ZM59.27 286H67.24V293.96H59.27ZM74.6 286H82.57V293.96H74.6ZM74.6 293.66H82.57V301.61H74.6ZM120.6 293.66H128.57V301.61H120.6ZM66.94 301.31H74.9V309.26H66.94ZM43.94 308.96H51.9V316.9H43.94ZM28.6 316.6H36.57V324.54H28.6ZM51.6 316.6H59.57V324.54H51.6ZM28.6 324.24H44.23V332.17H28.6ZM112.94 331.87H120.9V339.79H112.94ZM112.94 339.49H120.9V347.41H112.94ZM66.94 354.73H82.57V362.64H66.94Z" fill="#0020ff" shape-rendering="crispEdges"/><path d="M128.27 0H143.91V7.2H128.27ZM158.94 6.9H166.91V15.05H158.94ZM128.27 14.75H143.91V22.89H128.27ZM97.6 22.59H105.57V30.73H97.6ZM120.6 22.59H128.57V30.73H120.6ZM151.27 22.59H166.91V30.73H151.27ZM128.27 30.43H166.91V38.56H128.27ZM105.27 38.26H113.24V46.38H105.27ZM151.27 38.26H159.24V46.38H151.27ZM112.94 46.08H128.57V54.2H112.94ZM135.94 46.08H143.91V54.2H135.94ZM97.6 53.9H105.57V62.02H97.6ZM120.6 53.9H128.57V62.02H120.6ZM151.27 53.9H159.24V62.02H151.27ZM105.27 61.72H113.24V69.82H105.27ZM112.94 69.52H120.9V77.63H112.94ZM135.94 69.52H143.91V77.63H135.94ZM166.61 69.52H174.57V77.63H166.61ZM135.94 77.33H143.91V85.42H135.94ZM151.27 77.33H159.24V85.42H151.27ZM143.61 85.12H151.57V93.22H143.61ZM112.94 92.92H128.57V101H112.94ZM112.94 100.7H136.24V108.79H112.94ZM112.94 108.49H136.24V116.56H112.94ZM151.27 108.49H159.24V116.56H151.27ZM120.6 116.26H136.24V124.33H120.6ZM166.61 178.28H182.24V186.31H166.61ZM189.61 178.28H197.57V186.31H189.61ZM151.27 186.01H159.24V194.03H151.27ZM174.27 186.01H182.24V194.03H174.27ZM151.27 193.73H159.24V201.75H151.27ZM174.27 193.73H182.24V201.75H174.27ZM189.61 193.73H197.57V201.75H189.61ZM151.27 201.45H189.91V209.46H151.27ZM197.27 201.45H205.24V209.46H197.27ZM143.61 209.16H159.24V217.17H143.61ZM174.27 209.16H189.91V217.17H174.27ZM158.94 216.87H166.91V224.87H158.94ZM189.61 216.87H212.91V224.87H189.61ZM143.61 224.57H151.57V232.57H143.61ZM158.94 224.57H174.57V232.57H158.94ZM181.94 224.57H189.91V232.57H181.94ZM197.27 224.57H205.24V232.57H197.27ZM174.27 232.27H189.91V240.26H174.27ZM166.61 239.96H174.57V247.95H166.61ZM66.94 293.66H74.9V301.61H66.94Z" fill="#0000ff" shape-rendering="crispEdges"/><path d="M143.61 0H151.57V7.2H143.61ZM120.6 14.75H128.57V22.89H120.6ZM112.94 22.59H120.9V30.73H112.94ZM105.27 30.43H120.9V38.56H105.27ZM120.6 38.26H136.24V46.38H120.6ZM97.6 46.08H113.24V54.2H97.6ZM105.27 53.9H120.9V62.02H105.27ZM143.61 53.9H151.57V62.02H143.61ZM135.94 61.72H151.57V69.82H135.94ZM105.27 69.52H113.24V77.63H105.27ZM120.6 69.52H136.24V77.63H120.6ZM143.61 69.52H166.91V77.63H143.61ZM143.61 77.33H151.57V85.42H143.61ZM112.94 85.12H120.9V93.22H112.94ZM128.27 85.12H143.91V93.22H128.27ZM128.27 92.92H136.24V101H128.27ZM151.27 92.92H159.24V101H151.27ZM135.94 100.7H143.91V108.79H135.94ZM135.94 108.49H143.91V116.56H135.94ZM158.94 178.28H166.91V186.31H158.94ZM158.94 186.01H174.57V194.03H158.94ZM181.94 186.01H189.91V194.03H181.94ZM181.94 193.73H189.91V201.75H181.94ZM166.61 209.16H174.57V217.17H166.61ZM189.61 209.16H197.57V217.17H189.61ZM174.27 216.87H189.91V224.87H174.27ZM151.27 224.57H159.24V232.57H151.27ZM174.27 224.57H182.24V232.57H174.27ZM189.61 224.57H197.57V232.57H189.61ZM158.94 232.27H166.91V240.26H158.94Z" fill="#0000ef" shape-rendering="crispEdges"/><path d="M151.27 0H159.24V7.2H151.27ZM128.27 6.9H159.24V15.05H128.27ZM143.61 14.75H159.24V22.89H143.61ZM128.27 22.59H151.57V30.73H128.27ZM97.6 30.43H105.57V38.56H97.6ZM120.6 30.43H128.57V38.56H120.6ZM97.6 38.26H105.57V46.38H97.6ZM112.94 38.26H120.9V46.38H112.94ZM135.94 38.26H151.57V46.38H135.94ZM128.27 46.08H136.24V54.2H128.27ZM128.27 53.9H143.91V62.02H128.27ZM112.94 61.72H136.24V69.82H112.94ZM151.27 61.72H159.24V69.82H151.27ZM105.27 77.33H136.24V85.42H105.27ZM120.6 85.12H128.57V93.22H120.6ZM151.27 85.12H159.24V93.22H151.27ZM135.94 92.92H151.57V101H135.94ZM143.61 100.7H159.24V108.79H143.61ZM143.61 108.49H151.57V116.56H143.61ZM135.94 116.26H143.91V124.33H135.94ZM158.94 193.73H174.57V201.75H158.94ZM189.61 201.45H197.57V209.46H189.61ZM158.94 209.16H166.91V217.17H158.94ZM197.27 209.16H205.24V217.17H197.27ZM151.27 216.87H159.24V224.87H151.27ZM166.61 216.87H174.57V224.87H166.61ZM166.61 232.27H174.57V240.26H166.61ZM158.94 239.96H166.91V247.95H158.94Z" fill="#0000df" shape-rendering="crispEdges"/><path d="M158.94 0H166.91V7.2H158.94ZM82.27 6.9H97.9V15.05H82.27ZM120.6 6.9H128.57V15.05H120.6ZM89.94 14.75H105.57V22.89H89.94ZM112.94 14.75H120.9V22.89H112.94ZM158.94 14.75H166.91V22.89H158.94ZM82.27 22.59H97.9V30.73H82.27ZM105.27 22.59H113.24V30.73H105.27ZM82.27 30.43H97.9V38.56H82.27ZM89.94 38.26H97.9V46.38H89.94ZM89.94 46.08H97.9V54.2H89.94ZM143.61 46.08H151.57V54.2H143.61ZM97.6 61.72H105.57V69.82H97.6ZM158.94 61.72H166.91V69.82H158.94ZM97.6 69.52H105.57V77.63H97.6ZM89.94 77.33H105.57V85.42H89.94ZM158.94 77.33H166.91V85.42H158.94ZM105.27 85.12H113.24V93.22H105.27ZM158.94 85.12H166.91V93.22H158.94ZM97.6 92.92H113.24V101H97.6ZM158.94 92.92H166.91V101H158.94ZM158.94 100.7H166.91V108.79H158.94ZM143.61 116.26H159.24V124.33H143.61ZM112.94 124.03H120.9V132.1H112.94ZM128.27 124.03H151.57V132.1H128.27ZM128.27 131.8H143.91V139.86H128.27ZM151.27 162.81H166.91V170.85H151.27ZM174.27 162.81H182.24V170.85H174.27ZM158.94 170.55H182.24V178.58H158.94ZM189.61 170.55H197.57V178.58H189.61ZM151.27 178.28H159.24V186.31H151.27ZM181.94 178.28H189.91V186.31H181.94ZM143.61 186.01H151.57V194.03H143.61ZM189.61 186.01H197.57V194.03H189.61ZM143.61 193.73H151.57V201.75H143.61ZM143.61 201.45H151.57V209.46H143.61ZM135.94 209.16H143.91V217.17H135.94ZM204.94 209.16H212.91V217.17H204.94ZM135.94 216.87H151.57V224.87H135.94ZM135.94 224.57H143.91V232.57H135.94ZM151.27 232.27H159.24V240.26H151.27ZM189.61 232.27H197.57V240.26H189.61ZM151.27 239.96H159.24V247.95H151.27ZM174.27 239.96H189.91V247.95H174.27ZM120.6 247.65H136.24V255.63H120.6ZM158.94 247.65H182.24V255.63H158.94ZM112.94 255.33H120.9V263.31H112.94ZM112.94 263.01H120.9V270.98H112.94ZM105.27 286H128.57V293.96H105.27ZM51.6 293.66H59.57V301.61H51.6ZM36.27 308.96H44.23V316.9H36.27ZM36.27 316.6H51.9V324.54H36.27ZM51.6 324.24H59.57V332.17H51.6ZM105.27 339.49H113.24V347.41H105.27ZM51.6 354.73H67.24V362.64H51.6Z" fill="#0010ff" shape-rendering="crispEdges"/><path d="M174.27 0H182.24V7.2H174.27ZM174.27 38.26H182.24V46.38H174.27ZM74.6 46.08H82.57V54.2H74.6ZM174.27 85.12H182.24V93.22H174.27ZM135.94 178.28H143.91V186.31H135.94ZM204.94 186.01H212.91V194.03H204.94ZM128.27 193.73H136.24V201.75H128.27ZM135.94 232.27H143.91V240.26H135.94ZM120.6 263.01H128.57V270.98H120.6ZM120.6 278.34H128.57V286.3H120.6ZM128.27 293.66H136.24V301.61H128.27ZM105.27 301.31H113.24V309.26H105.27ZM51.6 308.96H59.57V316.9H51.6ZM20.93 331.87H28.9V339.79H20.93ZM51.6 331.87H67.24V339.79H51.6ZM105.27 331.87H113.24V339.79H105.27ZM112.94 347.11H120.9V355.03H112.94Z" fill="#0050ff" shape-rendering="crispEdges"/><path d="M74.6 6.9H82.57V15.05H74.6ZM82.27 77.33H90.24V85.42H82.27ZM197.27 301.31H205.24V309.26H197.27Z" fill="#ffdf00" shape-rendering="crispEdges"/><path d="M74.6 14.75H82.57V22.89H74.6ZM74.6 30.43H82.57V38.56H74.6ZM74.6 38.26H82.57V46.38H74.6ZM158.94 46.08H166.91V54.2H158.94ZM82.27 61.72H90.24V69.82H82.27ZM112.94 131.8H128.57V139.86H112.94ZM143.61 170.55H151.57V178.58H143.61ZM120.6 209.16H128.57V217.17H120.6ZM128.27 216.87H136.24V224.87H128.27ZM120.6 239.96H136.24V247.95H120.6ZM197.27 239.96H205.24V247.95H197.27ZM189.61 247.65H197.57V255.63H189.61ZM82.27 293.66H90.24V301.61H82.27ZM74.6 301.31H82.57V309.26H74.6ZM128.27 301.31H136.24V309.26H128.27ZM28.6 308.96H36.57V316.9H28.6ZM20.93 324.24H28.9V332.17H20.93ZM51.6 347.11H59.57V355.03H51.6ZM74.6 347.11H82.57V355.03H74.6Z" fill="#0040ff" shape-rendering="crispEdges"/><path d="M181.94 30.43H189.91V38.56H181.94ZM82.27 53.9H90.24V62.02H82.27ZM166.61 53.9H174.57V62.02H166.61ZM174.27 61.72H182.24V69.82H174.27ZM174.27 100.7H182.24V108.79H174.27ZM143.61 131.8H151.57V139.86H143.61ZM135.94 139.56H143.91V147.61H135.94ZM128.27 186.01H136.24V194.03H128.27ZM128.27 201.45H136.24V209.46H128.27ZM105.27 247.65H113.24V255.63H105.27ZM143.61 247.65H151.57V255.63H143.61ZM135.94 255.33H143.91V263.31H135.94ZM74.6 278.34H82.57V286.3H74.6ZM20.93 316.6H28.9V324.54H20.93ZM66.94 316.6H74.9V324.54H66.94ZM66.94 331.87H74.9V339.79H66.94ZM59.27 347.11H67.24V355.03H59.27ZM66.94 362.34H74.9V370.25H66.94Z" fill="#0070ff" shape-rendering="crispEdges"/><path d="M212.61 61.72H220.58V69.82H212.61ZM89.94 85.12H97.9V93.22H89.94ZM97.6 100.7H105.57V108.79H97.6ZM212.61 224.57H220.58V232.57H212.61ZM166.61 263.01H174.57V270.98H166.61ZM43.94 293.66H51.9V301.61H43.94ZM166.61 324.24H174.57V332.17H166.61ZM166.61 331.87H174.57V339.79H166.61Z" fill="#00ffff" shape-rendering="crispEdges"/><path d="M89.94 92.92H97.9V101H89.94ZM212.61 293.66H220.58V301.61H212.61Z" fill="#cfff30" shape-rendering="crispEdges"/><path d="M197.27 92.92H205.24V101H197.27ZM197.27 100.7H205.24V108.79H197.27ZM105.27 124.03H113.24V132.1H105.27ZM158.94 255.33H174.57V263.31H158.94ZM89.94 263.01H97.9V270.98H89.94ZM89.94 270.68H97.9V278.64H89.94ZM158.94 316.6H166.91V324.54H158.94Z" fill="#00bfff" shape-rendering="crispEdges"/><path d="M204.94 92.92H212.91V101H204.94ZM204.94 100.7H220.58V108.79H204.94ZM197.27 108.49H212.91V116.56H197.27ZM189.61 162.81H205.24V170.85H189.61ZM174.27 255.33H182.24V263.31H174.27ZM151.27 331.87H159.24V339.79H151.27ZM43.94 347.11H51.9V355.03H43.94ZM82.27 347.11H90.24V355.03H82.27ZM43.94 354.73H51.9V362.64H43.94ZM82.27 354.73H90.24V362.64H82.27Z" fill="#00cfff" shape-rendering="crispEdges"/><path d="M97.6 108.49H105.57V116.56H97.6Z" fill="#bfff40" shape-rendering="crispEdges"/><path d="M212.61 108.49H220.58V116.56H212.61ZM204.94 170.55H212.91V178.58H204.94ZM181.94 255.33H189.91V263.31H181.94ZM158.94 263.01H166.91V270.98H158.94ZM51.6 362.34H59.57V370.25H51.6Z" fill="#00dfff" shape-rendering="crispEdges"/><path d="M220.28 209.16H228.24V217.17H220.28Z" fill="#40ffbf" shape-rendering="crispEdges"/><path d="M212.61 216.87H220.58V224.87H212.61ZM151.27 255.33H159.24V263.31H151.27ZM36.27 301.31H44.23V309.26H36.27ZM66.94 308.96H82.57V316.9H66.94ZM158.94 331.87H166.91V339.79H158.94ZM59.27 362.34H67.24V370.25H59.27Z" fill="#009fff" shape-rendering="crispEdges"/><path d="M220.28 216.87H228.24V224.87H220.28ZM197.27 286H220.58V293.96H197.27Z" fill="#8fff70" shape-rendering="crispEdges"/><path d="M82.27 270.68H90.24V278.64H82.27ZM89.94 278.34H105.57V286.3H89.94ZM89.94 286H105.57V293.96H89.94ZM89.94 293.66H105.57V301.61H89.94ZM143.61 316.6H151.57V324.54H143.61Z" fill="#00afff" shape-rendering="crispEdges"/><path d="M197.27 293.66H212.91V301.61H197.27Z" fill="#dfff20" shape-rendering="crispEdges"/><path d="M204.94 301.31H212.91V309.26H204.94Z" fill="#ff8000" shape-rendering="crispEdges"/><path d="M82.27 362.34H90.24V370.25H82.27Z" fill="#50ffaf" shape-rendering="crispEdges"/><use href="#land"/><g clip-path="url(#landclip)"><use href="#grid" stroke="#69ad69"/></g><path d="M77.5 12 L81 6 L87 3.5 L95 3M82.6 75 L91 92 L99 112 L105.5 124 L106.5 131M126 1 L125 4M180 70 L178.5 80M198 108 L196 113M47.5 298.5 L45 302.5 L41.5 304.5M200.5 176 L204 182M215 212 L213 227 L205 240 L201 243M180 263 L183 262M160 272 L167 271M88 296 L91 299 L90 302M45 355 L46 364 L51 370M81 354 L79 363 L76 370M159 325 L164 334 L163 340M151 339 L152 340" stroke="#000" stroke-width="0.8" fill="none"/><use href="#ast" x="66" y="47.7"/><use href="#ast" x="103.2" y="157.1"/><use href="#ast" x="112.6" y="249.9"/><use href="#ast" x="61.5" y="272"/><use href="#ast" x="9.7" y="320.8"/></g><rect x="0" y="0" width="347.9" height="427.4" fill="none" stroke="#000" stroke-width="1" shape-rendering="crispEdges"/><path d="M0 427.4v-4.2M0 0v4.2M0 -0h4.2M347.9 -0h-4.2M57.98 427.4v-4.2M57.98 0v4.2M0 72.36h4.2M347.9 72.36h-4.2M115.97 427.4v-4.2M115.97 0v4.2M0 144.26h4.2M347.9 144.26h-4.2M173.95 427.4v-4.2M173.95 0v4.2M0 215.7h4.2M347.9 215.7h-4.2M231.93 427.4v-4.2M231.93 0v4.2M0 286.69h4.2M347.9 286.69h-4.2M289.92 427.4v-4.2M289.92 0v4.2M0 357.26h4.2M347.9 357.26h-4.2M347.9 427.4v-4.2M347.9 0v4.2M0 427.4h4.2M347.9 427.4h-4.2" stroke="#000" stroke-width="1" fill="none" shape-rendering="crispEdges"/><text x="-8.3" y="7.2" font-size="20" text-anchor="end">37°N</text><text x="-8.3" y="77.96" font-size="15" text-anchor="end">30'</text><text x="-8.3" y="151.46" font-size="20" text-anchor="end">36°N</text><text x="-8.3" y="221.3" font-size="15" text-anchor="end">30'</text><text x="-8.3" y="293.89" font-size="20" text-anchor="end">35°N</text><text x="-8.3" y="362.86" font-size="15" text-anchor="end">30'</text><text x="-8.3" y="434.6" font-size="20" text-anchor="end">34°N</text><text x="-1" y="444.6" font-size="15" text-anchor="middle">30'</text><text x="57.98" y="448.6" font-size="20" text-anchor="middle">76°W</text><text x="114.97" y="444.6" font-size="15" text-anchor="middle">30'</text><text x="173.95" y="448.6" font-size="20" text-anchor="middle">75°W</text><text x="230.93" y="444.6" font-size="15" text-anchor="middle">30'</text><text x="289.92" y="448.6" font-size="20" text-anchor="middle">74°W</text><text x="346.9" y="444.6" font-size="15" text-anchor="middle">30'</text><rect x="3.7" y="20.2" width="111.6" height="24.9" fill="url(#jet)" stroke="#262626" stroke-width="1"/><text x="2.5" y="7.2" font-size="17.5" text-anchor="middle" style="fill:#262626">0</text><text x="59.5" y="7.2" font-size="17.5" text-anchor="middle" style="fill:#262626">2</text><text x="115.3" y="7.2" font-size="17.5" text-anchor="middle" style="fill:#262626">4</text><text x="312" y="37.5" font-size="20" text-anchor="middle">10 km</text><path d="M305 44H320" stroke="#000" stroke-width="4" stroke-linecap="round"/><text x="173.95" y="-11.7" font-size="20.6" font-weight="bold" text-anchor="middle">GDOP TotalErrors (1.25)</text></g>
<g transform="translate(843.1,142.4)"><rect x="0" y="0" width="347.9" height="427.4" fill="#fff"/><g clip-path="url(#axclip)"><use href="#grid" stroke="#cfcfcf"/><path d="M66.94 0H74.9V7.2H66.94ZM189.61 0H205.24V7.2H189.61ZM66.94 6.9H74.9V15.05H66.94ZM189.61 6.9H212.91V15.05H189.61ZM189.61 14.75H212.91V22.89H189.61ZM197.27 22.59H212.91V30.73H197.27ZM197.27 30.43H212.91V38.56H197.27ZM197.27 38.26H212.91V46.38H197.27ZM197.27 46.08H212.91V54.2H197.27ZM197.27 53.9H212.91V62.02H197.27ZM197.27 61.72H212.91V69.82H197.27ZM204.94 69.52H212.91V77.63H204.94ZM204.94 77.33H212.91V85.42H204.94ZM204.94 85.12H212.91V93.22H204.94ZM212.61 100.7H220.58V108.79H212.61ZM212.61 108.49H220.58V116.56H212.61ZM220.28 124.03H228.24V132.1H220.28ZM220.28 131.8H228.24V139.86H220.28ZM220.28 139.56H228.24V147.61H220.28ZM220.28 147.31H228.24V155.36H220.28ZM220.28 155.06H228.24V163.11H220.28ZM220.28 162.81H228.24V170.85H220.28ZM220.28 170.55H228.24V178.58H220.28ZM220.28 178.28H228.24V186.31H220.28ZM227.94 201.45H235.91V209.46H227.94ZM227.94 209.16H235.91V217.17H227.94ZM120.6 216.87H128.57V224.87H120.6ZM227.94 216.87H235.91V224.87H227.94ZM227.94 224.57H235.91V232.57H227.94ZM235.61 232.27H243.58V240.26H235.61ZM235.61 239.96H243.58V247.95H235.61ZM235.61 247.65H243.58V255.63H235.61ZM97.6 255.33H113.24V263.31H97.6ZM235.61 255.33H243.58V263.31H235.61ZM82.27 263.01H97.9V270.98H82.27ZM235.61 263.01H243.58V270.98H235.61ZM74.6 270.68H82.57V278.64H74.6ZM227.94 270.68H235.91V278.64H227.94ZM227.94 278.34H235.91V286.3H227.94ZM227.94 286H235.91V293.96H227.94ZM227.94 293.66H235.91V301.61H227.94ZM220.28 301.31H228.24V309.26H220.28ZM212.61 308.96H228.24V316.9H212.61ZM212.61 316.6H220.58V324.54H212.61ZM204.94 324.24H212.91V332.17H204.94ZM197.27 331.87H212.91V339.79H197.27ZM82.27 339.49H97.9V347.41H82.27ZM189.61 339.49H205.24V347.41H189.61ZM89.94 347.11H97.9V355.03H89.94ZM174.27 347.11H189.91V355.03H174.27ZM166.61 354.73H182.24V362.64H166.61ZM135.94 362.34H166.91V370.25H135.94ZM135.94 369.95H159.24V377.85H135.94ZM135.94 377.55H159.24V385.45H135.94ZM135.94 385.15H151.57V393.04H135.94ZM135.94 392.74H151.57V400.62H135.94ZM128.27 400.32H143.91V408.21H128.27ZM128.27 407.91H143.91V415.78H128.27ZM120.6 415.48H136.24V423.35H120.6ZM112.94 423.05H128.57V430.92H112.94Z" fill="#0000af" shape-rendering="crispEdges"/><path d="M74.6 0H82.57V7.2H74.6ZM151.27 0H159.24V7.2H151.27ZM158.94 6.9H166.91V15.05H158.94ZM158.94 14.75H166.91V22.89H158.94ZM166.61 38.26H174.57V46.38H166.61ZM174.27 61.72H182.24V69.82H174.27ZM181.94 77.33H189.91V85.42H181.94ZM89.94 100.7H97.9V108.79H89.94ZM204.94 139.56H212.91V147.61H204.94ZM204.94 147.31H212.91V155.36H204.94ZM204.94 155.06H212.91V163.11H204.94ZM204.94 162.81H212.91V170.85H204.94ZM128.27 201.45H136.24V209.46H128.27ZM212.61 216.87H220.58V224.87H212.61ZM212.61 224.57H220.58V232.57H212.61ZM212.61 255.33H220.58V263.31H212.61ZM212.61 263.01H220.58V270.98H212.61ZM97.6 286H105.57V293.96H97.6ZM204.94 286H212.91V293.96H204.94ZM197.27 301.31H205.24V309.26H197.27ZM82.27 316.6H90.24V324.54H82.27ZM97.6 316.6H105.57V324.54H97.6ZM174.27 324.24H182.24V332.17H174.27ZM143.61 339.49H166.91V347.41H143.61ZM128.27 347.11H136.24V355.03H128.27ZM105.27 354.73H113.24V362.64H105.27ZM120.6 354.73H128.57V362.64H120.6ZM105.27 362.34H113.24V370.25H105.27ZM105.27 369.95H120.9V377.85H105.27ZM89.94 377.55H113.24V385.45H89.94ZM5.6 385.15H13.57V393.04H5.6ZM89.94 385.15H97.9V393.04H89.94ZM105.27 385.15H113.24V393.04H105.27ZM97.6 392.74H105.57V400.62H97.6ZM13.27 407.91H21.23V415.78H13.27ZM59.27 407.91H67.24V415.78H59.27ZM74.6 407.91H90.24V415.78H74.6ZM13.27 415.48H21.23V423.35H13.27ZM51.6 415.48H59.57V423.35H51.6ZM28.6 423.05H44.23V430.92H28.6ZM51.6 423.05H74.9V430.92H51.6Z" fill="#0000ff" shape-rendering="crispEdges"/><path d="M82.27 0H90.24V7.2H82.27ZM151.27 61.72H159.24V69.82H151.27ZM158.94 77.33H166.91V85.42H158.94ZM158.94 85.12H166.91V93.22H158.94ZM166.61 92.92H174.57V101H166.61ZM174.27 131.8H182.24V139.86H174.27ZM174.27 139.56H182.24V147.61H174.27ZM181.94 155.06H189.91V163.11H181.94ZM181.94 162.81H189.91V170.85H181.94ZM135.94 186.01H143.91V194.03H135.94ZM135.94 209.16H143.91V217.17H135.94ZM181.94 224.57H197.57V232.57H181.94ZM181.94 239.96H189.91V247.95H181.94ZM174.27 247.65H189.91V255.63H174.27ZM166.61 270.68H174.57V278.64H166.61ZM166.61 293.66H174.57V301.61H166.61ZM151.27 308.96H159.24V316.9H151.27ZM112.94 316.6H136.24V324.54H112.94ZM143.61 316.6H151.57V324.54H143.61ZM128.27 324.24H136.24V332.17H128.27ZM51.6 331.87H59.57V339.79H51.6ZM36.27 354.73H44.23V362.64H36.27ZM13.27 362.34H21.23V370.25H13.27Z" fill="#008fff" shape-rendering="crispEdges"/><path d="M89.94 0H105.57V7.2H89.94ZM112.94 14.75H120.9V22.89H112.94ZM151.27 69.52H159.24V77.63H151.27ZM158.94 92.92H166.91V101H158.94ZM151.27 108.49H166.91V116.56H151.27ZM151.27 116.26H166.91V124.33H151.27ZM166.61 131.8H174.57V139.86H166.61ZM158.94 139.56H166.91V147.61H158.94ZM166.61 147.31H174.57V155.36H166.61ZM166.61 155.06H174.57V163.11H166.61ZM181.94 178.28H189.91V186.31H181.94ZM181.94 216.87H189.91V224.87H181.94ZM158.94 270.68H166.91V278.64H158.94ZM135.94 301.31H151.57V309.26H135.94ZM135.94 308.96H143.91V316.9H135.94ZM36.27 347.11H44.23V355.03H36.27ZM20.93 354.73H28.9V362.64H20.93Z" fill="#00bfff" shape-rendering="crispEdges"/><path d="M105.27 0H113.24V7.2H105.27ZM112.94 6.9H120.9V15.05H112.94ZM128.27 30.43H136.24V38.56H128.27ZM128.27 38.26H136.24V46.38H128.27ZM135.94 46.08H143.91V54.2H135.94ZM89.94 77.33H97.9V85.42H89.94ZM97.6 92.92H105.57V101H97.6ZM158.94 100.7H174.57V108.79H158.94ZM166.61 116.26H174.57V124.33H166.61ZM174.27 155.06H182.24V163.11H174.27ZM128.27 178.28H136.24V186.31H128.27ZM189.61 178.28H197.57V186.31H189.61ZM189.61 193.73H197.57V201.75H189.61ZM189.61 201.45H197.57V209.46H189.61ZM181.94 232.27H189.91V240.26H181.94ZM174.27 239.96H182.24V247.95H174.27ZM166.61 247.65H174.57V255.63H166.61ZM166.61 255.33H174.57V263.31H166.61ZM174.27 270.68H182.24V278.64H174.27ZM166.61 278.34H174.57V286.3H166.61ZM158.94 293.66H166.91V301.61H158.94ZM74.6 301.31H82.57V309.26H74.6ZM112.94 301.31H120.9V309.26H112.94ZM59.27 316.6H67.24V324.54H59.27ZM43.94 339.49H51.9V347.41H43.94Z" fill="#009fff" shape-rendering="crispEdges"/><path d="M112.94 0H120.9V7.2H112.94ZM120.6 6.9H128.57V15.05H120.6ZM120.6 14.75H128.57V22.89H120.6ZM128.27 22.59H136.24V30.73H128.27ZM135.94 30.43H143.91V38.56H135.94ZM135.94 38.26H143.91V46.38H135.94ZM143.61 53.9H151.57V62.02H143.61ZM158.94 69.52H166.91V77.63H158.94ZM97.6 100.7H105.57V108.79H97.6ZM97.6 116.26H105.57V124.33H97.6ZM174.27 124.03H182.24V132.1H174.27ZM181.94 139.56H189.91V147.61H181.94ZM174.27 147.31H189.91V155.36H174.27ZM120.6 170.55H128.57V178.58H120.6ZM189.61 170.55H197.57V178.58H189.61ZM128.27 216.87H136.24V224.87H128.27ZM189.61 216.87H197.57V224.87H189.61ZM189.61 232.27H197.57V240.26H189.61ZM189.61 239.96H197.57V247.95H189.61ZM174.27 263.01H189.91V270.98H174.27ZM181.94 270.68H189.91V278.64H181.94ZM174.27 278.34H182.24V286.3H174.27ZM166.61 286H182.24V293.96H166.61ZM82.27 301.31H90.24V309.26H82.27ZM151.27 301.31H159.24V309.26H151.27ZM166.61 301.31H174.57V309.26H166.61ZM112.94 308.96H120.9V316.9H112.94ZM158.94 308.96H166.91V316.9H158.94ZM135.94 316.6H143.91V324.54H135.94ZM120.6 324.24H128.57V332.17H120.6ZM51.6 339.49H59.57V347.41H51.6ZM43.94 347.11H51.9V355.03H43.94ZM28.6 362.34H36.57V370.25H28.6Z" fill="#0080ff" shape-rendering="crispEdges"/><path d="M120.6 0H128.57V7.2H120.6ZM135.94 22.59H143.91V30.73H135.94ZM143.61 38.26H151.57V46.38H143.61ZM143.61 46.08H151.57V54.2H143.61ZM174.27 116.26H182.24V124.33H174.27ZM197.27 186.01H205.24V194.03H197.27ZM135.94 193.73H143.91V201.75H135.94ZM135.94 201.45H143.91V209.46H135.94ZM197.27 201.45H205.24V209.46H197.27ZM189.61 247.65H197.57V255.63H189.61ZM181.94 255.33H189.91V263.31H181.94ZM181.94 278.34H189.91V286.3H181.94ZM174.27 293.66H182.24V301.61H174.27ZM158.94 301.31H166.91V309.26H158.94ZM74.6 308.96H82.57V316.9H74.6ZM66.94 316.6H74.9V324.54H66.94ZM151.27 316.6H159.24V324.54H151.27ZM59.27 324.24H67.24V332.17H59.27ZM112.94 331.87H128.57V339.79H112.94ZM43.94 354.73H51.9V362.64H43.94ZM20.93 362.34H28.9V370.25H20.93ZM28.6 369.95H36.57V377.85H28.6Z" fill="#0070ff" shape-rendering="crispEdges"/><path d="M128.27 0H136.24V7.2H128.27ZM74.6 14.75H82.57V22.89H74.6ZM128.27 14.75H143.91V22.89H128.27ZM151.27 53.9H159.24V62.02H151.27ZM166.61 77.33H174.57V85.42H166.61ZM166.61 85.12H174.57V93.22H166.61ZM174.27 100.7H182.24V108.79H174.27ZM97.6 108.49H105.57V116.56H97.6ZM174.27 108.49H189.91V116.56H174.27ZM181.94 124.03H189.91V132.1H181.94ZM189.61 162.81H197.57V170.85H189.61ZM197.27 178.28H205.24V186.31H197.27ZM197.27 216.87H205.24V224.87H197.27ZM189.61 255.33H197.57V263.31H189.61ZM181.94 286H189.91V293.96H181.94ZM105.27 301.31H113.24V309.26H105.27ZM105.27 308.96H113.24V316.9H105.27ZM166.61 308.96H174.57V316.9H166.61ZM112.94 324.24H120.9V332.17H112.94ZM135.94 324.24H143.91V332.17H135.94ZM59.27 331.87H67.24V339.79H59.27ZM51.6 347.11H59.57V355.03H51.6Z" fill="#0060ff" shape-rendering="crispEdges"/><path d="M135.94 0H143.91V7.2H135.94ZM151.27 30.43H159.24V38.56H151.27ZM158.94 46.08H166.91V54.2H158.94ZM166.61 61.72H174.57V69.82H166.61ZM174.27 85.12H182.24V93.22H174.27ZM181.94 92.92H189.91V101H181.94ZM181.94 100.7H189.91V108.79H181.94ZM97.6 124.03H105.57V132.1H97.6ZM189.61 131.8H197.57V139.86H189.61ZM197.27 147.31H205.24V155.36H197.27ZM128.27 209.16H136.24V217.17H128.27ZM204.94 224.57H212.91V232.57H204.94ZM204.94 232.27H212.91V240.26H204.94ZM204.94 239.96H212.91V247.95H204.94ZM204.94 255.33H212.91V263.31H204.94ZM204.94 263.01H212.91V270.98H204.94ZM197.27 278.34H205.24V286.3H197.27ZM197.27 286H205.24V293.96H197.27ZM43.94 293.66H51.9V301.61H43.94ZM97.6 293.66H105.57V301.61H97.6ZM189.61 293.66H197.57V301.61H189.61ZM82.27 308.96H90.24V316.9H82.27ZM74.6 316.6H82.57V324.54H74.6ZM166.61 316.6H174.57V324.54H166.61ZM66.94 331.87H74.9V339.79H66.94ZM105.27 331.87H113.24V339.79H105.27ZM135.94 331.87H143.91V339.79H135.94ZM5.6 339.49H13.57V347.41H5.6ZM112.94 347.11H128.57V355.03H112.94ZM59.27 354.73H67.24V362.64H59.27ZM5.6 362.34H13.57V370.25H5.6ZM51.6 362.34H67.24V370.25H51.6ZM59.27 377.55H67.24V385.45H59.27ZM20.93 385.15H28.9V393.04H20.93ZM36.27 385.15H44.23V393.04H36.27ZM51.6 385.15H59.57V393.04H51.6ZM28.6 392.74H51.9V400.62H28.6ZM28.6 400.32H36.57V408.21H28.6ZM43.94 400.32H51.9V408.21H43.94Z" fill="#0030ff" shape-rendering="crispEdges"/><path d="M143.61 0H151.57V7.2H143.61ZM151.27 6.9H159.24V15.05H151.27ZM158.94 22.59H166.91V30.73H158.94ZM166.61 46.08H174.57V54.2H166.61ZM174.27 69.52H182.24V77.63H174.27ZM82.27 77.33H90.24V85.42H82.27ZM189.61 92.92H197.57V101H189.61ZM189.61 100.7H197.57V108.79H189.61ZM197.27 116.26H205.24V124.33H197.27ZM197.27 124.03H205.24V132.1H197.27ZM204.94 170.55H212.91V178.58H204.94ZM204.94 178.28H212.91V186.31H204.94ZM204.94 186.01H212.91V194.03H204.94ZM212.61 232.27H220.58V240.26H212.61ZM212.61 239.96H220.58V247.95H212.61ZM212.61 247.65H220.58V255.63H212.61ZM204.94 270.68H212.91V278.64H204.94ZM105.27 278.34H113.24V286.3H105.27ZM89.94 286H97.9V293.96H89.94ZM197.27 293.66H205.24V301.61H197.27ZM189.61 308.96H197.57V316.9H189.61ZM181.94 316.6H189.91V324.54H181.94ZM74.6 324.24H82.57V332.17H74.6ZM151.27 331.87H159.24V339.79H151.27ZM166.61 331.87H174.57V339.79H166.61ZM66.94 339.49H74.9V347.41H66.94ZM66.94 354.73H74.9V362.64H66.94ZM112.94 362.34H120.9V370.25H112.94ZM5.6 369.95H13.57V377.85H5.6ZM66.94 369.95H82.57V377.85H66.94ZM5.6 377.55H13.57V385.45H5.6ZM74.6 377.55H82.57V385.45H74.6ZM74.6 385.15H90.24V393.04H74.6ZM97.6 385.15H105.57V393.04H97.6ZM74.6 392.74H97.9V400.62H74.6ZM13.27 400.32H28.9V408.21H13.27ZM74.6 400.32H90.24V408.21H74.6ZM20.93 407.91H59.57V415.78H20.93ZM66.94 407.91H74.9V415.78H66.94ZM20.93 415.48H36.57V423.35H20.93ZM43.94 415.48H51.9V423.35H43.94ZM59.27 415.48H74.9V423.35H59.27ZM43.94 423.05H51.9V430.92H43.94Z" fill="#0010ff" shape-rendering="crispEdges"/><path d="M158.94 0H166.91V7.2H158.94ZM166.61 22.59H174.57V30.73H166.61ZM166.61 30.43H174.57V38.56H166.61ZM174.27 38.26H182.24V46.38H174.27ZM174.27 46.08H182.24V54.2H174.27ZM174.27 53.9H182.24V62.02H174.27ZM181.94 69.52H189.91V77.63H181.94ZM189.61 85.12H197.57V93.22H189.61ZM197.27 108.49H205.24V116.56H197.27ZM204.94 131.8H212.91V139.86H204.94ZM128.27 193.73H136.24V201.75H128.27ZM212.61 209.16H220.58V217.17H212.61ZM120.6 224.57H128.57V232.57H120.6ZM212.61 270.68H220.58V278.64H212.61ZM74.6 278.34H82.57V286.3H74.6ZM212.61 278.34H220.58V286.3H212.61ZM204.94 293.66H212.91V301.61H204.94ZM89.94 316.6H97.9V324.54H89.94ZM189.61 316.6H197.57V324.54H189.61ZM97.6 324.24H105.57V332.17H97.6ZM181.94 324.24H189.91V332.17H181.94ZM174.27 331.87H182.24V339.79H174.27ZM135.94 339.49H143.91V347.41H135.94ZM74.6 362.34H82.57V370.25H74.6ZM120.6 362.34H128.57V370.25H120.6ZM82.27 369.95H105.57V377.85H82.27ZM120.6 369.95H128.57V377.85H120.6ZM82.27 377.55H90.24V385.45H82.27ZM112.94 377.55H120.9V385.45H112.94ZM112.94 385.15H120.9V393.04H112.94ZM5.6 392.74H13.57V400.62H5.6ZM105.27 392.74H120.9V400.62H105.27ZM5.6 400.32H13.57V408.21H5.6ZM89.94 400.32H105.57V408.21H89.94ZM89.94 407.91H105.57V415.78H89.94ZM74.6 415.48H97.9V423.35H74.6ZM13.27 423.05H28.9V430.92H13.27ZM74.6 423.05H82.57V430.92H74.6Z" fill="#0000ef" shape-rendering="crispEdges"/><path d="M166.61 0H174.57V7.2H166.61ZM174.27 6.9H182.24V15.05H174.27ZM174.27 14.75H182.24V22.89H174.27ZM181.94 22.59H189.91V30.73H181.94ZM181.94 30.43H189.91V38.56H181.94ZM181.94 38.26H189.91V46.38H181.94ZM181.94 46.08H189.91V54.2H181.94ZM181.94 53.9H189.91V62.02H181.94ZM189.61 69.52H197.57V77.63H189.61ZM82.27 85.12H90.24V93.22H82.27ZM197.27 85.12H205.24V93.22H197.27ZM204.94 108.49H212.91V116.56H204.94ZM204.94 116.26H212.91V124.33H204.94ZM212.61 124.03H220.58V132.1H212.61ZM212.61 139.56H220.58V147.61H212.61ZM212.61 147.31H220.58V155.36H212.61ZM212.61 155.06H220.58V163.11H212.61ZM212.61 162.81H220.58V170.85H212.61ZM212.61 170.55H220.58V178.58H212.61ZM212.61 178.28H220.58V186.31H212.61ZM220.28 216.87H228.24V224.87H220.28ZM220.28 224.57H228.24V232.57H220.28ZM220.28 232.27H228.24V240.26H220.28ZM220.28 255.33H228.24V263.31H220.28ZM220.28 263.01H228.24V270.98H220.28ZM89.94 270.68H105.57V278.64H89.94ZM220.28 270.68H228.24V278.64H220.28ZM220.28 278.34H228.24V286.3H220.28ZM212.61 293.66H220.58V301.61H212.61ZM204.94 308.96H212.91V316.9H204.94ZM197.27 316.6H205.24V324.54H197.27ZM89.94 324.24H97.9V332.17H89.94ZM189.61 324.24H197.57V332.17H189.61ZM181.94 331.87H189.91V339.79H181.94ZM174.27 339.49H182.24V347.41H174.27ZM135.94 347.11H151.57V355.03H135.94ZM166.61 347.11H174.57V355.03H166.61ZM82.27 354.73H90.24V362.64H82.27ZM82.27 362.34H97.9V370.25H82.27ZM128.27 362.34H136.24V370.25H128.27ZM128.27 369.95H136.24V377.85H128.27ZM120.6 385.15H128.57V393.04H120.6ZM120.6 392.74H128.57V400.62H120.6ZM112.94 400.32H120.9V408.21H112.94ZM112.94 407.91H120.9V415.78H112.94ZM105.27 415.48H113.24V423.35H105.27ZM97.6 423.05H105.57V430.92H97.6Z" fill="#0000cf" shape-rendering="crispEdges"/><path d="M174.27 0H189.91V7.2H174.27ZM181.94 6.9H189.91V15.05H181.94ZM181.94 14.75H189.91V22.89H181.94ZM189.61 22.59H197.57V30.73H189.61ZM189.61 30.43H197.57V38.56H189.61ZM189.61 38.26H197.57V46.38H189.61ZM189.61 46.08H197.57V54.2H189.61ZM189.61 53.9H197.57V62.02H189.61ZM189.61 61.72H197.57V69.82H189.61ZM197.27 69.52H205.24V77.63H197.27ZM197.27 77.33H205.24V85.42H197.27ZM204.94 92.92H212.91V101H204.94ZM204.94 100.7H212.91V108.79H204.94ZM212.61 116.26H220.58V124.33H212.61ZM212.61 131.8H220.58V139.86H212.61ZM120.6 186.01H128.57V194.03H120.6ZM220.28 186.01H228.24V194.03H220.28ZM220.28 193.73H228.24V201.75H220.28ZM220.28 201.45H228.24V209.46H220.28ZM120.6 209.16H128.57V217.17H120.6ZM220.28 209.16H228.24V217.17H220.28ZM227.94 232.27H235.91V240.26H227.94ZM227.94 239.96H235.91V247.95H227.94ZM227.94 247.65H235.91V255.63H227.94ZM227.94 255.33H235.91V263.31H227.94ZM97.6 263.01H113.24V270.98H97.6ZM227.94 263.01H235.91V270.98H227.94ZM82.27 270.68H90.24V278.64H82.27ZM220.28 286H228.24V293.96H220.28ZM220.28 293.66H228.24V301.61H220.28ZM212.61 301.31H220.58V309.26H212.61ZM204.94 316.6H212.91V324.54H204.94ZM197.27 324.24H205.24V332.17H197.27ZM82.27 331.87H97.9V339.79H82.27ZM189.61 331.87H197.57V339.79H189.61ZM181.94 339.49H189.91V347.41H181.94ZM82.27 347.11H90.24V355.03H82.27ZM89.94 354.73H97.9V362.64H89.94ZM135.94 354.73H166.91V362.64H135.94ZM128.27 377.55H136.24V385.45H128.27ZM128.27 385.15H136.24V393.04H128.27ZM128.27 392.74H136.24V400.62H128.27ZM120.6 400.32H128.57V408.21H120.6ZM120.6 407.91H128.57V415.78H120.6ZM112.94 415.48H120.9V423.35H112.94ZM105.27 423.05H113.24V430.92H105.27Z" fill="#0000bf" shape-rendering="crispEdges"/><path d="M204.94 0H304.91V7.2H204.94ZM212.61 6.9H304.91V15.05H212.61ZM212.61 14.75H304.91V22.89H212.61ZM212.61 22.59H304.91V30.73H212.61ZM212.61 30.43H304.91V38.56H212.61ZM212.61 38.26H304.91V46.38H212.61ZM212.61 46.08H304.91V54.2H212.61ZM212.61 53.9H297.25V62.02H212.61ZM212.61 61.72H297.25V69.82H212.61ZM212.61 69.52H289.58V77.63H212.61ZM296.95 69.52H304.91V77.63H296.95ZM212.61 77.33H289.58V85.42H212.61ZM212.61 85.12H281.91V93.22H212.61ZM289.28 85.12H297.25V93.22H289.28ZM212.61 92.92H258.91V101H212.61ZM266.28 92.92H274.25V101H266.28ZM342.95 92.92H350.92V101H342.95ZM220.28 100.7H243.58V108.79H220.28ZM327.61 100.7H350.92V108.79H327.61ZM220.28 108.49H243.58V116.56H220.28ZM312.28 108.49H320.25V116.56H312.28ZM327.61 108.49H350.92V116.56H327.61ZM220.28 116.26H243.58V124.33H220.28ZM319.95 116.26H350.92V124.33H319.95ZM227.94 124.03H243.58V132.1H227.94ZM319.95 124.03H350.92V132.1H319.95ZM227.94 131.8H251.24V139.86H227.94ZM312.28 131.8H350.92V139.86H312.28ZM227.94 139.56H243.58V147.61H227.94ZM327.61 139.56H350.92V147.61H327.61ZM227.94 147.31H243.58V155.36H227.94ZM312.28 147.31H350.92V155.36H312.28ZM227.94 155.06H243.58V163.11H227.94ZM312.28 155.06H350.92V163.11H312.28ZM227.94 162.81H251.24V170.85H227.94ZM327.61 162.81H350.92V170.85H327.61ZM227.94 170.55H251.24V178.58H227.94ZM319.95 170.55H327.91V178.58H319.95ZM335.28 170.55H350.92V178.58H335.28ZM227.94 178.28H243.58V186.31H227.94ZM327.61 178.28H350.92V186.31H327.61ZM227.94 186.01H251.24V194.03H227.94ZM335.28 186.01H350.92V194.03H335.28ZM120.6 193.73H128.57V201.75H120.6ZM227.94 193.73H251.24V201.75H227.94ZM335.28 193.73H350.92V201.75H335.28ZM120.6 201.45H128.57V209.46H120.6ZM235.61 201.45H251.24V209.46H235.61ZM235.61 209.16H258.91V217.17H235.61ZM266.28 209.16H274.25V217.17H266.28ZM235.61 216.87H266.58V224.87H235.61ZM273.94 216.87H281.91V224.87H273.94ZM235.61 224.57H289.58V232.57H235.61ZM243.28 232.27H289.58V240.26H243.28ZM296.95 232.27H304.91V240.26H296.95ZM243.28 239.96H297.25V247.95H243.28ZM105.27 247.65H113.24V255.63H105.27ZM243.28 247.65H289.58V255.63H243.28ZM89.94 255.33H97.9V263.31H89.94ZM243.28 255.33H297.25V263.31H243.28ZM243.28 263.01H289.58V270.98H243.28ZM66.94 270.68H74.9V278.64H66.94ZM235.61 270.68H297.25V278.64H235.61ZM235.61 278.34H289.58V286.3H235.61ZM235.61 286H297.25V293.96H235.61ZM235.61 293.66H289.58V301.61H235.61ZM227.94 301.31H289.58V309.26H227.94ZM227.94 308.96H289.58V316.9H227.94ZM220.28 316.6H289.58V324.54H220.28ZM212.61 324.24H281.91V332.17H212.61ZM212.61 331.87H289.58V339.79H212.61ZM204.94 339.49H281.91V347.41H204.94ZM189.61 347.11H274.25V355.03H189.61ZM181.94 354.73H235.91V362.64H181.94ZM250.94 354.73H258.91V362.64H250.94ZM166.61 362.34H220.58V370.25H166.61ZM158.94 369.95H205.24V377.85H158.94ZM212.61 369.95H220.58V377.85H212.61ZM158.94 377.55H212.91V385.45H158.94ZM151.27 385.15H205.24V393.04H151.27ZM151.27 392.74H197.57V400.62H151.27ZM143.61 400.32H197.57V408.21H143.61ZM143.61 407.91H197.57V415.78H143.61ZM135.94 415.48H189.91V423.35H135.94ZM128.27 423.05H189.91V430.92H128.27Z" fill="#00009f" shape-rendering="crispEdges"/><path d="M304.61 0H350.92V7.2H304.61ZM304.61 6.9H350.92V15.05H304.61ZM304.61 14.75H350.92V22.89H304.61ZM304.61 22.59H350.92V30.73H304.61ZM304.61 30.43H350.92V38.56H304.61ZM304.61 38.26H350.92V46.38H304.61ZM304.61 46.08H350.92V54.2H304.61ZM296.95 53.9H350.92V62.02H296.95ZM296.95 61.72H350.92V69.82H296.95ZM289.28 69.52H297.25V77.63H289.28ZM304.61 69.52H350.92V77.63H304.61ZM289.28 77.33H350.92V85.42H289.28ZM281.61 85.12H289.58V93.22H281.61ZM296.95 85.12H350.92V93.22H296.95ZM258.61 92.92H266.58V101H258.61ZM273.94 92.92H343.25V101H273.94ZM243.28 100.7H327.91V108.79H243.28ZM243.28 108.49H312.58V116.56H243.28ZM319.95 108.49H327.91V116.56H319.95ZM243.28 116.26H320.25V124.33H243.28ZM243.28 124.03H320.25V132.1H243.28ZM250.94 131.8H312.58V139.86H250.94ZM243.28 139.56H327.91V147.61H243.28ZM243.28 147.31H312.58V155.36H243.28ZM243.28 155.06H312.58V163.11H243.28ZM250.94 162.81H327.91V170.85H250.94ZM250.94 170.55H320.25V178.58H250.94ZM327.61 170.55H335.58V178.58H327.61ZM243.28 178.28H327.91V186.31H243.28ZM250.94 186.01H335.58V194.03H250.94ZM250.94 193.73H335.58V201.75H250.94ZM250.94 201.45H350.92V209.46H250.94ZM258.61 209.16H266.58V217.17H258.61ZM273.94 209.16H350.92V217.17H273.94ZM266.28 216.87H274.25V224.87H266.28ZM281.61 216.87H350.92V224.87H281.61ZM289.28 224.57H350.92V232.57H289.28ZM289.28 232.27H297.25V240.26H289.28ZM304.61 232.27H350.92V240.26H304.61ZM296.95 239.96H350.92V247.95H296.95ZM289.28 247.65H350.92V255.63H289.28ZM296.95 255.33H350.92V263.31H296.95ZM289.28 263.01H350.92V270.98H289.28ZM296.95 270.68H350.92V278.64H296.95ZM289.28 278.34H350.92V286.3H289.28ZM296.95 286H350.92V293.96H296.95ZM289.28 293.66H350.92V301.61H289.28ZM289.28 301.31H350.92V309.26H289.28ZM289.28 308.96H350.92V316.9H289.28ZM289.28 316.6H350.92V324.54H289.28ZM281.61 324.24H350.92V332.17H281.61ZM289.28 331.87H350.92V339.79H289.28ZM281.61 339.49H350.92V347.41H281.61ZM273.94 347.11H350.92V355.03H273.94ZM235.61 354.73H251.24V362.64H235.61ZM258.61 354.73H350.92V362.64H258.61ZM220.28 362.34H350.92V370.25H220.28ZM204.94 369.95H212.91V377.85H204.94ZM220.28 369.95H350.92V377.85H220.28ZM212.61 377.55H350.92V385.45H212.61ZM204.94 385.15H350.92V393.04H204.94ZM197.27 392.74H350.92V400.62H197.27ZM197.27 400.32H350.92V408.21H197.27ZM197.27 407.91H350.92V415.78H197.27ZM189.61 415.48H350.92V423.35H189.61ZM189.61 423.05H350.92V430.92H189.61Z" fill="#00008f" shape-rendering="crispEdges"/><path d="M74.6 6.9H82.57V15.05H74.6ZM128.27 6.9H136.24V15.05H128.27ZM143.61 22.59H151.57V30.73H143.61ZM151.27 38.26H159.24V46.38H151.27ZM158.94 61.72H166.91V69.82H158.94ZM89.94 85.12H97.9V93.22H89.94ZM174.27 92.92H182.24V101H174.27ZM181.94 116.26H189.91V124.33H181.94ZM181.94 131.8H189.91V139.86H181.94ZM189.61 139.56H197.57V147.61H189.61ZM189.61 147.31H197.57V155.36H189.61ZM189.61 155.06H197.57V163.11H189.61ZM197.27 193.73H205.24V201.75H197.27ZM197.27 209.16H205.24V217.17H197.27ZM197.27 224.57H205.24V232.57H197.27ZM197.27 232.27H205.24V240.26H197.27ZM197.27 247.65H205.24V255.63H197.27ZM189.61 263.01H205.24V270.98H189.61ZM189.61 270.68H197.57V278.64H189.61ZM189.61 278.34H197.57V286.3H189.61ZM82.27 286H90.24V293.96H82.27ZM105.27 286H113.24V293.96H105.27ZM89.94 293.66H97.9V301.61H89.94ZM105.27 293.66H113.24V301.61H105.27ZM36.27 301.31H44.23V309.26H36.27ZM158.94 316.6H166.91V324.54H158.94ZM143.61 324.24H159.24V332.17H143.61ZM128.27 331.87H136.24V339.79H128.27ZM59.27 339.49H67.24V347.41H59.27ZM5.6 354.73H13.57V362.64H5.6ZM51.6 354.73H59.57V362.64H51.6ZM36.27 362.34H44.23V370.25H36.27ZM13.27 369.95H28.9V377.85H13.27ZM36.27 369.95H44.23V377.85H36.27Z" fill="#0050ff" shape-rendering="crispEdges"/><path d="M82.27 6.9H90.24V15.05H82.27ZM105.27 6.9H113.24V15.05H105.27ZM97.6 14.75H113.24V22.89H97.6ZM105.27 22.59H113.24V30.73H105.27ZM120.6 30.43H128.57V38.56H120.6ZM120.6 38.26H128.57V46.38H120.6ZM128.27 53.9H143.91V62.02H128.27ZM135.94 61.72H151.57V69.82H135.94ZM143.61 69.52H151.57V77.63H143.61ZM97.6 85.12H105.57V93.22H97.6ZM151.27 92.92H159.24V101H151.27ZM158.94 131.8H166.91V139.86H158.94ZM135.94 178.28H143.91V186.31H135.94ZM143.61 193.73H151.57V201.75H143.61ZM181.94 193.73H189.91V201.75H181.94ZM181.94 201.45H189.91V209.46H181.94ZM181.94 209.16H189.91V217.17H181.94ZM158.94 224.57H174.57V232.57H158.94ZM174.27 232.27H182.24V240.26H174.27ZM151.27 270.68H159.24V278.64H151.27ZM59.27 308.96H67.24V316.9H59.27ZM51.6 316.6H59.57V324.54H51.6ZM51.6 324.24H59.57V332.17H51.6Z" fill="#00cfff" shape-rendering="crispEdges"/><path d="M89.94 6.9H97.9V15.05H89.94ZM120.6 46.08H128.57V54.2H120.6ZM143.61 77.33H151.57V85.42H143.61ZM151.27 100.7H159.24V108.79H151.27ZM143.61 108.49H151.57V116.56H143.61ZM143.61 116.26H151.57V124.33H143.61ZM151.27 131.8H159.24V139.86H151.27ZM158.94 155.06H166.91V163.11H158.94ZM143.61 178.28H151.57V186.31H143.61ZM181.94 186.01H189.91V194.03H181.94ZM166.61 209.16H182.24V217.17H166.61ZM135.94 216.87H143.91V224.87H135.94ZM158.94 216.87H174.57V224.87H158.94ZM151.27 224.57H159.24V232.57H151.27ZM151.27 247.65H166.91V255.63H151.27ZM151.27 255.33H159.24V263.31H151.27ZM143.61 270.68H151.57V278.64H143.61ZM143.61 286H151.57V293.96H143.61ZM135.94 293.66H143.91V301.61H135.94ZM128.27 301.31H136.24V309.26H128.27ZM28.6 347.11H36.57V355.03H28.6ZM13.27 354.73H21.23V362.64H13.27Z" fill="#00efff" shape-rendering="crispEdges"/><path d="M97.6 6.9H105.57V15.05H97.6ZM112.94 30.43H120.9V38.56H112.94ZM128.27 46.08H136.24V54.2H128.27ZM151.27 85.12H159.24V93.22H151.27ZM105.27 108.49H113.24V116.56H105.27ZM151.27 124.03H159.24V132.1H151.27ZM143.61 131.8H151.57V139.86H143.61ZM158.94 147.31H166.91V155.36H158.94ZM151.27 155.06H159.24V163.11H151.27ZM158.94 162.81H166.91V170.85H158.94ZM174.27 170.55H182.24V178.58H174.27ZM174.27 178.28H182.24V186.31H174.27ZM143.61 201.45H151.57V209.46H143.61ZM174.27 216.87H182.24V224.87H174.27ZM158.94 232.27H166.91V240.26H158.94ZM158.94 239.96H166.91V247.95H158.94ZM112.94 278.34H120.9V286.3H112.94ZM151.27 278.34H159.24V286.3H151.27ZM112.94 286H120.9V293.96H112.94ZM43.94 301.31H51.9V309.26H43.94ZM66.94 301.31H74.9V309.26H66.94ZM120.6 301.31H128.57V309.26H120.6ZM43.94 331.87H51.9V339.79H43.94ZM36.27 339.49H44.23V347.41H36.27Z" fill="#00dfff" shape-rendering="crispEdges"/><path d="M135.94 6.9H151.57V15.05H135.94ZM143.61 14.75H151.57V22.89H143.61ZM143.61 30.43H151.57V38.56H143.61ZM151.27 46.08H159.24V54.2H151.27ZM158.94 53.9H166.91V62.02H158.94ZM82.27 69.52H90.24V77.63H82.27ZM166.61 69.52H174.57V77.63H166.61ZM174.27 77.33H182.24V85.42H174.27ZM189.61 124.03H197.57V132.1H189.61ZM197.27 162.81H205.24V170.85H197.27ZM197.27 170.55H205.24V178.58H197.27ZM197.27 239.96H205.24V247.95H197.27ZM197.27 255.33H205.24V263.31H197.27ZM197.27 270.68H205.24V278.64H197.27ZM189.61 286H197.57V293.96H189.61ZM181.94 293.66H189.91V301.61H181.94ZM89.94 301.31H105.57V309.26H89.94ZM174.27 301.31H189.91V309.26H174.27ZM97.6 308.96H105.57V316.9H97.6ZM174.27 308.96H182.24V316.9H174.27ZM105.27 316.6H113.24V324.54H105.27ZM66.94 324.24H74.9V332.17H66.94ZM158.94 324.24H166.91V332.17H158.94ZM112.94 339.49H128.57V347.41H112.94ZM5.6 347.11H13.57V355.03H5.6ZM59.27 347.11H67.24V355.03H59.27ZM43.94 362.34H51.9V370.25H43.94ZM43.94 369.95H59.57V377.85H43.94ZM13.27 377.55H51.9V385.45H13.27ZM28.6 385.15H36.57V393.04H28.6Z" fill="#0040ff" shape-rendering="crispEdges"/><path d="M166.61 6.9H174.57V15.05H166.61ZM166.61 14.75H174.57V22.89H166.61ZM174.27 22.59H182.24V30.73H174.27ZM174.27 30.43H182.24V38.56H174.27ZM181.94 61.72H189.91V69.82H181.94ZM189.61 77.33H197.57V85.42H189.61ZM197.27 92.92H205.24V101H197.27ZM197.27 100.7H205.24V108.79H197.27ZM204.94 124.03H212.91V132.1H204.94ZM120.6 178.28H128.57V186.31H120.6ZM212.61 186.01H220.58V194.03H212.61ZM212.61 193.73H220.58V201.75H212.61ZM212.61 201.45H220.58V209.46H212.61ZM220.28 239.96H228.24V247.95H220.28ZM220.28 247.65H228.24V255.63H220.28ZM105.27 270.68H113.24V278.64H105.27ZM82.27 278.34H105.57V286.3H82.27ZM212.61 286H220.58V293.96H212.61ZM204.94 301.31H212.91V309.26H204.94ZM197.27 308.96H205.24V316.9H197.27ZM82.27 324.24H90.24V332.17H82.27ZM74.6 331.87H82.57V339.79H74.6ZM97.6 331.87H105.57V339.79H97.6ZM74.6 339.49H82.57V347.41H74.6ZM97.6 339.49H105.57V347.41H97.6ZM166.61 339.49H174.57V347.41H166.61ZM74.6 347.11H82.57V355.03H74.6ZM97.6 347.11H105.57V355.03H97.6ZM151.27 347.11H166.91V355.03H151.27ZM74.6 354.73H82.57V362.64H74.6ZM97.6 354.73H105.57V362.64H97.6ZM128.27 354.73H136.24V362.64H128.27ZM97.6 362.34H105.57V370.25H97.6ZM120.6 377.55H128.57V385.45H120.6ZM105.27 400.32H113.24V408.21H105.27ZM5.6 407.91H13.57V415.78H5.6ZM105.27 407.91H113.24V415.78H105.27ZM5.6 415.48H13.57V423.35H5.6ZM97.6 415.48H105.57V423.35H97.6ZM5.6 423.05H13.57V430.92H5.6ZM82.27 423.05H97.9V430.92H82.27Z" fill="#0000df" shape-rendering="crispEdges"/><path d="M82.27 14.75H90.24V22.89H82.27ZM97.6 22.59H105.57V30.73H97.6ZM112.94 46.08H120.9V54.2H112.94ZM112.94 53.9H120.9V62.02H112.94ZM82.27 61.72H90.24V69.82H82.27ZM128.27 61.72H136.24V69.82H128.27ZM128.27 69.52H136.24V77.63H128.27ZM97.6 77.33H105.57V85.42H97.6ZM128.27 77.33H136.24V85.42H128.27ZM135.94 85.12H143.91V93.22H135.94ZM112.94 92.92H120.9V101H112.94ZM143.61 92.92H151.57V101H143.61ZM143.61 100.7H151.57V108.79H143.61ZM143.61 139.56H151.57V147.61H143.61ZM143.61 147.31H151.57V155.36H143.61ZM143.61 170.55H159.24V178.58H143.61ZM166.61 178.28H174.57V186.31H166.61ZM151.27 186.01H166.91V194.03H151.27ZM174.27 186.01H182.24V194.03H174.27ZM151.27 193.73H159.24V201.75H151.27ZM151.27 201.45H159.24V209.46H151.27ZM166.61 201.45H182.24V209.46H166.61ZM151.27 239.96H159.24V247.95H151.27ZM51.6 286H59.57V293.96H51.6ZM74.6 293.66H82.57V301.61H74.6ZM59.27 301.31H67.24V309.26H59.27ZM43.94 324.24H51.9V332.17H43.94Z" fill="#20ffdf" shape-rendering="crispEdges"/><path d="M89.94 14.75H97.9V22.89H89.94ZM112.94 38.26H120.9V46.38H112.94ZM135.94 77.33H143.91V85.42H135.94ZM143.61 85.12H151.57V93.22H143.61ZM105.27 100.7H113.24V108.79H105.27ZM151.27 139.56H159.24V147.61H151.27ZM151.27 147.31H159.24V155.36H151.27ZM166.61 162.81H174.57V170.85H166.61ZM143.61 186.01H151.57V194.03H143.61ZM143.61 209.16H166.91V217.17H143.61ZM143.61 216.87H159.24V224.87H143.61ZM151.27 232.27H159.24V240.26H151.27ZM120.6 293.66H128.57V301.61H120.6ZM28.6 308.96H36.57V316.9H28.6Z" fill="#00ffff" shape-rendering="crispEdges"/><path d="M151.27 14.75H159.24V22.89H151.27ZM151.27 22.59H159.24V30.73H151.27ZM158.94 30.43H166.91V38.56H158.94ZM158.94 38.26H166.91V46.38H158.94ZM166.61 53.9H174.57V62.02H166.61ZM181.94 85.12H189.91V93.22H181.94ZM89.94 92.92H97.9V101H89.94ZM189.61 108.49H197.57V116.56H189.61ZM189.61 116.26H197.57V124.33H189.61ZM197.27 131.8H205.24V139.86H197.27ZM197.27 139.56H205.24V147.61H197.27ZM197.27 155.06H205.24V163.11H197.27ZM128.27 186.01H136.24V194.03H128.27ZM204.94 193.73H212.91V201.75H204.94ZM204.94 201.45H212.91V209.46H204.94ZM204.94 209.16H212.91V217.17H204.94ZM204.94 216.87H212.91V224.87H204.94ZM204.94 247.65H212.91V255.63H204.94ZM204.94 278.34H212.91V286.3H204.94ZM189.61 301.31H197.57V309.26H189.61ZM89.94 308.96H97.9V316.9H89.94ZM181.94 308.96H189.91V316.9H181.94ZM174.27 316.6H182.24V324.54H174.27ZM105.27 324.24H113.24V332.17H105.27ZM166.61 324.24H174.57V332.17H166.61ZM143.61 331.87H151.57V339.79H143.61ZM158.94 331.87H166.91V339.79H158.94ZM105.27 339.49H113.24V347.41H105.27ZM128.27 339.49H136.24V347.41H128.27ZM66.94 347.11H74.9V355.03H66.94ZM105.27 347.11H113.24V355.03H105.27ZM112.94 354.73H120.9V362.64H112.94ZM66.94 362.34H74.9V370.25H66.94ZM59.27 369.95H67.24V377.85H59.27ZM51.6 377.55H59.57V385.45H51.6ZM66.94 377.55H74.9V385.45H66.94ZM13.27 385.15H21.23V393.04H13.27ZM43.94 385.15H51.9V393.04H43.94ZM59.27 385.15H74.9V393.04H59.27ZM13.27 392.74H28.9V400.62H13.27ZM51.6 392.74H74.9V400.62H51.6ZM36.27 400.32H44.23V408.21H36.27ZM51.6 400.32H74.9V408.21H51.6ZM36.27 415.48H44.23V423.35H36.27Z" fill="#0020ff" shape-rendering="crispEdges"/><path d="M74.6 22.59H82.57V30.73H74.6ZM89.94 22.59H97.9V30.73H89.94ZM97.6 30.43H105.57V38.56H97.6ZM105.27 38.26H113.24V46.38H105.27ZM105.27 53.9H113.24V62.02H105.27ZM120.6 61.72H128.57V69.82H120.6ZM89.94 69.52H97.9V77.63H89.94ZM112.94 69.52H120.9V77.63H112.94ZM105.27 77.33H113.24V85.42H105.27ZM112.94 85.12H120.9V93.22H112.94ZM128.27 92.92H143.91V101H128.27ZM135.94 108.49H143.91V116.56H135.94ZM112.94 116.26H120.9V124.33H112.94ZM135.94 124.03H143.91V132.1H135.94ZM143.61 162.81H151.57V170.85H143.61ZM166.61 186.01H174.57V194.03H166.61ZM158.94 193.73H166.91V201.75H158.94ZM143.61 232.27H151.57V240.26H143.61ZM43.94 308.96H51.9V316.9H43.94ZM43.94 316.6H51.9V324.54H43.94ZM28.6 339.49H36.57V347.41H28.6Z" fill="#40ffbf" shape-rendering="crispEdges"/><path d="M82.27 22.59H90.24V30.73H82.27ZM112.94 77.33H128.57V85.42H112.94ZM128.27 85.12H136.24V93.22H128.27ZM120.6 124.03H128.57V132.1H120.6ZM128.27 131.8H136.24V139.86H128.27ZM112.94 162.81H120.9V170.85H112.94ZM128.27 224.57H136.24V232.57H128.27ZM36.27 324.24H44.23V332.17H36.27Z" fill="#70ff8f" shape-rendering="crispEdges"/><path d="M112.94 22.59H128.57V30.73H112.94ZM151.27 77.33H159.24V85.42H151.27ZM166.61 108.49H174.57V116.56H166.61ZM158.94 124.03H174.57V132.1H158.94ZM166.61 139.56H174.57V147.61H166.61ZM174.27 162.81H182.24V170.85H174.27ZM181.94 170.55H189.91V178.58H181.94ZM189.61 186.01H197.57V194.03H189.61ZM189.61 209.16H197.57V217.17H189.61ZM174.27 224.57H182.24V232.57H174.27ZM166.61 232.27H174.57V240.26H166.61ZM166.61 239.96H174.57V247.95H166.61ZM158.94 255.33H166.91V263.31H158.94ZM174.27 255.33H182.24V263.31H174.27ZM158.94 263.01H174.57V270.98H158.94ZM158.94 278.34H166.91V286.3H158.94ZM151.27 286H166.91V293.96H151.27ZM82.27 293.66H90.24V301.61H82.27ZM112.94 293.66H120.9V301.61H112.94ZM143.61 293.66H159.24V301.61H143.61ZM66.94 308.96H74.9V316.9H66.94ZM120.6 308.96H136.24V316.9H120.6ZM143.61 308.96H151.57V316.9H143.61ZM28.6 354.73H36.57V362.64H28.6Z" fill="#00afff" shape-rendering="crispEdges"/><path d="M74.6 30.43H82.57V38.56H74.6ZM112.94 255.33H120.9V263.31H112.94Z" fill="#ff4000" shape-rendering="crispEdges"/><path d="M82.27 30.43H90.24V38.56H82.27ZM120.6 232.27H128.57V240.26H120.6ZM20.93 316.6H28.9V324.54H20.93Z" fill="#ffdf00" shape-rendering="crispEdges"/><path d="M89.94 30.43H97.9V38.56H89.94ZM105.27 61.72H113.24V69.82H105.27ZM105.27 116.26H113.24V124.33H105.27ZM120.6 116.26H128.57V124.33H120.6ZM135.94 131.8H143.91V139.86H135.94ZM135.94 139.56H143.91V147.61H135.94ZM135.94 170.55H143.91V178.58H135.94ZM158.94 178.28H166.91V186.31H158.94ZM143.61 255.33H151.57V263.31H143.61ZM128.27 286H136.24V293.96H128.27ZM51.6 293.66H59.57V301.61H51.6Z" fill="#50ffaf" shape-rendering="crispEdges"/><path d="M105.27 30.43H113.24V38.56H105.27ZM135.94 69.52H143.91V77.63H135.94ZM105.27 92.92H113.24V101H105.27ZM135.94 100.7H143.91V108.79H135.94ZM135.94 116.26H143.91V124.33H135.94ZM143.61 124.03H151.57V132.1H143.61ZM151.27 162.81H159.24V170.85H151.27ZM158.94 170.55H174.57V178.58H158.94ZM151.27 178.28H159.24V186.31H151.27ZM166.61 193.73H182.24V201.75H166.61ZM151.27 263.01H159.24V270.98H151.27ZM143.61 278.34H151.57V286.3H143.61ZM135.94 286H143.91V293.96H135.94ZM128.27 293.66H136.24V301.61H128.27ZM51.6 308.96H59.57V316.9H51.6ZM36.27 331.87H44.23V339.79H36.27Z" fill="#10ffef" shape-rendering="crispEdges"/><path d="M74.6 38.26H82.57V46.38H74.6ZM112.94 155.06H128.57V163.11H112.94Z" fill="#ef0000" shape-rendering="crispEdges"/><path d="M82.27 38.26H90.24V46.38H82.27ZM112.94 131.8H120.9V139.86H112.94ZM120.6 139.56H128.57V147.61H120.6Z" fill="#ffaf00" shape-rendering="crispEdges"/><path d="M89.94 38.26H97.9V46.38H89.94ZM89.94 61.72H97.9V69.82H89.94ZM112.94 124.03H120.9V132.1H112.94ZM120.6 131.8H128.57V139.86H120.6ZM36.27 316.6H44.23V324.54H36.27Z" fill="#afff50" shape-rendering="crispEdges"/><path d="M97.6 38.26H105.57V46.38H97.6ZM105.27 46.08H113.24V54.2H105.27ZM120.6 53.9H128.57V62.02H120.6ZM120.6 69.52H128.57V77.63H120.6ZM105.27 85.12H113.24V93.22H105.27ZM112.94 100.7H136.24V108.79H112.94ZM112.94 108.49H120.9V116.56H112.94ZM128.27 108.49H136.24V116.56H128.27ZM128.27 116.26H136.24V124.33H128.27ZM143.61 155.06H151.57V163.11H143.61ZM128.27 170.55H136.24V178.58H128.27ZM158.94 201.45H166.91V209.46H158.94ZM143.61 224.57H151.57V232.57H143.61ZM143.61 263.01H151.57V270.98H143.61ZM135.94 278.34H143.91V286.3H135.94ZM120.6 286H128.57V293.96H120.6ZM51.6 301.31H59.57V309.26H51.6ZM36.27 308.96H44.23V316.9H36.27ZM20.93 347.11H28.9V355.03H20.93Z" fill="#30ffcf" shape-rendering="crispEdges"/><path d="M74.6 46.08H82.57V54.2H74.6ZM105.27 139.56H113.24V147.61H105.27Z" fill="#ff1000" shape-rendering="crispEdges"/><path d="M82.27 46.08H90.24V54.2H82.27ZM105.27 131.8H113.24V139.86H105.27Z" fill="#ff3000" shape-rendering="crispEdges"/><path d="M89.94 46.08H97.9V54.2H89.94ZM128.27 155.06H136.24V163.11H128.27ZM59.27 286H74.9V293.96H59.27ZM20.93 324.24H36.57V332.17H20.93ZM20.93 331.87H28.9V339.79H20.93Z" fill="#ffff00" shape-rendering="crispEdges"/><path d="M97.6 46.08H105.57V54.2H97.6ZM105.27 69.52H113.24V77.63H105.27ZM135.94 155.06H143.91V163.11H135.94ZM143.61 247.65H151.57V255.63H143.61ZM74.6 286H82.57V293.96H74.6Z" fill="#8fff70" shape-rendering="crispEdges"/><path d="M82.27 53.9H90.24V62.02H82.27ZM120.6 162.81H128.57V170.85H120.6Z" fill="#ff6000" shape-rendering="crispEdges"/><path d="M89.94 53.9H97.9V62.02H89.94ZM105.27 124.03H113.24V132.1H105.27ZM128.27 162.81H136.24V170.85H128.27ZM135.94 263.01H143.91V270.98H135.94ZM20.93 339.49H28.9V347.41H20.93Z" fill="#bfff40" shape-rendering="crispEdges"/><path d="M97.6 53.9H105.57V62.02H97.6ZM135.94 224.57H143.91V232.57H135.94ZM143.61 239.96H151.57V247.95H143.61ZM128.27 278.34H136.24V286.3H128.27ZM66.94 293.66H74.9V301.61H66.94ZM13.27 347.11H21.23V355.03H13.27Z" fill="#80ff80" shape-rendering="crispEdges"/><path d="M97.6 61.72H105.57V69.82H97.6ZM112.94 61.72H120.9V69.82H112.94ZM97.6 69.52H105.57V77.63H97.6ZM120.6 85.12H128.57V93.22H120.6ZM120.6 92.92H128.57V101H120.6ZM120.6 108.49H128.57V116.56H120.6ZM128.27 124.03H136.24V132.1H128.27ZM135.94 147.31H143.91V155.36H135.94ZM135.94 162.81H143.91V170.85H135.94ZM112.94 270.68H120.9V278.64H112.94ZM135.94 270.68H143.91V278.64H135.94Z" fill="#60ff9f" shape-rendering="crispEdges"/><path d="M112.94 139.56H120.9V147.61H112.94ZM128.27 247.65H136.24V255.63H128.27Z" fill="#8f0000" shape-rendering="crispEdges"/><path d="M128.27 139.56H136.24V147.61H128.27ZM120.6 278.34H128.57V286.3H120.6Z" fill="#cfff30" shape-rendering="crispEdges"/><path d="M105.27 147.31H113.24V155.36H105.27Z" fill="#ff7000" shape-rendering="crispEdges"/><path d="M112.94 147.31H120.9V155.36H112.94ZM120.6 263.01H128.57V270.98H120.6Z" fill="#800000" shape-rendering="crispEdges"/><path d="M120.6 147.31H128.57V155.36H120.6Z" fill="#af0000" shape-rendering="crispEdges"/><path d="M128.27 147.31H136.24V155.36H128.27ZM135.94 239.96H143.91V247.95H135.94ZM66.94 278.34H74.9V286.3H66.94ZM13.27 331.87H21.23V339.79H13.27ZM13.27 339.49H21.23V347.41H13.27Z" fill="#efff10" shape-rendering="crispEdges"/><path d="M128.27 232.27H136.24V240.26H128.27ZM112.94 263.01H120.9V270.98H112.94Z" fill="#ff9f00" shape-rendering="crispEdges"/><path d="M135.94 232.27H143.91V240.26H135.94ZM28.6 331.87H36.57V339.79H28.6Z" fill="#dfff20" shape-rendering="crispEdges"/><path d="M120.6 239.96H128.57V247.95H120.6Z" fill="#df0000" shape-rendering="crispEdges"/><path d="M128.27 239.96H136.24V247.95H128.27Z" fill="#cf0000" shape-rendering="crispEdges"/><path d="M112.94 247.65H120.9V255.63H112.94ZM128.27 263.01H136.24V270.98H128.27ZM120.6 270.68H128.57V278.64H120.6ZM28.6 316.6H36.57V324.54H28.6Z" fill="#ffcf00" shape-rendering="crispEdges"/><path d="M120.6 247.65H128.57V255.63H120.6Z" fill="#ff2000" shape-rendering="crispEdges"/><path d="M135.94 247.65H143.91V255.63H135.94ZM59.27 278.34H67.24V286.3H59.27Z" fill="#ffbf00" shape-rendering="crispEdges"/><path d="M120.6 255.33H136.24V263.31H120.6Z" fill="#ff0000" shape-rendering="crispEdges"/><path d="M135.94 255.33H143.91V263.31H135.94ZM13.27 324.24H21.23V332.17H13.27Z" fill="#ffef00" shape-rendering="crispEdges"/><path d="M128.27 270.68H136.24V278.64H128.27ZM59.27 293.66H67.24V301.61H59.27Z" fill="#9fff60" shape-rendering="crispEdges"/><use href="#land"/><g clip-path="url(#landclip)"><use href="#grid" stroke="#69ad69"/></g><path d="M72.46 3.45L71.62 10.82M179.09 3.45L182.52 10.82M182.52 10.82L184.89 18.67M184.89 18.67L185.77 20.01M189.91 26.51L185.77 20.01M189.91 26.51L190.5 34.34M190.5 34.34L193.16 42.17M193.16 42.17L193.44 43.26M195.08 49.99L193.44 43.26M195.08 49.99L194.39 57.81M194.39 57.81L195.67 65.62M195.67 65.62L199.58 73.43M199.58 73.43L201.11 78.73M201.78 81.23L201.11 78.73M201.78 81.23L204.09 89.02M204.09 89.02L206.45 96.81M206.45 96.81L208.24 104.6M208.24 104.6L208.78 105.62M213.12 112.37L208.78 105.62M213.12 112.37L213.66 120.15M213.66 120.15L216.44 125.39M217.95 127.92L216.44 125.39M216.44 135.05L216.38 135.68M217.95 127.92L216.44 135.05M216.38 135.68L216.44 136.04M218.86 143.44L216.44 136.04M218.86 143.44L220.65 151.19M220.65 151.19L220.39 158.93M220.39 158.93L220.9 166.68M220.9 166.68L221.02 174.41M221.02 174.41L220.38 182.14M124.66 189.87L124.44 189.2M220.38 182.14L222.01 189.87M124.66 189.87L127.91 197.59M222.01 189.87L222.42 197.59M127.91 197.59L127.25 205.31M222.42 197.59L222.56 205.31M127.25 205.31L125.08 213.02M222.56 205.31L223.8 213.02M125.08 213.02L125.07 220.72M223.8 213.02L224.11 214.19M226.94 220.72L224.11 214.19M125.07 220.72L124.44 222.65M226.94 220.72L228.34 228.42M228.34 228.42L229.07 236.11M229.07 236.11L229.54 243.8M229.54 243.8L230.56 251.49M109.5 251.49L109.33 259.17M230.56 251.49L228.98 259.17M109.33 259.17L109.15 266.84M228.98 259.17L229.68 266.84M93.77 272.12L88.85 274.51M101.44 269.19L93.77 272.12M109.1 268.13L101.44 269.19M109.15 266.84L109.1 268.13M229.68 266.84L228.26 274.51M78.44 276.22L70.77 274.88M86.1 275.45L78.44 276.22M88.85 274.51L86.1 275.45M228.26 274.51L226.9 282.17M226.9 282.17L224.94 289.83M224.11 291.44L220.82 297.49M224.94 289.83L224.11 291.44M220.82 297.49L217.73 305.13M216.44 306.85L211.98 312.78M217.73 305.13L216.44 306.85M208.78 319.33L208.04 320.42M211.98 312.78L208.78 319.33M201.11 325.93L199.18 328.05M208.04 320.42L201.11 325.93M86.1 334.42L85.16 335.68M93.77 333.55L86.1 334.42M95.17 335.68L93.77 333.55M193.44 334.29L191.92 335.68M199.18 328.05L193.44 334.29M85.16 335.68L83.98 343.3M95.17 335.68L96.48 343.3M185.77 342.3L184.75 343.3M191.92 335.68L185.77 342.3M83.98 343.3L85.2 350.92M96.48 343.3L95.98 350.92M178.11 347.77L172.96 350.92M184.75 343.3L178.11 347.77M85.2 350.92L86.1 353.02M93.77 357.66L86.1 353.02M95.98 350.92L93.77 357.66M139.77 356.16L138.57 358.54M147.44 355.7L139.77 356.16M153.23 358.54L147.44 355.7M162.77 357.71L159.25 358.54M170.44 352.93L162.77 357.71M172.96 350.92L170.44 352.93M138.57 358.54L135.88 366.14M153.23 358.54L155.11 359.79M159.25 358.54L155.11 359.79M135.88 366.14L135.43 373.75M135.43 373.75L132.69 381.35M132.69 381.35L133.35 388.94M132.11 391.51L130.02 396.53M133.35 388.94L132.11 391.51M130.02 396.53L125.07 404.11M124.44 405.26L120.8 411.69M125.07 404.11L124.44 405.26M116.77 417.1L114.87 419.27M120.8 411.69L116.77 417.1M109.1 425.29L107.79 426.84M114.87 419.27L109.1 425.29" stroke="#000" stroke-width="0.9" fill="none" stroke-linecap="round"/><path d="M214.3 -0.2 L209 10.4 L213.2 27.4 L220.6 40.1 L218.5 50.7 L221.7 61.3 L236.5 53.9 L228 45.4 L239.7 36.9 L233.3 29.5 L236.5 23.2 L235.5 10.4 L229.1 -0.2 M303.4 50.7 L305.5 59.2 L311.8 67.7 L320.3 69.8 L318.2 61.3 L314 52.9 L303.4 50.7" stroke="#000" stroke-width="0.9" fill="none"/><text transform="translate(78,5.6) rotate(-80)" font-size="15" text-anchor="middle" y="5">3</text><text transform="translate(212,19.9) rotate(80)" font-size="15" text-anchor="middle" y="5">3</text><text transform="translate(215,69.8) rotate(-30)" font-size="15" text-anchor="middle" y="5">3</text><text transform="translate(236,142) rotate(85)" font-size="15" text-anchor="middle" y="5">3</text><text transform="translate(334,21) rotate(-30)" font-size="15" text-anchor="middle" y="5">3</text><text transform="translate(315,62) rotate(60)" font-size="15" text-anchor="middle" y="5">3</text><text transform="translate(86.4,357) rotate(-20)" font-size="15" text-anchor="middle" y="5">3</text><text transform="translate(162,344) rotate(-30)" font-size="15" text-anchor="middle" y="5">3</text><text transform="translate(92,403) rotate(-60)" font-size="15" text-anchor="middle" y="5">3</text><text transform="translate(97,310) rotate(-60)" font-size="15" text-anchor="middle" y="5">3</text><use href="#ast" x="66" y="47.7"/><use href="#ast" x="103.2" y="157.1"/><use href="#ast" x="112.6" y="249.9"/><use href="#ast" x="61.5" y="272"/><use href="#ast" x="9.7" y="320.8"/></g><rect x="0" y="0" width="347.9" height="427.4" fill="none" stroke="#000" stroke-width="1" shape-rendering="crispEdges"/><path d="M0 427.4v-4.2M0 0v4.2M0 -0h4.2M347.9 -0h-4.2M57.98 427.4v-4.2M57.98 0v4.2M0 72.36h4.2M347.9 72.36h-4.2M115.97 427.4v-4.2M115.97 0v4.2M0 144.26h4.2M347.9 144.26h-4.2M173.95 427.4v-4.2M173.95 0v4.2M0 215.7h4.2M347.9 215.7h-4.2M231.93 427.4v-4.2M231.93 0v4.2M0 286.69h4.2M347.9 286.69h-4.2M289.92 427.4v-4.2M289.92 0v4.2M0 357.26h4.2M347.9 357.26h-4.2M347.9 427.4v-4.2M347.9 0v4.2M0 427.4h4.2M347.9 427.4h-4.2" stroke="#000" stroke-width="1" fill="none" shape-rendering="crispEdges"/><text x="-8.3" y="7.2" font-size="20" text-anchor="end">37°N</text><text x="-8.3" y="77.96" font-size="15" text-anchor="end">30'</text><text x="-8.3" y="151.46" font-size="20" text-anchor="end">36°N</text><text x="-8.3" y="221.3" font-size="15" text-anchor="end">30'</text><text x="-8.3" y="293.89" font-size="20" text-anchor="end">35°N</text><text x="-8.3" y="362.86" font-size="15" text-anchor="end">30'</text><text x="-8.3" y="434.6" font-size="20" text-anchor="end">34°N</text><text x="-1" y="444.6" font-size="15" text-anchor="middle">30'</text><text x="57.98" y="448.6" font-size="20" text-anchor="middle">76°W</text><text x="114.97" y="444.6" font-size="15" text-anchor="middle">30'</text><text x="173.95" y="448.6" font-size="20" text-anchor="middle">75°W</text><text x="230.93" y="444.6" font-size="15" text-anchor="middle">30'</text><text x="289.92" y="448.6" font-size="20" text-anchor="middle">74°W</text><text x="346.9" y="444.6" font-size="15" text-anchor="middle">30'</text><rect x="3.7" y="20.2" width="111.6" height="24.9" fill="url(#jet)" stroke="#262626" stroke-width="1"/><text x="2.5" y="7.2" font-size="17.5" text-anchor="middle" style="fill:#262626">0</text><text x="111.06" y="7.2" font-size="17.5" text-anchor="middle" style="fill:#262626">50</text><text x="312" y="37.5" font-size="20" text-anchor="middle">10 km</text><path d="M305 44H320" stroke="#000" stroke-width="4" stroke-linecap="round"/><text x="173.95" y="-11.7" font-size="20.6" font-weight="bold" text-anchor="middle">Number of Rads (3)</text></g>
<g transform="translate(1227.15,142.4)"><rect x="0" y="0" width="347.9" height="427.4" fill="#fff"/><g clip-path="url(#axclip)"><use href="#grid" stroke="#cfcfcf"/><path d="M66.94 0H82.57V7.2H66.94ZM105.27 0H113.24V7.2H105.27ZM181.94 0H189.91V7.2H181.94ZM204.94 0H274.25V7.2H204.94ZM281.61 0H304.91V7.2H281.61ZM181.94 6.9H189.91V15.05H181.94ZM204.94 6.9H281.91V15.05H204.94ZM289.28 6.9H312.58V15.05H289.28ZM335.28 6.9H350.92V15.05H335.28ZM181.94 14.75H189.91V22.89H181.94ZM204.94 14.75H243.58V22.89H204.94ZM281.61 14.75H312.58V22.89H281.61ZM319.95 14.75H350.92V22.89H319.95ZM181.94 22.59H197.57V30.73H181.94ZM204.94 22.59H251.24V30.73H204.94ZM273.94 22.59H350.92V30.73H273.94ZM189.61 30.43H197.57V38.56H189.61ZM212.61 30.43H251.24V38.56H212.61ZM273.94 30.43H350.92V38.56H273.94ZM189.61 38.26H197.57V46.38H189.61ZM204.94 38.26H251.24V46.38H204.94ZM289.28 38.26H327.91V46.38H289.28ZM342.95 38.26H350.92V46.38H342.95ZM166.61 46.08H197.57V54.2H166.61ZM212.61 46.08H251.24V54.2H212.61ZM289.28 46.08H335.58V54.2H289.28ZM342.95 46.08H350.92V54.2H342.95ZM174.27 53.9H243.58V62.02H174.27ZM296.95 53.9H335.58V62.02H296.95ZM189.61 61.72H197.57V69.82H189.61ZM220.28 61.72H235.91V69.82H220.28ZM273.94 61.72H327.91V69.82H273.94ZM189.61 69.52H197.57V77.63H189.61ZM220.28 69.52H235.91V77.63H220.28ZM273.94 69.52H335.58V77.63H273.94ZM181.94 77.33H212.91V85.42H181.94ZM220.28 77.33H235.91V85.42H220.28ZM273.94 77.33H297.25V85.42H273.94ZM304.61 77.33H335.58V85.42H304.61ZM82.27 85.12H90.24V93.22H82.27ZM181.94 85.12H228.24V93.22H181.94ZM304.61 85.12H327.91V93.22H304.61ZM181.94 92.92H197.57V101H181.94ZM212.61 92.92H228.24V101H212.61ZM89.94 100.7H97.9V108.79H89.94ZM181.94 100.7H197.57V108.79H181.94ZM220.28 100.7H243.58V108.79H220.28ZM342.95 100.7H350.92V108.79H342.95ZM174.27 108.49H197.57V116.56H174.27ZM220.28 108.49H243.58V116.56H220.28ZM342.95 108.49H350.92V116.56H342.95ZM97.6 116.26H105.57V124.33H97.6ZM166.61 116.26H243.58V124.33H166.61ZM342.95 116.26H350.92V124.33H342.95ZM158.94 124.03H243.58V132.1H158.94ZM105.27 131.8H113.24V139.86H105.27ZM151.27 131.8H266.58V139.86H151.27ZM105.27 139.56H128.57V147.61H105.27ZM143.61 139.56H274.25V147.61H143.61ZM105.27 147.31H266.58V155.36H105.27ZM296.95 147.31H304.91V155.36H296.95ZM112.94 155.06H143.91V163.11H112.94ZM181.94 155.06H251.24V163.11H181.94ZM289.28 155.06H312.58V163.11H289.28ZM112.94 162.81H143.91V170.85H112.94ZM204.94 162.81H251.24V170.85H204.94ZM289.28 162.81H335.58V170.85H289.28ZM120.6 170.55H136.24V178.58H120.6ZM212.61 170.55H243.58V178.58H212.61ZM296.95 170.55H304.91V178.58H296.95ZM312.28 170.55H335.58V178.58H312.28ZM120.6 178.28H136.24V186.31H120.6ZM212.61 178.28H243.58V186.31H212.61ZM312.28 178.28H335.58V186.31H312.28ZM120.6 186.01H128.57V194.03H120.6ZM212.61 186.01H243.58V194.03H212.61ZM120.6 193.73H128.57V201.75H120.6ZM212.61 193.73H243.58V201.75H212.61ZM296.95 193.73H312.58V201.75H296.95ZM120.6 201.45H128.57V209.46H120.6ZM220.28 201.45H243.58V209.46H220.28ZM289.28 201.45H312.58V209.46H289.28ZM327.61 201.45H335.58V209.46H327.61ZM227.94 209.16H235.91V217.17H227.94ZM273.94 209.16H312.58V217.17H273.94ZM319.95 209.16H343.25V217.17H319.95ZM120.6 216.87H128.57V224.87H120.6ZM273.94 216.87H297.25V224.87H273.94ZM319.95 216.87H343.25V224.87H319.95ZM120.6 224.57H128.57V232.57H120.6ZM220.28 224.57H235.91V232.57H220.28ZM273.94 224.57H289.58V232.57H273.94ZM327.61 224.57H335.58V232.57H327.61ZM120.6 232.27H136.24V240.26H120.6ZM212.61 232.27H235.91V240.26H212.61ZM204.94 239.96H235.91V247.95H204.94ZM197.27 247.65H235.91V255.63H197.27ZM89.94 255.33H105.57V263.31H89.94ZM143.61 255.33H151.57V263.31H143.61ZM189.61 255.33H235.91V263.31H189.61ZM258.61 255.33H281.91V263.31H258.61ZM82.27 263.01H90.24V270.98H82.27ZM97.6 263.01H105.57V270.98H97.6ZM128.27 263.01H159.24V270.98H128.27ZM174.27 263.01H243.58V270.98H174.27ZM250.94 263.01H281.91V270.98H250.94ZM66.94 270.68H82.57V278.64H66.94ZM97.6 270.68H105.57V278.64H97.6ZM128.27 270.68H235.91V278.64H128.27ZM258.61 270.68H281.91V278.64H258.61ZM128.27 278.34H235.91V286.3H128.27ZM266.28 278.34H281.91V286.3H266.28ZM135.94 286H197.57V293.96H135.94ZM220.28 286H235.91V293.96H220.28ZM135.94 293.66H197.57V301.61H135.94ZM220.28 293.66H228.24V301.61H220.28ZM82.27 301.31H97.9V309.26H82.27ZM135.94 301.31H197.57V309.26H135.94ZM212.61 301.31H228.24V309.26H212.61ZM235.61 301.31H251.24V309.26H235.61ZM59.27 308.96H67.24V316.9H59.27ZM82.27 308.96H251.24V316.9H82.27ZM74.6 316.6H143.91V324.54H74.6ZM166.61 316.6H228.24V324.54H166.61ZM235.61 316.6H251.24V324.54H235.61ZM13.27 324.24H21.23V332.17H13.27ZM82.27 324.24H105.57V332.17H82.27ZM128.27 324.24H136.24V332.17H128.27ZM174.27 324.24H197.57V332.17H174.27ZM212.61 324.24H228.24V332.17H212.61ZM13.27 331.87H21.23V339.79H13.27ZM74.6 331.87H105.57V339.79H74.6ZM128.27 331.87H136.24V339.79H128.27ZM143.61 331.87H151.57V339.79H143.61ZM174.27 331.87H182.24V339.79H174.27ZM5.6 339.49H97.9V347.41H5.6ZM135.94 339.49H174.57V347.41H135.94ZM5.6 347.11H44.23V355.03H5.6ZM128.27 347.11H166.91V355.03H128.27ZM5.6 354.73H44.23V362.64H5.6ZM97.6 354.73H166.91V362.64H97.6ZM250.94 354.73H266.58V362.64H250.94ZM5.6 362.34H51.9V370.25H5.6ZM89.94 362.34H128.57V370.25H89.94ZM135.94 362.34H166.91V370.25H135.94ZM243.28 362.34H266.58V370.25H243.28ZM5.6 369.95H120.9V377.85H5.6ZM128.27 369.95H166.91V377.85H128.27ZM243.28 369.95H266.58V377.85H243.28ZM5.6 377.55H120.9V385.45H5.6ZM128.27 377.55H159.24V385.45H128.27ZM5.6 385.15H120.9V393.04H5.6ZM128.27 385.15H159.24V393.04H128.27ZM5.6 392.74H113.24V400.62H5.6ZM120.6 392.74H151.57V400.62H120.6ZM5.6 400.32H113.24V408.21H5.6ZM120.6 400.32H143.91V408.21H120.6ZM5.6 407.91H105.57V415.78H5.6ZM128.27 407.91H143.91V415.78H128.27ZM5.6 415.48H97.9V423.35H5.6ZM5.6 423.05H105.57V430.92H5.6Z" fill="#008fff" shape-rendering="crispEdges"/><path d="M82.27 0H105.57V7.2H82.27ZM112.94 0H182.24V7.2H112.94ZM66.94 6.9H182.24V15.05H66.94ZM74.6 14.75H182.24V22.89H74.6ZM74.6 22.59H182.24V30.73H74.6ZM74.6 30.43H189.91V38.56H74.6ZM74.6 38.26H189.91V46.38H74.6ZM74.6 46.08H166.91V54.2H74.6ZM82.27 53.9H174.57V62.02H82.27ZM82.27 61.72H189.91V69.82H82.27ZM197.27 61.72H220.58V69.82H197.27ZM82.27 69.52H189.91V77.63H82.27ZM197.27 69.52H220.58V77.63H197.27ZM82.27 77.33H182.24V85.42H82.27ZM89.94 85.12H182.24V93.22H89.94ZM89.94 92.92H182.24V101H89.94ZM197.27 92.92H212.91V101H197.27ZM97.6 100.7H182.24V108.79H97.6ZM197.27 100.7H220.58V108.79H197.27ZM97.6 108.49H174.57V116.56H97.6ZM197.27 108.49H220.58V116.56H197.27ZM105.27 116.26H166.91V124.33H105.27ZM105.27 124.03H159.24V132.1H105.27ZM112.94 131.8H151.57V139.86H112.94ZM128.27 139.56H143.91V147.61H128.27ZM143.61 155.06H182.24V163.11H143.61ZM143.61 162.81H205.24V170.85H143.61ZM135.94 170.55H212.91V178.58H135.94ZM135.94 178.28H212.91V186.31H135.94ZM128.27 186.01H212.91V194.03H128.27ZM128.27 193.73H212.91V201.75H128.27ZM128.27 201.45H220.58V209.46H128.27ZM120.6 209.16H228.24V217.17H120.6ZM128.27 216.87H228.24V224.87H128.27ZM128.27 224.57H143.91V232.57H128.27ZM151.27 224.57H220.58V232.57H151.27ZM158.94 232.27H212.91V240.26H158.94ZM120.6 239.96H136.24V247.95H120.6ZM158.94 239.96H205.24V247.95H158.94ZM105.27 247.65H143.91V255.63H105.27ZM151.27 247.65H197.57V255.63H151.27ZM105.27 255.33H143.91V263.31H105.27ZM151.27 255.33H189.91V263.31H151.27ZM89.94 263.01H97.9V270.98H89.94ZM105.27 263.01H128.57V270.98H105.27ZM158.94 263.01H174.57V270.98H158.94ZM82.27 270.68H97.9V278.64H82.27ZM105.27 270.68H128.57V278.64H105.27ZM59.27 278.34H128.57V286.3H59.27ZM51.6 286H136.24V293.96H51.6ZM197.27 286H220.58V293.96H197.27ZM43.94 293.66H136.24V301.61H43.94ZM197.27 293.66H220.58V301.61H197.27ZM36.27 301.31H82.57V309.26H36.27ZM97.6 301.31H136.24V309.26H97.6ZM197.27 301.31H212.91V309.26H197.27ZM28.6 308.96H59.57V316.9H28.6ZM66.94 308.96H82.57V316.9H66.94ZM20.93 316.6H74.9V324.54H20.93ZM143.61 316.6H166.91V324.54H143.61ZM227.94 316.6H235.91V324.54H227.94ZM20.93 324.24H82.57V332.17H20.93ZM105.27 324.24H128.57V332.17H105.27ZM143.61 324.24H174.57V332.17H143.61ZM20.93 331.87H74.9V339.79H20.93ZM120.6 331.87H128.57V339.79H120.6ZM151.27 331.87H174.57V339.79H151.27ZM120.6 339.49H136.24V347.41H120.6ZM43.94 347.11H90.24V355.03H43.94ZM120.6 347.11H128.57V355.03H120.6ZM43.94 354.73H90.24V362.64H43.94ZM51.6 362.34H90.24V370.25H51.6Z" fill="#8fff70" shape-rendering="crispEdges"/><path d="M189.61 0H205.24V7.2H189.61ZM273.94 0H281.91V7.2H273.94ZM304.61 0H350.92V7.2H304.61ZM189.61 6.9H205.24V15.05H189.61ZM281.61 6.9H289.58V15.05H281.61ZM312.28 6.9H335.58V15.05H312.28ZM189.61 14.75H205.24V22.89H189.61ZM243.28 14.75H281.91V22.89H243.28ZM312.28 14.75H320.25V22.89H312.28ZM197.27 22.59H205.24V30.73H197.27ZM250.94 22.59H274.25V30.73H250.94ZM197.27 30.43H212.91V38.56H197.27ZM250.94 30.43H274.25V38.56H250.94ZM197.27 38.26H205.24V46.38H197.27ZM250.94 38.26H289.58V46.38H250.94ZM327.61 38.26H343.25V46.38H327.61ZM197.27 46.08H212.91V54.2H197.27ZM250.94 46.08H289.58V54.2H250.94ZM335.28 46.08H343.25V54.2H335.28ZM243.28 53.9H297.25V62.02H243.28ZM335.28 53.9H350.92V62.02H335.28ZM235.61 61.72H274.25V69.82H235.61ZM327.61 61.72H350.92V69.82H327.61ZM235.61 69.52H274.25V77.63H235.61ZM335.28 69.52H350.92V77.63H335.28ZM212.61 77.33H220.58V85.42H212.61ZM235.61 77.33H274.25V85.42H235.61ZM296.95 77.33H304.91V85.42H296.95ZM335.28 77.33H350.92V85.42H335.28ZM227.94 85.12H304.91V93.22H227.94ZM327.61 85.12H350.92V93.22H327.61ZM227.94 92.92H350.92V101H227.94ZM243.28 100.7H343.25V108.79H243.28ZM243.28 108.49H343.25V116.56H243.28ZM243.28 116.26H343.25V124.33H243.28ZM97.6 124.03H105.57V132.1H97.6ZM243.28 124.03H350.92V132.1H243.28ZM266.28 131.8H350.92V139.86H266.28ZM273.94 139.56H350.92V147.61H273.94ZM266.28 147.31H297.25V155.36H266.28ZM304.61 147.31H350.92V155.36H304.61ZM250.94 155.06H289.58V163.11H250.94ZM312.28 155.06H350.92V163.11H312.28ZM250.94 162.81H289.58V170.85H250.94ZM335.28 162.81H350.92V170.85H335.28ZM243.28 170.55H297.25V178.58H243.28ZM304.61 170.55H312.58V178.58H304.61ZM335.28 170.55H350.92V178.58H335.28ZM243.28 178.28H312.58V186.31H243.28ZM335.28 178.28H350.92V186.31H335.28ZM243.28 186.01H350.92V194.03H243.28ZM243.28 193.73H297.25V201.75H243.28ZM312.28 193.73H350.92V201.75H312.28ZM243.28 201.45H289.58V209.46H243.28ZM312.28 201.45H327.91V209.46H312.28ZM335.28 201.45H350.92V209.46H335.28ZM235.61 209.16H274.25V217.17H235.61ZM312.28 209.16H320.25V217.17H312.28ZM342.95 209.16H350.92V217.17H342.95ZM227.94 216.87H274.25V224.87H227.94ZM296.95 216.87H320.25V224.87H296.95ZM342.95 216.87H350.92V224.87H342.95ZM235.61 224.57H274.25V232.57H235.61ZM289.28 224.57H327.91V232.57H289.28ZM335.28 224.57H350.92V232.57H335.28ZM235.61 232.27H350.92V240.26H235.61ZM235.61 239.96H350.92V247.95H235.61ZM235.61 247.65H350.92V255.63H235.61ZM235.61 255.33H258.91V263.31H235.61ZM281.61 255.33H350.92V263.31H281.61ZM243.28 263.01H251.24V270.98H243.28ZM281.61 263.01H350.92V270.98H281.61ZM235.61 270.68H258.91V278.64H235.61ZM281.61 270.68H350.92V278.64H281.61ZM235.61 278.34H266.58V286.3H235.61ZM281.61 278.34H350.92V286.3H281.61ZM235.61 286H350.92V293.96H235.61ZM227.94 293.66H350.92V301.61H227.94ZM227.94 301.31H235.91V309.26H227.94ZM250.94 301.31H350.92V309.26H250.94ZM250.94 308.96H350.92V316.9H250.94ZM250.94 316.6H350.92V324.54H250.94ZM135.94 324.24H143.91V332.17H135.94ZM197.27 324.24H212.91V332.17H197.27ZM227.94 324.24H350.92V332.17H227.94ZM135.94 331.87H143.91V339.79H135.94ZM181.94 331.87H350.92V339.79H181.94ZM174.27 339.49H350.92V347.41H174.27ZM89.94 347.11H97.9V355.03H89.94ZM166.61 347.11H350.92V355.03H166.61ZM89.94 354.73H97.9V362.64H89.94ZM166.61 354.73H251.24V362.64H166.61ZM266.28 354.73H350.92V362.64H266.28ZM128.27 362.34H136.24V370.25H128.27ZM166.61 362.34H243.58V370.25H166.61ZM266.28 362.34H350.92V370.25H266.28ZM120.6 369.95H128.57V377.85H120.6ZM166.61 369.95H243.58V377.85H166.61ZM266.28 369.95H350.92V377.85H266.28ZM120.6 377.55H128.57V385.45H120.6ZM158.94 377.55H350.92V385.45H158.94ZM120.6 385.15H128.57V393.04H120.6ZM158.94 385.15H350.92V393.04H158.94ZM112.94 392.74H120.9V400.62H112.94ZM151.27 392.74H350.92V400.62H151.27ZM112.94 400.32H120.9V408.21H112.94ZM143.61 400.32H350.92V408.21H143.61ZM105.27 407.91H128.57V415.78H105.27ZM143.61 407.91H350.92V415.78H143.61ZM97.6 415.48H350.92V423.35H97.6ZM105.27 423.05H350.92V430.92H105.27Z" fill="#00008f" shape-rendering="crispEdges"/><path d="M143.61 224.57H151.57V232.57H143.61ZM135.94 232.27H159.24V240.26H135.94ZM143.61 239.96H159.24V247.95H143.61ZM143.61 247.65H151.57V255.63H143.61ZM105.27 331.87H120.9V339.79H105.27ZM97.6 339.49H120.9V347.41H97.6ZM97.6 347.11H120.9V355.03H97.6Z" fill="#ff7000" shape-rendering="crispEdges"/><path d="M135.94 239.96H143.91V247.95H135.94Z" fill="#800000" shape-rendering="crispEdges"/><use href="#land"/><g clip-path="url(#landclip)"><use href="#grid" stroke="#69ad69"/></g><path transform="translate(-3.8,3.9)" d="M78.44 10.6L70.77 10.6M85.87 3.45L78.44 10.6M101.67 3.45L109.1 10.6M116.54 3.45L109.1 10.6M178.34 3.45L178.34 10.82M178.34 10.82L178.34 18.67M178.34 18.67L178.34 26.51M178.34 26.51L185.77 34.11M186 34.34L185.77 34.11M186 34.34L186 42.17M170.44 42.4L163 49.99M178.11 42.4L170.44 42.4M185.77 42.4L178.11 42.4M186 42.17L185.77 42.4M163 49.99L170.44 57.57M170.67 57.81L170.44 57.57M170.67 57.81L178.11 65.39M185.77 65.39L178.11 65.39M186 65.62L185.77 65.39M201.11 65.39L200.88 65.62M208.78 65.39L201.11 65.39M216.44 65.39L208.78 65.39M216.67 65.62L216.44 65.39M186 65.62L186 73.43M200.88 65.62L200.88 73.43M216.67 65.62L216.67 73.43M185.77 73.66L178.34 81.23M186 73.43L185.77 73.66M200.88 73.43L201.11 73.66M208.78 73.66L201.11 73.66M216.44 73.54L208.78 73.66M216.67 73.43L216.44 73.54M93.54 89.02L86.1 81.46M178.34 81.23L178.34 89.02M178.34 89.02L178.34 96.81M201.11 96.58L200.88 96.81M208.78 96.58L201.11 96.58M209.01 96.81L208.78 96.58M101.21 104.6L93.77 97.04M178.34 96.81L178.34 104.6M200.88 96.81L200.88 104.6M209.01 96.81L216.44 104.36M216.67 104.6L216.44 104.36M178.11 104.83L170.67 112.37M178.34 104.6L178.11 104.83M200.88 104.6L200.88 112.37M216.67 104.6L216.67 112.37M108.87 120.15L101.44 112.61M170.44 112.61L163 120.15M170.67 112.37L170.44 112.61M200.88 112.37L201.11 112.61M208.78 112.61L201.11 112.61M216.44 112.61L208.78 112.61M216.67 112.37L216.44 112.61M108.87 120.15L108.99 127.92M162.77 120.38L155.34 127.92M163 120.15L162.77 120.38M116.54 135.68L109.1 128.15M155.11 128.15L147.67 135.68M155.34 127.92L155.11 128.15M116.54 135.68L116.77 135.91M124.44 135.91L116.77 135.91M131.88 143.44L124.44 135.91M147.44 135.91L140 143.44M147.67 135.68L147.44 135.91M131.88 143.44L132.11 143.67M139.77 143.67L132.11 143.67M140 143.44L139.77 143.67M147.44 158.7L147.21 158.93M155.11 158.7L147.44 158.7M162.77 158.7L155.11 158.7M170.44 158.7L162.77 158.7M178.11 158.7L170.44 158.7M178.34 158.93L178.11 158.7M147.21 158.93L147.21 166.68M178.34 158.93L185.77 166.44M193.44 166.44L185.77 166.44M201.11 166.44L193.44 166.44M201.34 166.68L201.11 166.44M139.77 174.18L139.54 174.41M147.21 166.68L139.77 174.18M201.34 166.68L208.78 174.18M209.01 174.41L208.78 174.18M139.54 174.41L139.54 182.14M209.01 174.41L209.01 182.14M132.11 189.64L131.88 189.87M139.54 182.14L132.11 189.64M209.01 182.14L209.01 189.87M131.88 189.87L131.88 197.59M209.01 189.87L209.01 197.59M131.88 197.59L131.88 205.31M209.01 197.59L216.44 205.07M216.67 205.31L216.44 205.07M131.88 205.31L124.44 212.78M216.67 205.31L224.11 212.78M224.34 213.02L224.11 212.78M131.88 220.72L124.44 213.25M224.34 213.02L224.22 220.72M131.88 220.72L131.88 228.42M224.11 220.95L216.67 228.42M224.22 220.72L224.11 220.95M131.88 228.42L132.11 228.65M135.82 236.11L132.11 228.65M216.44 228.65L209.01 236.11M216.67 228.42L216.44 228.65M132.11 243.57L124.44 243.57M135.82 236.11L132.11 243.57M208.78 236.35L201.34 243.8M209.01 236.11L208.78 236.35M201.11 244.03L193.67 251.49M201.34 243.8L201.11 244.03M147.44 255.44L140 259.17M154.88 259.17L147.44 255.44M193.44 251.72L186 259.17M193.67 251.49L193.44 251.72M94 266.84L93.77 266.61M108.87 259.17L108.87 266.84M132.11 259.4L124.67 266.84M139.77 259.4L132.11 259.4M140 259.17L139.77 259.4M154.88 259.17L155.11 259.4M162.54 266.84L155.11 259.4M178.11 259.4L170.67 266.84M185.77 259.4L178.11 259.4M186 259.17L185.77 259.4M93.54 266.84L86.1 274.28M94 266.84L94 274.51M108.87 266.84L108.87 274.51M124.67 266.84L124.67 274.51M162.54 266.84L162.77 267.07M170.44 267.07L162.77 267.07M170.67 266.84L170.44 267.07M78.44 281.94L70.77 281.94M85.87 274.51L78.44 281.94M94 274.51L101.44 281.94M108.87 274.51L101.44 281.94M124.67 274.51L124.67 282.17M124.67 282.17L132.11 289.6M132.34 289.83L132.11 289.6M201.11 289.6L200.88 289.83M208.78 289.6L201.11 289.6M216.44 289.6L208.78 289.6M216.67 289.83L216.44 289.6M132.34 289.83L132.34 297.49M200.88 289.83L200.88 297.49M216.67 289.83L216.67 297.49M86.1 297.72L78.67 305.13M93.77 297.72L86.1 297.72M101.21 305.13L93.77 297.72M132.34 297.49L132.34 305.13M200.88 297.49L200.88 305.13M216.44 297.72L209.01 305.13M216.67 297.49L216.44 297.72M63.1 305.36L55.67 312.78M70.54 312.78L63.1 305.36M78.67 305.13L78.67 312.78M101.21 305.13L101.44 305.36M109.1 305.36L101.44 305.36M116.77 305.36L109.1 305.36M124.44 305.36L116.77 305.36M132.11 305.36L124.44 305.36M132.34 305.13L132.11 305.36M200.88 305.13L201.11 305.36M208.78 305.36L201.11 305.36M209.01 305.13L208.78 305.36M55.67 312.78L63.1 320.19M70.54 312.78L63.1 320.19M78.44 313.01L71 320.42M78.67 312.78L78.44 313.01M147.44 320.19L147.21 320.42M155.11 320.19L147.44 320.19M162.77 320.19L155.11 320.19M163 320.42L162.77 320.19M231.78 320.19L231.55 320.42M232.01 320.42L231.78 320.19M71 320.42L78.44 327.82M78.67 328.05L78.44 327.82M109.1 327.82L108.87 328.05M116.77 327.82L109.1 327.82M124.44 327.82L116.77 327.82M124.67 328.05L124.44 327.82M147.21 320.42L147.32 328.05M163 320.42L170.44 327.82M170.67 328.05L170.44 327.82M231.55 320.42L231.78 320.53M232.01 320.42L231.78 320.53M24.54 328.05L24.54 335.68M78.44 328.28L71 335.68M78.67 328.05L78.44 328.28M108.87 328.05L105.16 335.68M124.67 328.05L124.67 335.68M147.32 328.05L147.44 328.28M154.88 335.68L147.44 328.28M170.67 328.05L170.67 335.68M24.54 335.68L24.77 335.91M32.43 335.91L24.77 335.91M40.1 335.91L32.43 335.91M47.77 335.91L40.1 335.91M55.44 335.91L47.77 335.91M63.1 335.91L55.44 335.91M70.77 335.91L63.1 335.91M71 335.68L70.77 335.91M101.44 339.38L97.49 343.3M105.16 335.68L101.44 339.38M124.67 335.68L132.11 343.07M132.34 343.3L132.11 343.07M154.88 335.68L155.11 335.91M162.77 335.91L155.11 335.91M170.44 335.91L162.77 335.91M170.67 335.68L170.44 335.91M47.77 350.69L47.54 350.92M55.44 350.69L47.77 350.69M63.1 350.69L55.44 350.69M70.77 350.69L63.1 350.69M78.44 350.69L70.77 350.69M86.1 350.69L78.44 350.69M86.22 350.92L86.1 350.69M97.49 343.3L98.81 350.92M132.11 343.53L124.67 350.92M132.34 343.3L132.11 343.53M47.54 350.92L47.54 358.54M86.22 350.92L86.22 358.54M98.81 350.92L101.44 354.84M109.1 354.84L101.44 354.84M116.77 354.84L109.1 354.84M124.44 351.15L116.77 354.84M124.67 350.92L124.44 351.15M47.54 358.54L47.77 358.76M55.21 366.14L47.77 358.76M86.22 358.54L86.33 366.14M55.21 366.14L55.44 366.37M63.1 366.37L55.44 366.37M70.77 366.37L63.1 366.37M78.44 366.37L70.77 366.37M86.1 366.37L78.44 366.37M86.33 366.14L86.1 366.37" stroke="#000" stroke-width="0.9" fill="none" stroke-linecap="round"/><text transform="translate(81.6,6.8) rotate(-80)" font-size="15" text-anchor="middle" y="5">2</text><text transform="translate(109.3,4.5) rotate(-80)" font-size="15" text-anchor="middle" y="5">2</text><text transform="translate(173.5,26.8) rotate(90)" font-size="15" text-anchor="middle" y="5">2</text><text transform="translate(90,92) rotate(60)" font-size="15" text-anchor="middle" y="5">2</text><text transform="translate(211,76.7) rotate(70)" font-size="15" text-anchor="middle" y="5">2</text><text transform="translate(211.9,114.4) rotate(60)" font-size="15" text-anchor="middle" y="5">2</text><text transform="translate(128.5,232.4) rotate(70)" font-size="15" text-anchor="middle" y="5">2</text><text transform="translate(182.3,261.2) rotate(-20)" font-size="15" text-anchor="middle" y="5">2</text><text transform="translate(104.7,276.6) rotate(70)" font-size="15" text-anchor="middle" y="5">2</text><text transform="translate(208.4,303.5) rotate(70)" font-size="15" text-anchor="middle" y="5">2</text><text transform="translate(58.2,320.8) rotate(-20)" font-size="15" text-anchor="middle" y="5">2</text><text transform="translate(22,332.3) rotate(60)" font-size="15" text-anchor="middle" y="5">2</text><text transform="translate(165,337.3) rotate(60)" font-size="15" text-anchor="middle" y="5">2</text><text transform="translate(112.4,357.3) rotate(-15)" font-size="15" text-anchor="middle" y="5">2</text><text transform="translate(73.5,370.7) rotate(0)" font-size="15" text-anchor="middle" y="5">2</text><use href="#ast" x="66" y="47.7"/><use href="#ast" x="103.2" y="157.1"/><use href="#ast" x="112.6" y="249.9"/><use href="#ast" x="61.5" y="272"/><use href="#ast" x="9.7" y="320.8"/></g><rect x="0" y="0" width="347.9" height="427.4" fill="none" stroke="#000" stroke-width="1" shape-rendering="crispEdges"/><path d="M0 427.4v-4.2M0 0v4.2M0 -0h4.2M347.9 -0h-4.2M57.98 427.4v-4.2M57.98 0v4.2M0 72.36h4.2M347.9 72.36h-4.2M115.97 427.4v-4.2M115.97 0v4.2M0 144.26h4.2M347.9 144.26h-4.2M173.95 427.4v-4.2M173.95 0v4.2M0 215.7h4.2M347.9 215.7h-4.2M231.93 427.4v-4.2M231.93 0v4.2M0 286.69h4.2M347.9 286.69h-4.2M289.92 427.4v-4.2M289.92 0v4.2M0 357.26h4.2M347.9 357.26h-4.2M347.9 427.4v-4.2M347.9 0v4.2M0 427.4h4.2M347.9 427.4h-4.2" stroke="#000" stroke-width="1" fill="none" shape-rendering="crispEdges"/><text x="-8.3" y="7.2" font-size="20" text-anchor="end">37°N</text><text x="-8.3" y="77.96" font-size="15" text-anchor="end">30'</text><text x="-8.3" y="151.46" font-size="20" text-anchor="end">36°N</text><text x="-8.3" y="221.3" font-size="15" text-anchor="end">30'</text><text x="-8.3" y="293.89" font-size="20" text-anchor="end">35°N</text><text x="-8.3" y="362.86" font-size="15" text-anchor="end">30'</text><text x="-8.3" y="434.6" font-size="20" text-anchor="end">34°N</text><text x="-1" y="444.6" font-size="15" text-anchor="middle">30'</text><text x="57.98" y="448.6" font-size="20" text-anchor="middle">76°W</text><text x="114.97" y="444.6" font-size="15" text-anchor="middle">30'</text><text x="173.95" y="448.6" font-size="20" text-anchor="middle">75°W</text><text x="230.93" y="444.6" font-size="15" text-anchor="middle">30'</text><text x="289.92" y="448.6" font-size="20" text-anchor="middle">74°W</text><text x="346.9" y="444.6" font-size="15" text-anchor="middle">30'</text><rect x="3.7" y="20.2" width="111.6" height="24.9" fill="url(#jet)" stroke="#262626" stroke-width="1"/><text x="2.5" y="7.2" font-size="17.5" text-anchor="middle" style="fill:#262626">0</text><text x="59.5" y="7.2" font-size="17.5" text-anchor="middle" style="fill:#262626">2</text><text x="115.3" y="7.2" font-size="17.5" text-anchor="middle" style="fill:#262626">4</text><text x="312" y="37.5" font-size="20" text-anchor="middle">10 km</text><path d="M305 44H320" stroke="#000" stroke-width="4" stroke-linecap="round"/><text x="173.95" y="-11.7" font-size="20.6" font-weight="bold" text-anchor="middle">Number of Sites (2)</text></g>
<g transform="translate(75,742.3)"><rect x="0" y="0" width="347.9" height="427.4" fill="#fff"/><g clip-path="url(#axclip)"><use href="#grid" stroke="#cfcfcf"/><use href="#land"/><g clip-path="url(#landclip)"><use href="#grid" stroke="#69ad69"/></g><path d="M216.6 -1 L215.4 1 L212.3 19 L209 40 L206.5 50 L204.7 55 L201.5 67.7 L198.3 86.8 L195 103.8 L193 125 L192.3 137.7 L192 148.3 L188.8 158.9 L187.7 171.6 L189.9 178 M194.1 209.8 L193 218.3 L186.7 226.8 L180.3 235.3 L174 243.8 L167.6 252.3 L161.2 260.7 L152.7 269.2 L146.4 277 L135.8 286.2 L125.2 295.7 L118.8 302.1 L112.4 311.6 L106.1 320.1 L97.6 328.6 L89.1 339.2 L82.7 349.8 L76.4 358.3 L70 364.7 L65.8 370 M48.8 398.6 L42.4 401.8 L33.9 410.3 L25.5 418.8 L19.1 426.2 L17 429" stroke="#000" stroke-width="1.15" fill="none"/><circle cx="203.2" cy="56.5" r="1.6" fill="none" stroke="#000" stroke-width="0.7"/><text transform="translate(185.5,194) rotate(83)" font-size="17" text-anchor="middle">100</text><text transform="translate(63.5,389) rotate(-58)" font-size="17" text-anchor="middle">100</text><use href="#ast" x="66" y="47.7"/><use href="#ast" x="103.2" y="157.1"/><use href="#ast" x="112.6" y="249.9"/><use href="#ast" x="61.5" y="272"/><use href="#ast" x="9.7" y="320.8"/></g><rect x="0" y="0" width="347.9" height="427.4" fill="none" stroke="#000" stroke-width="1" shape-rendering="crispEdges"/><path d="M0 427.4v-4.2M0 0v4.2M0 -0h4.2M347.9 -0h-4.2M57.98 427.4v-4.2M57.98 0v4.2M0 72.36h4.2M347.9 72.36h-4.2M115.97 427.4v-4.2M115.97 0v4.2M0 144.26h4.2M347.9 144.26h-4.2M173.95 427.4v-4.2M173.95 0v4.2M0 215.7h4.2M347.9 215.7h-4.2M231.93 427.4v-4.2M231.93 0v4.2M0 286.69h4.2M347.9 286.69h-4.2M289.92 427.4v-4.2M289.92 0v4.2M0 357.26h4.2M347.9 357.26h-4.2M347.9 427.4v-4.2M347.9 0v4.2M0 427.4h4.2M347.9 427.4h-4.2" stroke="#000" stroke-width="1" fill="none" shape-rendering="crispEdges"/><text x="-8.3" y="7.2" font-size="20" text-anchor="end">37°N</text><text x="-8.3" y="77.96" font-size="15" text-anchor="end">30'</text><text x="-8.3" y="151.46" font-size="20" text-anchor="end">36°N</text><text x="-8.3" y="221.3" font-size="15" text-anchor="end">30'</text><text x="-8.3" y="293.89" font-size="20" text-anchor="end">35°N</text><text x="-8.3" y="362.86" font-size="15" text-anchor="end">30'</text><text x="-8.3" y="434.6" font-size="20" text-anchor="end">34°N</text><text x="-1" y="444.6" font-size="15" text-anchor="middle">30'</text><text x="57.98" y="448.6" font-size="20" text-anchor="middle">76°W</text><text x="114.97" y="444.6" font-size="15" text-anchor="middle">30'</text><text x="173.95" y="448.6" font-size="20" text-anchor="middle">75°W</text><text x="230.93" y="444.6" font-size="15" text-anchor="middle">30'</text><text x="289.92" y="448.6" font-size="20" text-anchor="middle">74°W</text><text x="346.9" y="444.6" font-size="15" text-anchor="middle">30'</text><text x="312" y="37.5" font-size="20" text-anchor="middle">10 km</text><path d="M305 44H320" stroke="#000" stroke-width="4" stroke-linecap="round"/><path d="M7.48 333.41h0M8.58 333.55h0M9.7 333.6h0M10.82 333.55h0M11.92 333.41h0M13.01 333.16h0M14.08 332.83h0M15.11 332.4h0M16.1 331.89h0M17.04 331.29h0M17.93 330.61h0M18.75 329.85h0M19.51 329.03h0M20.19 328.14h0M20.79 327.2h0M21.3 326.21h0M21.73 325.18h0M22.06 324.11h0M22.31 323.02h0M22.45 321.92h0M22.5 320.8h0M22.45 319.68h0M22.31 318.58h0M22.06 317.49h0M21.73 316.42h0M21.3 315.39h0M20.79 314.4h0M6.37 339.71h0M8.03 339.93h0M9.7 340h0M11.37 339.93h0M13.03 339.71h0M14.67 339.35h0M16.27 338.84h0M17.81 338.2h0M19.3 337.43h0M20.71 336.53h0M22.04 335.51h0M23.28 334.38h0M24.41 333.14h0M25.43 331.81h0M26.33 330.4h0M27.1 328.91h0M27.74 327.37h0M28.25 325.77h0M28.61 324.13h0M28.83 322.47h0M28.9 320.8h0M28.83 319.13h0M28.61 317.47h0M28.25 315.83h0M27.74 314.23h0M27.1 312.69h0M26.33 311.2h0M5.25 346.01h0M7.47 346.3h0M9.7 346.4h0M11.93 346.3h0M14.15 346.01h0M16.33 345.53h0M18.46 344.86h0M20.52 344h0M22.5 342.97h0M24.38 341.77h0M26.16 340.41h0M27.8 338.9h0M29.31 337.26h0M30.67 335.48h0M31.87 333.6h0M32.9 331.62h0M33.76 329.56h0M34.43 327.43h0M34.91 325.25h0M35.2 323.03h0M35.3 320.8h0M35.2 318.57h0M34.91 316.35h0M34.43 314.17h0M33.76 312.04h0M32.9 309.98h0M31.87 308h0M4.14 352.31h0M6.91 352.68h0M9.7 352.8h0M12.49 352.68h0M15.26 352.31h0M17.98 351.71h0M20.64 350.87h0M23.22 349.8h0M25.7 348.51h0M28.05 347.01h0M30.27 345.31h0M32.33 343.43h0M34.21 341.37h0M35.91 339.15h0M37.41 336.8h0M38.7 334.32h0M39.77 331.74h0M40.61 329.08h0M41.21 326.36h0M41.58 323.59h0M41.7 320.8h0M41.58 318.01h0M41.21 315.24h0M40.61 312.52h0M39.77 309.86h0M38.7 307.28h0M37.41 304.8h0M3.03 358.62h0M6.35 359.05h0M9.7 359.2h0M13.05 359.05h0M16.37 358.62h0M19.64 357.89h0M22.83 356.88h0M25.93 355.6h0M28.9 354.06h0M31.73 352.26h0M34.38 350.22h0M36.85 347.95h0M39.12 345.48h0M41.16 342.83h0M42.96 340h0M44.5 337.03h0M45.78 333.93h0M46.79 330.74h0M47.52 327.47h0M47.95 324.15h0M48.1 320.8h0M47.95 317.45h0M47.52 314.13h0M46.79 310.86h0M45.78 307.67h0M44.5 304.57h0M42.96 301.6h0M1.92 364.92h0M5.8 365.43h0M9.7 365.6h0M13.6 365.43h0M17.48 364.92h0M21.3 364.07h0M25.02 362.9h0M28.63 361.4h0M32.1 359.6h0M35.4 357.5h0M38.5 355.12h0M41.38 352.48h0M44.02 349.6h0M46.4 346.5h0M48.5 343.2h0M50.3 339.73h0M51.8 336.12h0M52.97 332.4h0M53.82 328.58h0M54.33 324.7h0M54.5 320.8h0M54.33 316.9h0M53.82 313.02h0M52.97 309.2h0M51.8 305.48h0M50.3 301.87h0M48.5 298.4h0M0.81 371.22h0M5.24 371.81h0M9.7 372h0M14.16 371.81h0M18.59 371.22h0M22.95 370.26h0M27.21 368.91h0M31.34 367.2h0M35.3 365.14h0M39.07 362.74h0M42.61 360.02h0M45.9 357h0M48.92 353.71h0M51.64 350.17h0M54.04 346.4h0M56.1 342.44h0M57.81 338.31h0M59.16 334.05h0M60.12 329.69h0M60.71 325.26h0M60.9 320.8h0M60.71 316.34h0M60.12 311.91h0M59.16 307.55h0M57.81 303.29h0M56.1 299.16h0M54.04 295.2h0M-0.3 377.52h0M4.68 378.18h0M9.7 378.4h0M14.72 378.18h0M19.7 377.52h0M24.61 376.44h0M29.4 374.93h0M34.04 373h0M38.5 370.68h0M42.74 367.98h0M46.72 364.92h0M50.43 361.53h0M53.82 357.82h0M56.88 353.84h0M59.58 349.6h0M61.9 345.14h0M63.83 340.5h0M65.34 335.71h0M66.42 330.8h0M67.08 325.82h0M67.3 320.8h0M67.08 315.78h0M66.42 310.8h0M65.34 305.89h0M63.83 301.1h0M61.9 296.46h0M59.58 292h0M4.12 384.56h0M9.7 384.8h0M15.28 384.56h0M20.81 383.83h0M26.26 382.62h0M31.59 380.94h0M36.75 378.8h0M41.7 376.23h0M46.41 373.23h0M50.84 369.83h0M54.95 366.05h0M58.73 361.94h0M62.13 357.51h0M65.13 352.8h0M67.7 347.85h0M69.84 342.69h0M71.52 337.36h0M72.73 331.91h0M73.46 326.38h0M73.7 320.8h0M73.46 315.22h0M72.73 309.69h0M71.52 304.24h0M69.84 298.91h0M67.7 293.75h0M65.13 288.8h0M3.56 390.93h0M9.7 391.2h0M15.84 390.93h0M21.92 390.13h0M27.92 388.8h0M33.78 386.95h0M39.45 384.6h0M44.9 381.77h0M50.08 378.47h0M54.95 374.73h0M59.48 370.58h0M63.63 366.05h0M67.37 361.18h0M70.67 356h0M73.5 350.55h0M75.85 344.88h0M77.7 339.02h0M79.03 333.02h0M79.83 326.94h0M80.1 320.8h0M79.83 314.66h0M79.03 308.58h0M77.7 302.58h0M75.85 296.72h0M73.5 291.05h0M70.67 285.6h0M3.01 397.31h0M9.7 397.6h0M16.39 397.31h0M23.04 396.43h0M29.58 394.98h0M35.97 392.97h0M42.16 390.4h0M48.1 387.31h0M53.75 383.71h0M59.07 379.63h0M64.01 375.11h0M68.53 370.17h0M72.61 364.85h0M76.21 359.2h0M79.3 353.26h0M81.87 347.07h0M83.88 340.68h0M85.33 334.14h0M86.21 327.49h0M86.5 320.8h0M86.21 314.11h0M85.33 307.46h0M83.88 300.92h0M81.87 294.53h0M79.3 288.34h0M76.21 282.4h0M2.45 403.68h0M9.7 404h0M16.95 403.68h0M24.15 402.74h0M31.23 401.17h0M38.16 398.98h0M44.86 396.2h0M51.3 392.85h0M57.42 388.95h0M63.18 384.53h0M68.53 379.63h0M73.43 374.28h0M77.85 368.52h0M81.75 362.4h0M85.1 355.96h0M87.88 349.26h0M90.07 342.33h0M91.64 335.25h0M92.58 328.05h0M92.9 320.8h0M92.58 313.55h0M91.64 306.35h0M90.07 299.27h0M87.88 292.34h0M85.1 285.64h0M81.75 279.2h0M1.89 410.06h0M9.7 410.4h0M25.26 409.04h0M32.89 407.35h0M40.35 405h0M47.57 402.01h0M54.5 398.4h0M67.29 389.44h0M78.34 378.39h0M83.1 372.19h0M87.3 365.6h0M90.91 358.67h0M93.9 351.45h0M96.25 343.99h0M97.94 336.36h0M98.96 328.61h0M99.3 320.8h0M98.96 312.99h0M97.94 305.24h0M93.9 290.15h0M90.91 282.93h0M87.3 276h0M9.7 416.8h0M18.07 416.43h0M26.37 415.34h0M34.55 413.53h0M50.27 407.81h0M57.7 403.94h0M71.41 394.34h0M96.71 361.37h0M99.91 353.63h0M104.24 337.47h0M105.33 329.17h0M105.7 320.8h0M104.24 304.13h0M96.71 280.23h0M92.84 272.8h0M27.48 421.64h0M75.52 399.24h0M82.11 393.21h0M98.38 372h0M105.92 355.82h0M108.61 347.3h0M110.54 338.58h0M111.71 329.72h0M112.1 320.8h0M110.54 303.02h0M105.92 285.78h0M102.51 277.52h0M98.38 269.6h0M37.86 425.89h0M93.05 390.74h0M111.94 358.01h0M116.85 339.69h0M118.09 311.32h0M111.94 283.59h0M67.3 420.57h0M83.75 409.05h0M114.11 369.49h0M120.97 350.62h0M150 333h0M157 334h0M148 346h0M155 347h0M131 353h0M138 355h0M145 358h0M152 360h0M141 371h0M148 373h0M136 380h0M143 383h0M137 395h0M130 405h0M112 347h0M105 360h0M99 372h0M104 337h0M110 349h0" stroke="#000000" stroke-width="2.7" stroke-linecap="round" fill="none"/><path d="M58.06 276.91h0M58.32 277.09h0M58.59 277.25h0M58.87 277.39h0M59.16 277.52h0M59.45 277.64h0M59.75 277.74h0M60.05 277.82h0M60.36 277.89h0M60.66 277.94h0M60.98 277.98h0M61.29 278h0M61.6 278h0M61.92 277.99h0M62.23 277.96h0M62.54 277.91h0M62.85 277.85h0M63.15 277.77h0M63.45 277.67h0M63.75 277.56h0M64.04 277.44h0M64.32 277.3h0M64.59 277.14h0M64.86 276.97h0M65.11 276.79h0M65.36 276.6h0M65.59 276.39h0M65.82 276.17h0M66.03 275.94h0M66.23 275.69h0M66.41 275.44h0M66.59 275.18h0M66.75 274.91h0M66.89 274.63h0M54.62 281.83h0M55.14 282.18h0M55.68 282.5h0M56.24 282.79h0M56.81 283.05h0M57.4 283.28h0M57.99 283.48h0M58.6 283.64h0M59.21 283.78h0M59.83 283.88h0M60.45 283.95h0M61.08 283.99h0M61.71 284h0M62.34 283.97h0M62.96 283.91h0M63.58 283.82h0M64.2 283.69h0M64.81 283.54h0M65.41 283.35h0M66 283.13h0M66.57 282.88h0M67.13 282.6h0M67.68 282.29h0M68.21 281.95h0M68.72 281.58h0M69.21 281.19h0M69.68 280.78h0M70.13 280.34h0M70.56 279.87h0M70.96 279.39h0M71.33 278.88h0M71.68 278.36h0M72 277.82h0M72.29 277.26h0M51.18 286.74h0M51.96 287.26h0M52.77 287.74h0M53.61 288.18h0M54.47 288.57h0M55.34 288.91h0M56.24 289.21h0M57.15 289.47h0M58.07 289.67h0M58.99 289.82h0M59.93 289.93h0M60.87 289.99h0M61.81 290h0M62.76 289.96h0M63.69 289.87h0M64.63 289.73h0M65.55 289.54h0M66.46 289.3h0M67.36 289.02h0M68.24 288.69h0M69.11 288.31h0M69.95 287.89h0M70.77 287.43h0M71.57 286.92h0M72.33 286.38h0M73.07 285.79h0M73.78 285.16h0M74.45 284.5h0M75.08 283.81h0M75.68 283.08h0M76.24 282.32h0M76.76 281.54h0M77.24 280.73h0M77.68 279.89h0M106.14 161.81h0M106.54 161.53h0M106.91 161.22h0M107.26 160.89h0M107.57 160.52h0M107.85 160.12h0M108.1 159.71h0M108.31 159.27h0M108.48 158.82h0M108.61 158.35h0M108.7 157.87h0M108.74 157.39h0M108.75 156.91h0M108.71 156.42h0M108.63 155.95h0M108.51 155.48h0M108.35 155.02h0M108.15 154.58h0M107.91 154.16h0M107.63 153.76h0M107.32 153.39h0M106.99 153.04h0M106.62 152.73h0M106.22 152.45h0M105.81 152.2h0M105.37 151.99h0M104.92 151.82h0M104.45 151.69h0M103.97 151.6h0M103.49 151.56h0M103.01 151.55h0M102.52 151.59h0M102.05 151.67h0M109.08 166.51h0M109.88 165.96h0M110.63 165.35h0M111.32 164.67h0M111.95 163.93h0M112.51 163.15h0M113 162.31h0M113.42 161.44h0M113.76 160.53h0M114.02 159.6h0M114.19 158.64h0M114.28 157.68h0M114.29 156.71h0M114.22 155.75h0M114.06 154.79h0M113.81 153.85h0M113.49 152.94h0M113.09 152.06h0M112.61 151.22h0M112.06 150.42h0M111.45 149.67h0M110.77 148.98h0M110.03 148.35h0M109.25 147.79h0M108.41 147.3h0M107.54 146.88h0M106.63 146.54h0M105.7 146.28h0M104.74 146.11h0M103.78 146.02h0M102.81 146.01h0M101.85 146.08h0M100.89 146.24h0M112.02 171.22h0M113.22 170.4h0M114.34 169.47h0M115.38 168.46h0M116.32 167.35h0M117.16 166.17h0M117.9 164.92h0M118.53 163.61h0M119.04 162.25h0M119.42 160.85h0M119.69 159.42h0M119.83 157.97h0M119.84 156.52h0M119.73 155.07h0M119.49 153.64h0M119.12 152.23h0M118.64 150.86h0M118.04 149.54h0M117.32 148.28h0M116.5 147.08h0M115.57 145.96h0M114.56 144.92h0M113.45 143.98h0M112.27 143.14h0M111.02 142.4h0M109.71 141.77h0M108.35 141.26h0M106.95 140.88h0M105.52 140.61h0M104.07 140.47h0M102.62 140.46h0M101.17 140.57h0M99.74 140.81h0M114.96 175.93h0M116.56 174.83h0M118.05 173.6h0M119.44 172.24h0M120.69 170.77h0M121.82 169.19h0M122.8 167.52h0M123.64 165.77h0M124.31 163.96h0M124.83 162.09h0M125.18 160.19h0M125.37 158.26h0M125.39 156.33h0M125.23 154.39h0M124.91 152.48h0M124.43 150.61h0M123.78 148.78h0M122.98 147.02h0M122.03 145.34h0M120.93 143.74h0M119.7 142.25h0M118.34 140.86h0M116.87 139.61h0M115.29 138.48h0M113.62 137.5h0M111.87 136.66h0M110.06 135.99h0M108.19 135.47h0M106.29 135.12h0M104.36 134.93h0M102.43 134.91h0M100.49 135.07h0M98.58 135.39h0M117.91 180.63h0M119.9 179.26h0M121.77 177.72h0M123.5 176.03h0M125.07 174.18h0M126.47 172.21h0M127.7 170.13h0M128.74 167.94h0M129.59 165.68h0M130.24 163.34h0M130.68 160.96h0M130.91 158.55h0M130.93 156.13h0M130.74 153.72h0M130.34 151.33h0M129.74 148.99h0M128.93 146.7h0M127.93 144.5h0M126.73 142.39h0M125.36 140.4h0M123.82 138.53h0M122.13 136.8h0M120.28 135.23h0M118.31 133.83h0M116.23 132.6h0M114.04 131.56h0M111.78 130.71h0M109.44 130.06h0M107.06 129.62h0M104.65 129.39h0M102.23 129.37h0M99.82 129.56h0M97.43 129.96h0M120.85 185.34h0M123.24 183.69h0M125.48 181.85h0M127.55 179.81h0M129.44 177.6h0M131.13 175.24h0M132.6 172.73h0M133.85 170.11h0M134.87 167.39h0M135.65 164.59h0M136.18 161.73h0M136.45 158.84h0M136.48 155.94h0M136.25 153.04h0M135.77 150.18h0M135.04 147.36h0M134.08 144.63h0M132.87 141.98h0M131.44 139.45h0M129.79 137.06h0M127.95 134.82h0M125.91 132.75h0M123.7 130.86h0M121.34 129.17h0M118.83 127.7h0M116.21 126.45h0M113.49 125.43h0M110.69 124.65h0M107.83 124.12h0M104.94 123.85h0M102.04 123.82h0M99.14 124.05h0M96.28 124.53h0M123.79 190.05h0M126.58 188.13h0M129.2 185.97h0M131.61 183.6h0M133.81 181.02h0M135.78 178.26h0M137.5 175.34h0M138.96 172.28h0M140.15 169.11h0M141.05 165.84h0M141.67 162.51h0M142 159.13h0M142.03 155.74h0M141.76 152.37h0M141.2 149.02h0M140.35 145.74h0M139.22 142.55h0M137.82 139.46h0M136.15 136.51h0M134.23 133.72h0M132.07 131.1h0M129.7 128.69h0M127.12 126.49h0M124.36 124.52h0M121.44 122.8h0M118.38 121.34h0M115.21 120.15h0M111.94 119.25h0M108.61 118.63h0M105.23 118.3h0M101.84 118.27h0M98.47 118.54h0M95.12 119.1h0M126.73 194.75h0M129.92 192.56h0M132.91 190.1h0M135.67 187.38h0M138.19 184.44h0M140.44 181.28h0M142.4 177.94h0M144.07 174.45h0M145.43 170.82h0M146.46 167.09h0M147.17 163.28h0M147.54 159.42h0M147.57 155.55h0M147.27 151.69h0M146.63 147.87h0M145.66 144.12h0M144.37 140.47h0M142.76 136.94h0M140.85 133.57h0M138.66 130.38h0M136.2 127.39h0M133.48 124.63h0M130.54 122.11h0M127.38 119.86h0M124.04 117.9h0M120.55 116.23h0M116.92 114.87h0M113.19 113.84h0M109.38 113.13h0M105.52 112.76h0M101.65 112.73h0M97.79 113.03h0M93.97 113.67h0M129.67 199.46h0M133.26 196.99h0M136.62 194.22h0M139.73 191.17h0M142.56 187.85h0M145.09 184.3h0M147.3 180.55h0M149.18 176.62h0M150.71 172.54h0M151.87 168.34h0M152.66 164.05h0M153.08 159.71h0M153.12 155.36h0M152.78 151.01h0M152.06 146.71h0M150.97 142.5h0M149.51 138.39h0M147.71 134.42h0M145.56 130.63h0M143.09 127.04h0M140.32 123.68h0M137.27 120.57h0M133.95 117.74h0M130.4 115.21h0M126.65 113h0M122.72 111.12h0M118.64 109.59h0M114.44 108.43h0M110.15 107.64h0M105.81 107.22h0M101.46 107.18h0M97.11 107.52h0M92.81 108.24h0M132.61 204.17h0M136.6 201.42h0M140.34 198.34h0M143.79 194.95h0M146.93 191.27h0M149.75 187.33h0M152.2 183.16h0M154.29 178.79h0M155.98 174.25h0M157.28 169.58h0M158.16 164.82h0M158.62 160h0M158.67 155.16h0M158.29 150.34h0M157.49 145.56h0M156.27 140.87h0M154.66 136.31h0M152.65 131.9h0M150.27 127.69h0M147.52 123.7h0M144.44 119.96h0M141.05 116.51h0M137.37 113.37h0M133.43 110.55h0M129.26 108.1h0M124.89 106.01h0M120.35 104.32h0M115.68 103.02h0M110.92 102.14h0M106.1 101.68h0M101.26 101.63h0M96.44 102.01h0M91.66 102.81h0M135.55 208.87h0M139.94 205.86h0M144.05 202.47h0M147.85 198.74h0M151.31 194.69h0M154.4 190.35h0M157.1 185.76h0M159.4 180.95h0M161.26 175.97h0M162.69 170.83h0M163.66 165.6h0M164.17 160.3h0M164.21 154.97h0M163.79 149.66h0M162.92 144.41h0M161.58 139.25h0M159.8 134.23h0M157.6 129.38h0M154.97 124.75h0M151.96 120.36h0M148.57 116.25h0M144.84 112.45h0M140.79 108.99h0M136.45 105.9h0M131.86 103.2h0M127.05 100.9h0M122.07 99.04h0M116.93 97.61h0M111.7 96.64h0M106.4 96.13h0M101.07 96.09h0M95.76 96.51h0M90.51 97.38h0M138.49 213.58h0M143.28 210.29h0M147.76 206.59h0M151.91 202.52h0M155.68 198.1h0M159.06 193.37h0M162 188.37h0M164.51 183.12h0M166.54 177.68h0M168.09 172.08h0M169.15 166.37h0M169.71 160.59h0M169.76 154.78h0M169.3 148.98h0M168.34 143.25h0M166.89 137.63h0M164.95 132.15h0M162.54 126.86h0M159.68 121.81h0M156.39 117.02h0M152.69 112.54h0M148.62 108.39h0M144.2 104.62h0M139.47 101.24h0M134.47 98.3h0M129.22 95.79h0M123.78 93.76h0M118.18 92.21h0M112.47 91.15h0M106.69 90.59h0M100.88 90.54h0M95.08 91h0M89.35 91.96h0M141.43 218.29h0M146.62 214.72h0M151.48 210.72h0M155.97 206.31h0M160.05 201.52h0M163.71 196.4h0M166.9 190.97h0M169.61 185.29h0M171.82 179.4h0M173.5 173.33h0M174.65 167.14h0M175.25 160.88h0M175.31 154.58h0M174.81 148.31h0M173.77 142.1h0M172.2 136.01h0M170.1 130.07h0M167.49 124.34h0M164.39 118.87h0M160.82 113.68h0M156.82 108.82h0M152.41 104.33h0M147.62 100.25h0M142.5 96.59h0M137.07 93.4h0M131.39 90.69h0M125.5 88.48h0M119.43 86.8h0M113.24 85.65h0M106.98 85.05h0M100.68 84.99h0M94.41 85.49h0M88.2 86.53h0M144.37 222.99h0M149.96 219.15h0M155.19 214.84h0M160.03 210.09h0M164.43 204.94h0M168.36 199.42h0M171.81 193.58h0M174.72 187.46h0M177.1 181.11h0M178.91 174.58h0M180.14 167.91h0M180.79 161.17h0M180.85 154.39h0M180.32 147.63h0M179.2 140.95h0M177.5 134.38h0M175.24 127.99h0M172.43 121.82h0M169.09 115.93h0M165.25 110.34h0M160.94 105.11h0M156.19 100.27h0M151.04 95.87h0M145.52 91.94h0M139.68 88.49h0M133.56 85.58h0M127.21 83.2h0M120.68 81.39h0M114.01 80.16h0M107.27 79.51h0M100.49 79.45h0M93.73 79.98h0M87.05 81.1h0M147.32 227.7h0M153.3 223.59h0M158.91 218.97h0M164.09 213.88h0M168.8 208.35h0M173.02 202.44h0M176.71 196.18h0M179.83 189.63h0M182.38 182.83h0M184.32 175.83h0M185.64 168.69h0M186.34 161.46h0M186.4 154.19h0M185.83 146.95h0M184.63 139.79h0M182.81 132.76h0M180.39 125.91h0M177.38 119.31h0M173.8 112.98h0M169.69 107h0M165.07 101.39h0M159.98 96.21h0M154.45 91.5h0M148.54 87.28h0M142.28 83.59h0M135.73 80.47h0M128.93 77.92h0M121.93 75.98h0M114.79 74.66h0M107.56 73.96h0M100.29 73.9h0M93.05 74.47h0M85.89 75.67h0M150.26 232.41h0M156.64 228.02h0M162.62 223.09h0M168.14 217.66h0M173.18 211.77h0M177.67 205.46h0M181.61 198.79h0M184.94 191.8h0M187.65 184.54h0M189.72 177.08h0M191.14 169.46h0M191.88 161.75h0M191.95 154h0M191.34 146.28h0M190.06 138.64h0M188.12 131.14h0M185.53 123.83h0M182.32 116.79h0M178.51 110.04h0M174.12 103.66h0M169.19 97.68h0M163.76 92.16h0M157.87 87.12h0M151.56 82.63h0M144.89 78.69h0M137.9 75.36h0M130.64 72.65h0M123.18 70.58h0M115.56 69.16h0M107.85 68.42h0M100.1 68.35h0M92.38 68.96h0M84.74 70.24h0M153.2 237.11h0M159.98 232.45h0M166.33 227.22h0M172.2 221.45h0M177.55 215.19h0M182.33 208.49h0M186.51 201.39h0M190.05 193.97h0M192.93 186.26h0M195.13 178.32h0M196.63 170.23h0M197.42 162.04h0M197.49 153.81h0M196.85 145.6h0M195.49 137.48h0M193.43 129.51h0M190.68 121.76h0M187.27 114.27h0M183.21 107.1h0M178.55 100.32h0M173.32 93.97h0M167.55 88.1h0M161.29 82.75h0M154.59 77.97h0M147.49 73.79h0M140.07 70.25h0M132.36 67.37h0M124.42 65.17h0M116.33 63.67h0M108.14 62.88h0M99.91 62.81h0M91.7 63.45h0M83.58 64.81h0M156.14 241.82h0M163.32 236.88h0M170.05 231.34h0M176.26 225.23h0M181.92 218.6h0M186.98 211.51h0M191.41 204h0M195.16 196.13h0M198.21 187.97h0M200.54 179.57h0M202.13 171h0M202.96 162.33h0M203.04 153.61h0M202.36 144.93h0M200.92 136.33h0M198.73 127.89h0M195.83 119.68h0M192.21 111.75h0M187.92 104.16h0M182.98 96.98h0M177.44 90.25h0M171.33 84.04h0M164.7 78.38h0M157.61 73.32h0M150.1 68.89h0M142.23 65.14h0M134.07 62.09h0M125.67 59.76h0M117.1 58.17h0M108.43 57.34h0M99.71 57.26h0M91.03 57.94h0M82.43 59.38h0M159.08 246.53h0M166.66 241.32h0M173.76 235.46h0M180.32 229.02h0M186.3 222.02h0M191.64 214.53h0M196.31 206.61h0M200.27 198.3h0M203.49 189.69h0M205.95 180.82h0M207.62 171.78h0M208.51 162.62h0M208.59 153.42h0M207.86 144.25h0M206.35 135.18h0M204.04 126.27h0M200.97 117.6h0M197.16 109.23h0M192.63 101.22h0M187.42 93.64h0M181.56 86.54h0M175.12 79.98h0M168.12 74h0M160.63 68.66h0M152.71 63.99h0M144.4 60.03h0M135.79 56.81h0M126.92 54.35h0M117.88 52.68h0M108.72 51.79h0M99.52 51.71h0M90.35 52.44h0M81.28 53.95h0M162.02 251.23h0M170 245.75h0M177.47 239.59h0M184.38 232.8h0M190.67 225.44h0M196.29 217.55h0M201.21 209.21h0M205.38 200.47h0M208.77 191.4h0M211.36 182.07h0M213.12 172.55h0M214.05 162.91h0M214.13 153.23h0M213.37 143.57h0M211.77 134.02h0M209.35 124.65h0M206.12 115.52h0M202.1 106.71h0M197.33 98.28h0M191.85 90.3h0M185.69 82.83h0M178.9 75.92h0M171.54 69.63h0M163.65 64.01h0M155.31 59.09h0M146.57 54.92h0M137.5 51.53h0M128.17 48.94h0M118.65 47.18h0M109.01 46.25h0M99.33 46.17h0M89.67 46.93h0M80.12 48.53h0M164.96 255.94h0M173.34 250.18h0M188.44 236.59h0M195.04 228.86h0M206.11 211.82h0M210.48 202.64h0M214.05 193.12h0M216.76 183.32h0M218.62 173.32h0M219.59 163.2h0M218.88 142.9h0M217.2 132.87h0M214.66 123.02h0M211.26 113.44h0M202.04 95.34h0M196.28 86.96h0M189.81 79.11h0M182.69 71.86h0M166.68 59.35h0M157.92 54.19h0M148.74 49.82h0M139.22 46.25h0M129.42 43.54h0M109.3 40.71h0M89 41.42h0M78.97 43.1h0M184.9 247.84h0M192.5 240.37h0M205.6 223.6h0M211.01 214.42h0M215.59 204.81h0M219.32 194.83h0M222.17 184.57h0M225.23 152.84h0M224.39 142.22h0M222.63 131.71h0M219.96 121.4h0M216.41 111.36h0M211.99 101.67h0M206.75 92.4h0M200.71 83.62h0M160.52 49.29h0M150.91 44.71h0M140.93 40.98h0M130.67 38.13h0M98.94 35.07h0M88.32 35.91h0M210.26 226.62h0M220.7 206.98h0M227.58 185.82h0M229.9 141.54h0M228.06 130.56h0M225.27 119.78h0M211.45 89.46h0M205.15 80.28h0M198.06 71.69h0M190.26 63.74h0M181.79 56.51h0M172.72 50.04h0M142.65 35.7h0M131.92 32.72h0M120.97 30.69h0M76.66 32.24h0M61 292h0M64.5 292h0M61 299h0M64.5 299h0M61 306h0M64.5 306h0M61 313h0M64.5 313h0M61 320h0M64.5 320h0M61 327h0M64.5 327h0M42 319h0M47 323h0M52 328h0M57 331h0M62 333h0M38 316h0M55 360h0M62 361h0M70 360h0M77 359h0M29 329h0M243 3h0M255 11h0M291 5h0M325 3h0M347 8h0M347 22h0M340 26h0M285 30h0M295 52h0M310 66h0M317 63h0M303 69h0M282 78h0M310 86h0M317 84h0M347 40h0M347 58h0M347 83h0M254 147h0M320 168h0M347 188h0M298 211h0M279 222h0M327 219h0M262 270h0M268 274h0M237 318h0M253 372h0M201 298h0M146 332h0M107 350h0M78.32 0.6h0M92.37 0.6h0M107.87 0.6h0M122.53 0.6h0M138.14 0.6h0M153.76 0.6h0M168.95 0.6h0M182.03 0.6h0M197.35 0.6h0M213.56 0.6h0M227.2 0.6h0" stroke="#ff0000" stroke-width="2.7" stroke-linecap="round" fill="none"/><path d="M72.85 59.56h0M73.86 58.92h0M74.81 58.19h0M75.69 57.39h0M76.49 56.51h0M77.22 55.56h0M77.86 54.55h0M78.42 53.49h0M78.87 52.39h0M79.23 51.25h0M79.49 50.08h0M79.65 48.89h0M79.7 47.7h0M79.65 46.51h0M79.49 45.32h0M79.23 44.15h0M78.87 43.01h0M78.42 41.91h0M77.86 40.85h0M77.22 39.84h0M76.49 38.89h0M75.69 38.01h0M74.81 37.21h0M73.86 36.48h0M72.85 35.84h0M71.79 35.28h0M70.69 34.83h0M69.55 34.47h0M68.38 34.21h0M76.28 65.5h0M77.79 64.53h0M79.21 63.44h0M80.53 62.23h0M81.74 60.91h0M82.83 59.49h0M83.8 57.98h0M84.62 56.38h0M85.31 54.73h0M85.85 53.02h0M86.24 51.27h0M86.47 49.49h0M86.55 47.7h0M86.47 45.91h0M86.24 44.13h0M85.85 42.38h0M85.31 40.67h0M84.62 39.02h0M83.8 37.43h0M82.83 35.91h0M81.74 34.49h0M80.53 33.17h0M79.21 31.96h0M77.79 30.87h0M76.28 29.9h0M74.68 29.08h0M73.03 28.39h0M71.32 27.85h0M69.57 27.46h0M79.7 71.43h0M81.72 70.14h0M83.61 68.69h0M85.37 67.07h0M86.99 65.31h0M88.44 63.42h0M89.73 61.4h0M90.83 59.28h0M91.75 57.07h0M92.47 54.79h0M92.98 52.46h0M93.3 50.09h0M93.4 47.7h0M93.3 45.31h0M92.98 42.94h0M92.47 40.61h0M91.75 38.33h0M90.83 36.12h0M89.73 34h0M88.44 31.98h0M86.99 30.09h0M85.37 28.33h0M83.61 26.71h0M81.72 25.26h0M79.7 23.97h0M77.58 22.87h0M75.37 21.95h0M73.09 21.23h0M70.76 20.72h0M83.12 77.36h0M85.64 75.76h0M88.02 73.94h0M90.22 71.92h0M92.24 69.72h0M94.06 67.34h0M95.66 64.83h0M97.04 62.17h0M98.18 59.41h0M99.08 56.56h0M99.73 53.65h0M100.12 50.69h0M100.25 47.7h0M100.12 44.71h0M99.73 41.75h0M99.08 38.84h0M98.18 35.99h0M97.04 33.23h0M95.66 30.58h0M94.06 28.06h0M92.24 25.68h0M90.22 23.48h0M88.02 21.46h0M85.64 19.64h0M83.12 18.04h0M80.47 16.66h0M77.71 15.52h0M74.86 14.62h0M71.95 13.97h0M86.55 83.29h0M89.57 81.37h0M92.42 79.18h0M95.06 76.76h0M97.48 74.12h0M99.67 71.27h0M101.59 68.25h0M103.25 65.07h0M104.62 61.76h0M105.7 58.34h0M106.48 54.84h0M106.94 51.28h0M107.1 47.7h0M106.94 44.12h0M106.48 40.56h0M105.7 37.06h0M104.62 33.64h0M103.25 30.33h0M101.59 27.15h0M99.67 24.13h0M97.48 21.28h0M95.06 18.64h0M92.42 16.22h0M89.57 14.03h0M86.55 12.11h0M83.37 10.45h0M80.06 9.08h0M76.64 8h0M73.14 7.22h0M89.97 89.23h0M93.5 86.98h0M96.82 84.43h0M99.91 81.61h0M102.73 78.52h0M105.28 75.2h0M107.53 71.67h0M109.46 67.96h0M111.06 64.1h0M112.32 60.11h0M113.22 56.03h0M113.77 51.88h0M113.95 47.7h0M113.77 43.52h0M113.22 39.37h0M112.32 35.29h0M111.06 31.3h0M109.46 27.44h0M107.53 23.73h0M105.28 20.2h0M102.73 16.88h0M99.91 13.79h0M96.82 10.97h0M93.5 8.42h0M89.97 6.17h0M86.26 4.24h0M82.4 2.64h0M78.41 1.38h0M74.33 0.48h0M93.4 95.16h0M97.43 92.59h0M101.22 89.68h0M104.75 86.45h0M107.98 82.92h0M110.89 79.13h0M113.46 75.1h0M115.67 70.86h0M117.5 66.44h0M118.93 61.88h0M119.97 57.22h0M120.59 52.48h0M120.8 47.7h0M120.59 42.92h0M119.97 38.18h0M118.93 33.52h0M117.5 28.96h0M115.67 24.54h0M113.46 20.3h0M110.89 16.27h0M107.98 12.48h0M104.75 8.95h0M101.22 5.72h0M97.43 2.81h0M93.4 0.24h0M96.83 101.09h0M101.36 98.2h0M105.63 94.93h0M109.59 91.29h0M113.23 87.33h0M116.5 83.06h0M119.39 78.53h0M121.87 73.75h0M123.93 68.79h0M125.55 63.66h0M126.71 58.41h0M127.42 53.07h0M127.65 47.7h0M127.42 42.33h0M126.71 36.99h0M125.55 31.74h0M123.93 26.61h0M121.87 21.65h0M119.39 16.88h0M116.5 12.34h0M113.23 8.07h0M109.59 4.11h0M105.63 0.47h0M100.25 107.02h0M105.29 103.81h0M110.03 100.17h0M114.44 96.14h0M118.47 91.73h0M122.11 86.99h0M125.32 81.95h0M128.08 76.65h0M130.37 71.13h0M132.17 65.43h0M133.46 59.59h0M134.24 53.67h0M134.5 47.7h0M134.24 41.73h0M133.46 35.81h0M132.17 29.97h0M130.37 24.27h0M128.08 18.75h0M125.32 13.45h0M122.11 8.41h0M118.47 3.67h0M114.44 -0.74h0M103.68 112.96h0M109.22 109.42h0M114.43 105.42h0M119.28 100.98h0M123.72 96.13h0M127.72 90.92h0M131.26 85.38h0M134.29 79.54h0M136.81 73.47h0M138.78 67.2h0M140.21 60.78h0M141.06 54.27h0M141.35 47.7h0M141.06 41.13h0M140.21 34.62h0M138.78 28.2h0M136.81 21.93h0M134.29 15.86h0M131.26 10.03h0M127.72 4.48h0M123.72 -0.73h0M107.1 118.89h0M113.15 115.03h0M118.84 110.67h0M124.12 105.82h0M128.97 100.54h0M133.33 94.85h0M137.19 88.8h0M140.5 82.44h0M143.24 75.81h0M145.4 68.97h0M146.95 61.97h0M147.89 54.86h0M148.2 47.7h0M147.89 40.54h0M146.95 33.43h0M145.4 26.43h0M143.24 19.59h0M140.5 12.96h0M137.19 6.6h0M133.33 0.55h0M110.53 124.82h0M117.08 120.65h0M123.24 115.92h0M128.97 110.67h0M134.22 104.94h0M138.95 98.78h0M143.12 92.22h0M146.71 85.33h0M149.68 78.16h0M152.02 70.75h0M153.7 63.16h0M154.71 55.46h0M155.05 47.7h0M154.71 39.94h0M153.7 32.24h0M152.02 24.65h0M149.68 17.24h0M146.71 10.07h0M143.12 3.18h0M113.95 130.75h0M121.01 126.26h0M127.64 121.16h0M133.81 115.51h0M139.46 109.34h0M144.56 102.71h0M149.05 95.65h0M152.91 88.23h0M156.12 80.5h0M158.63 72.52h0M160.44 64.35h0M161.54 56.06h0M161.9 47.7h0M161.54 39.34h0M160.44 31.05h0M158.63 22.88h0M156.12 14.9h0M152.91 7.17h0M149.05 -0.25h0M117.38 136.68h0M124.93 131.87h0M132.05 126.41h0M138.66 120.36h0M144.71 113.75h0M150.17 106.63h0M154.98 99.07h0M162.55 82.84h0M165.25 74.29h0M167.19 65.54h0M168.36 56.66h0M168.75 47.7h0M168.36 38.74h0M167.19 29.86h0M165.25 21.11h0M162.55 12.56h0M159.12 4.28h0M120.8 142.62h0M136.45 131.66h0M149.96 118.15h0M160.92 102.5h0M165.33 94.02h0M168.99 85.19h0M173.93 66.73h0M175.18 57.25h0M175.6 47.7h0M175.18 38.15h0M168.99 10.21h0M165.33 1.38h0M124.23 148.55h0M132.79 143.09h0M140.85 136.91h0M148.34 130.04h0M161.39 114.49h0M166.85 105.92h0M171.54 96.91h0M182.01 57.85h0M182.45 47.7h0M182.01 37.55h0M178.48 17.56h0M216.11 3h0M217.44 8h0M217.06 19h0M215.65 48h0M217.42 62h0M223.86 3h0M224.43 19h0M222.8 34h0M223.69 48h0M223.02 62h0M231.55 3h0M230.6 34h0M230.9 48h0M231.05 62h0M231.76 75h0M82.62 0.6h0M88.22 0.6h0M98.81 0.6h0M102.96 0.6h0M113.02 0.6h0M117.51 0.6h0M128.89 0.6h0M133.63 0.6h0M142.07 0.6h0M148.22 0.6h0M157.05 0.6h0M162.64 0.6h0M173.86 0.6h0M177.61 0.6h0M187.6 0.6h0M192.65 0.6h0M203.04 0.6h0M208.28 0.6h0M218.51 0.6h0M223.34 0.6h0" stroke="#0000ff" stroke-width="2.7" stroke-linecap="round" fill="none"/><path d="M110.48 261.91h0M111.54 262.05h0M112.6 262.1h0M113.66 262.05h0M114.72 261.91h0M115.76 261.68h0M116.77 261.36h0M117.76 260.96h0M118.7 260.47h0M119.6 259.89h0M120.44 259.25h0M121.23 258.53h0M121.95 257.74h0M122.59 256.9h0M123.17 256h0M123.66 255.06h0M124.06 254.07h0M124.38 253.06h0M124.61 252.02h0M124.75 250.96h0M124.8 249.9h0M124.75 248.84h0M124.61 247.78h0M124.38 246.74h0M124.06 245.73h0M123.66 244.74h0M123.17 243.8h0M122.59 242.9h0M121.95 242.06h0M121.23 241.27h0M120.44 240.55h0M119.6 239.91h0M118.7 239.33h0M117.76 238.84h0M109.42 267.92h0M111.01 268.13h0M112.6 268.2h0M114.19 268.13h0M115.78 267.92h0M117.34 267.58h0M118.86 267.1h0M120.33 266.49h0M121.75 265.75h0M123.1 264.89h0M124.36 263.92h0M125.54 262.84h0M126.62 261.66h0M127.59 260.4h0M128.45 259.05h0M129.19 257.63h0M129.8 256.16h0M130.28 254.64h0M130.62 253.08h0M130.83 251.49h0M130.9 249.9h0M130.83 248.31h0M130.62 246.72h0M130.28 245.16h0M129.8 243.64h0M129.19 242.17h0M128.45 240.75h0M127.59 239.4h0M126.62 238.14h0M125.54 236.96h0M124.36 235.88h0M123.1 234.91h0M121.75 234.05h0M120.33 233.31h0M108.36 273.93h0M110.47 274.21h0M112.6 274.3h0M114.73 274.21h0M116.84 273.93h0M118.92 273.47h0M120.95 272.83h0M122.91 272.01h0M124.8 271.03h0M126.6 269.89h0M128.28 268.59h0M129.85 267.15h0M131.29 265.58h0M132.59 263.9h0M133.73 262.1h0M134.71 260.21h0M135.53 258.25h0M136.17 256.22h0M136.63 254.14h0M136.91 252.03h0M137 249.9h0M136.91 247.77h0M136.63 245.66h0M136.17 243.58h0M135.53 241.55h0M134.71 239.59h0M133.73 237.7h0M132.59 235.9h0M131.29 234.22h0M129.85 232.65h0M128.28 231.21h0M126.6 229.91h0M124.8 228.77h0M122.91 227.79h0M107.3 279.94h0M109.94 280.28h0M112.6 280.4h0M115.26 280.28h0M117.9 279.94h0M120.49 279.36h0M123.03 278.56h0M125.49 277.54h0M127.85 276.31h0M130.09 274.88h0M132.21 273.26h0M134.17 271.47h0M135.96 269.51h0M137.58 267.39h0M139.01 265.15h0M140.24 262.79h0M141.26 260.33h0M142.06 257.79h0M142.64 255.2h0M142.98 252.56h0M143.1 249.9h0M142.98 247.24h0M142.64 244.6h0M142.06 242.01h0M141.26 239.47h0M140.24 237.01h0M139.01 234.65h0M137.58 232.41h0M135.96 230.29h0M134.17 228.33h0M132.21 226.54h0M130.09 224.92h0M127.85 223.49h0M125.49 222.26h0M106.24 285.94h0M109.41 286.36h0M112.6 286.5h0M115.79 286.36h0M118.96 285.94h0M122.07 285.25h0M125.12 284.29h0M128.07 283.07h0M130.9 281.6h0M133.59 279.88h0M136.13 277.94h0M138.48 275.78h0M140.64 273.43h0M142.58 270.89h0M144.3 268.2h0M145.77 265.37h0M146.99 262.42h0M147.95 259.37h0M148.64 256.26h0M149.06 253.09h0M149.2 249.9h0M149.06 246.71h0M148.64 243.54h0M147.95 240.43h0M146.99 237.38h0M145.77 234.43h0M144.3 231.6h0M142.58 228.91h0M140.64 226.37h0M138.48 224.02h0M136.13 221.86h0M133.59 219.92h0M130.9 218.2h0M128.07 216.73h0M105.19 291.95h0M108.88 292.44h0M112.6 292.6h0M116.32 292.44h0M120.01 291.95h0M123.65 291.15h0M127.2 290.02h0M130.65 288.6h0M133.95 286.88h0M137.09 284.88h0M140.05 282.61h0M142.79 280.09h0M145.31 277.35h0M147.58 274.39h0M149.58 271.25h0M151.3 267.95h0M152.72 264.5h0M153.85 260.95h0M154.65 257.31h0M155.14 253.62h0M155.3 249.9h0M155.14 246.18h0M154.65 242.49h0M153.85 238.85h0M152.72 235.3h0M151.3 231.85h0M149.58 228.55h0M147.58 225.41h0M145.31 222.45h0M142.79 219.71h0M140.05 217.19h0M137.09 214.92h0M133.95 212.92h0M130.65 211.2h0M104.13 297.96h0M108.35 298.51h0M112.6 298.7h0M116.85 298.51h0M121.07 297.96h0M125.23 297.04h0M129.29 295.76h0M133.22 294.13h0M137 292.16h0M140.59 289.87h0M143.97 287.28h0M147.11 284.41h0M149.98 281.27h0M152.57 277.89h0M154.86 274.3h0M156.83 270.52h0M158.46 266.59h0M159.74 262.53h0M160.66 258.37h0M161.21 254.15h0M161.4 249.9h0M161.21 245.65h0M160.66 241.43h0M159.74 237.27h0M158.46 233.21h0M156.83 229.28h0M154.86 225.5h0M152.57 221.91h0M149.98 218.53h0M147.11 215.39h0M143.97 212.52h0M140.59 209.93h0M137 207.64h0M133.22 205.67h0M103.07 303.97h0M107.82 304.59h0M112.6 304.8h0M117.38 304.59h0M122.13 303.97h0M126.81 302.93h0M131.38 301.49h0M135.8 299.66h0M140.05 297.44h0M144.09 294.87h0M147.89 291.96h0M151.42 288.72h0M154.66 285.19h0M157.57 281.39h0M160.14 277.35h0M162.36 273.1h0M164.19 268.68h0M165.63 264.11h0M166.67 259.43h0M167.29 254.68h0M167.5 249.9h0M167.29 245.12h0M166.67 240.37h0M165.63 235.69h0M164.19 231.12h0M162.36 226.7h0M160.14 222.45h0M157.57 218.41h0M154.66 214.61h0M151.42 211.08h0M147.89 207.84h0M144.09 204.93h0M140.05 202.36h0M135.8 200.14h0M102.01 309.97h0M107.28 310.67h0M112.6 310.9h0M117.92 310.67h0M123.19 309.97h0M128.39 308.82h0M133.46 307.22h0M138.38 305.18h0M143.1 302.73h0M147.59 299.87h0M151.81 296.63h0M155.73 293.03h0M159.33 289.11h0M162.57 284.89h0M165.43 280.4h0M167.88 275.68h0M169.92 270.76h0M171.52 265.69h0M172.67 260.49h0M173.37 255.22h0M173.6 249.9h0M173.37 244.58h0M172.67 239.31h0M171.52 234.11h0M169.92 229.04h0M167.88 224.12h0M165.43 219.4h0M162.57 214.91h0M159.33 210.69h0M155.73 206.77h0M151.81 203.17h0M147.59 199.93h0M143.1 197.07h0M138.38 194.62h0M100.95 315.98h0M106.75 316.74h0M112.6 317h0M118.45 316.74h0M124.25 315.98h0M129.97 314.71h0M135.55 312.95h0M140.96 310.71h0M146.15 308.01h0M151.09 304.87h0M155.73 301.3h0M160.05 297.35h0M164 293.03h0M167.57 288.39h0M170.71 283.45h0M173.41 278.26h0M175.65 272.85h0M177.41 267.27h0M178.68 261.55h0M179.44 255.75h0M179.7 249.9h0M179.44 244.05h0M178.68 238.25h0M177.41 232.53h0M175.65 226.95h0M173.41 221.54h0M170.71 216.35h0M167.57 211.41h0M164 206.77h0M160.05 202.45h0M155.73 198.5h0M151.09 194.93h0M146.15 191.79h0M140.96 189.09h0M99.89 321.99h0M106.22 322.82h0M112.6 323.1h0M118.98 322.82h0M125.31 321.99h0M131.55 320.61h0M137.64 318.69h0M143.54 316.24h0M149.2 313.29h0M154.59 309.86h0M159.65 305.97h0M164.36 301.66h0M168.67 296.95h0M172.56 291.89h0M175.99 286.5h0M178.94 280.84h0M181.39 274.94h0M183.31 268.85h0M184.69 262.61h0M185.52 256.28h0M185.8 249.9h0M185.52 243.52h0M184.69 237.19h0M183.31 230.95h0M181.39 224.86h0M178.94 218.96h0M175.99 213.3h0M172.56 207.91h0M168.67 202.85h0M164.36 198.14h0M159.65 193.83h0M154.59 189.94h0M149.2 186.51h0M143.54 183.56h0M98.83 328h0M105.69 328.9h0M112.6 329.2h0M119.51 328.9h0M126.37 328h0M133.12 326.5h0M139.72 324.42h0M146.11 321.77h0M152.25 318.58h0M158.08 314.86h0M163.57 310.65h0M168.67 305.97h0M173.35 300.87h0M177.56 295.38h0M181.28 289.55h0M184.47 283.41h0M187.12 277.02h0M189.2 270.42h0M190.7 263.67h0M191.6 256.81h0M191.9 249.9h0M191.6 242.99h0M190.7 236.13h0M189.2 229.38h0M187.12 222.78h0M184.47 216.39h0M181.28 210.25h0M177.56 204.42h0M173.35 198.93h0M168.67 193.83h0M163.57 189.15h0M158.08 184.94h0M152.25 181.22h0M146.11 178.03h0M97.77 334h0M105.16 334.98h0M112.6 335.3h0M120.04 334.98h0M127.43 334h0M134.7 332.39h0M141.81 330.15h0M148.69 327.3h0M155.3 323.86h0M161.58 319.86h0M167.49 315.32h0M172.99 310.29h0M178.02 304.79h0M182.56 298.88h0M186.56 292.6h0M190 285.99h0M192.85 279.11h0M195.09 272h0M196.7 264.73h0M197.68 257.34h0M198 249.9h0M197.68 242.46h0M196.7 235.07h0M195.09 227.8h0M192.85 220.69h0M190 213.81h0M186.56 207.2h0M182.56 200.92h0M178.02 195.01h0M172.99 189.51h0M167.49 184.48h0M161.58 179.94h0M155.3 175.94h0M148.69 172.5h0M96.71 340.01h0M104.63 341.05h0M112.6 341.4h0M120.57 341.05h0M128.49 340.01h0M136.28 338.28h0M143.89 335.88h0M151.27 332.83h0M158.35 329.14h0M165.08 324.85h0M171.42 319.99h0M177.3 314.6h0M182.69 308.72h0M187.55 302.38h0M191.84 295.65h0M195.53 288.57h0M198.58 281.19h0M200.98 273.58h0M202.71 265.79h0M203.75 257.87h0M204.1 249.9h0M203.75 241.93h0M202.71 234.01h0M200.98 226.22h0M198.58 218.61h0M195.53 211.23h0M191.84 204.15h0M187.55 197.42h0M182.69 191.08h0M177.3 185.2h0M171.42 179.81h0M165.08 174.95h0M158.35 170.66h0M151.27 166.97h0M95.65 346.02h0M104.09 347.13h0M112.6 347.5h0M121.11 347.13h0M137.86 344.17h0M161.4 334.42h0M168.58 329.85h0M175.34 324.67h0M181.61 318.91h0M187.37 312.64h0M192.55 305.88h0M197.12 298.7h0M206.87 275.16h0M208.72 266.85h0M209.83 258.41h0M209.83 241.39h0M206.87 224.64h0M204.31 216.52h0M201.06 208.65h0M197.12 201.1h0M192.55 193.92h0M187.37 187.16h0M181.61 180.89h0M175.34 175.13h0M168.58 169.95h0M153.85 161.44h0M94.59 352.02h0M103.56 353.21h0M112.6 353.6h0M139.44 350.07h0M164.45 339.71h0M172.08 334.85h0M179.26 329.34h0M185.93 323.23h0M192.04 316.56h0M197.55 309.38h0M206.58 293.73h0M215.91 258.94h0M216.3 249.9h0M212.77 223.06h0M206.58 206.07h0M192.04 183.24h0M179.26 170.46h0M172.08 164.95h0M156.43 155.92h0M141.02 355.96h0M220.73 268.97h0M221.98 259.47h0M222.4 249.9h0M207.69 195h0M202.54 186.92h0M196.71 179.32h0M183.18 165.79h0M167.5 154.81h0M159 150.39h0M296 166h0M216 323h0" stroke="#00ff00" stroke-width="2.7" stroke-linecap="round" fill="none"/><use href="#ast" x="66" y="47.7"/><use href="#ast" x="103.2" y="157.1"/><use href="#ast" x="112.6" y="249.9"/><use href="#ast" x="61.5" y="272"/><use href="#ast" x="9.7" y="320.8"/><text x="173.95" y="-12.5" font-size="25.2" font-weight="bold" text-anchor="middle">Radial Grid</text></g>
<g transform="translate(459.05,742.3)"><rect x="0" y="0" width="347.9" height="427.4" fill="#fff"/><g clip-path="url(#axclip)"><use href="#grid" stroke="#cfcfcf"/><path d="M82.27 0H90.24V7.2H82.27ZM158.94 0H166.91V7.2H158.94ZM166.61 6.9H174.57V15.05H166.61ZM74.6 14.75H82.57V22.89H74.6ZM89.94 22.59H105.57V30.73H89.94ZM112.94 30.43H120.9V38.56H112.94ZM143.61 38.26H159.24V46.38H143.61ZM166.61 38.26H174.57V46.38H166.61ZM105.27 53.9H113.24V62.02H105.27ZM128.27 53.9H136.24V62.02H128.27ZM143.61 53.9H151.57V62.02H143.61ZM82.27 61.72H105.57V69.82H82.27ZM128.27 61.72H136.24V69.82H128.27ZM89.94 69.52H105.57V77.63H89.94ZM112.94 69.52H120.9V77.63H112.94ZM128.27 69.52H136.24V77.63H128.27ZM143.61 69.52H151.57V77.63H143.61ZM82.27 77.33H90.24V85.42H82.27ZM97.6 77.33H105.57V85.42H97.6ZM128.27 77.33H143.91V85.42H128.27ZM158.94 77.33H166.91V85.42H158.94ZM174.27 77.33H182.24V85.42H174.27ZM135.94 85.12H151.57V93.22H135.94ZM174.27 92.92H182.24V101H174.27ZM166.61 108.49H174.57V116.56H166.61ZM166.61 155.06H174.57V163.11H166.61ZM151.27 162.81H159.24V170.85H151.27ZM166.61 162.81H174.57V170.85H166.61ZM158.94 170.55H166.91V178.58H158.94ZM174.27 170.55H182.24V178.58H174.27ZM204.94 170.55H212.91V178.58H204.94ZM135.94 178.28H151.57V186.31H135.94ZM158.94 178.28H166.91V186.31H158.94ZM174.27 178.28H182.24V186.31H174.27ZM189.61 178.28H197.57V186.31H189.61ZM135.94 186.01H151.57V194.03H135.94ZM158.94 186.01H166.91V194.03H158.94ZM181.94 186.01H197.57V194.03H181.94ZM135.94 193.73H143.91V201.75H135.94ZM158.94 193.73H166.91V201.75H158.94ZM197.27 193.73H205.24V201.75H197.27ZM174.27 209.16H182.24V217.17H174.27ZM197.27 232.27H205.24V240.26H197.27ZM181.94 255.33H189.91V263.31H181.94ZM158.94 263.01H174.57V270.98H158.94ZM89.94 270.68H97.9V278.64H89.94ZM74.6 278.34H82.57V286.3H74.6ZM66.94 286H74.9V293.96H66.94ZM197.27 286H205.24V293.96H197.27ZM43.94 293.66H59.57V301.61H43.94ZM43.94 301.31H51.9V309.26H43.94ZM59.27 301.31H67.24V309.26H59.27ZM197.27 301.31H205.24V309.26H197.27ZM28.6 308.96H44.23V316.9H28.6ZM51.6 308.96H59.57V316.9H51.6ZM66.94 308.96H82.57V316.9H66.94ZM28.6 316.6H44.23V324.54H28.6ZM20.93 324.24H44.23V332.17H20.93ZM51.6 324.24H82.57V332.17H51.6ZM20.93 331.87H28.9V339.79H20.93ZM36.27 331.87H44.23V339.79H36.27ZM51.6 347.11H67.24V355.03H51.6ZM43.94 354.73H51.9V362.64H43.94Z" fill="#0000df" shape-rendering="crispEdges"/><path d="M89.94 0H97.9V7.2H89.94ZM112.94 0H120.9V7.2H112.94ZM74.6 6.9H82.57V15.05H74.6ZM128.27 6.9H143.91V15.05H128.27ZM158.94 6.9H166.91V15.05H158.94ZM112.94 14.75H128.57V22.89H112.94ZM151.27 14.75H159.24V22.89H151.27ZM105.27 22.59H113.24V30.73H105.27ZM89.94 30.43H105.57V38.56H89.94ZM166.61 30.43H182.24V38.56H166.61ZM74.6 38.26H90.24V46.38H74.6ZM105.27 38.26H113.24V46.38H105.27ZM120.6 38.26H136.24V46.38H120.6ZM74.6 46.08H82.57V54.2H74.6ZM89.94 46.08H105.57V54.2H89.94ZM112.94 46.08H128.57V54.2H112.94ZM135.94 46.08H143.91V54.2H135.94ZM151.27 46.08H166.91V54.2H151.27ZM89.94 53.9H97.9V62.02H89.94ZM151.27 61.72H159.24V69.82H151.27ZM166.61 61.72H174.57V69.82H166.61ZM105.27 77.33H113.24V85.42H105.27ZM120.6 77.33H128.57V85.42H120.6ZM166.61 77.33H174.57V85.42H166.61ZM112.94 85.12H120.9V93.22H112.94ZM151.27 85.12H159.24V93.22H151.27ZM143.61 92.92H151.57V101H143.61ZM158.94 100.7H166.91V108.79H158.94ZM158.94 155.06H166.91V163.11H158.94ZM174.27 155.06H182.24V163.11H174.27ZM158.94 162.81H166.91V170.85H158.94ZM197.27 162.81H205.24V170.85H197.27ZM151.27 170.55H159.24V178.58H151.27ZM166.61 170.55H174.57V178.58H166.61ZM181.94 170.55H189.91V178.58H181.94ZM166.61 178.28H174.57V186.31H166.61ZM128.27 186.01H136.24V194.03H128.27ZM166.61 186.01H174.57V194.03H166.61ZM204.94 186.01H212.91V194.03H204.94ZM151.27 193.73H159.24V201.75H151.27ZM174.27 193.73H189.91V201.75H174.27ZM181.94 232.27H197.57V240.26H181.94ZM59.27 293.66H74.9V301.61H59.27ZM43.94 308.96H51.9V316.9H43.94ZM51.6 316.6H59.57V324.54H51.6ZM28.6 331.87H36.57V339.79H28.6ZM59.27 331.87H67.24V339.79H59.27ZM74.6 347.11H82.57V355.03H74.6ZM74.6 362.34H82.57V370.25H74.6Z" fill="#0000cf" shape-rendering="crispEdges"/><path d="M97.6 0H105.57V7.2H97.6ZM120.6 0H159.24V7.2H120.6ZM174.27 0H182.24V7.2H174.27ZM82.27 6.9H90.24V15.05H82.27ZM97.6 6.9H105.57V15.05H97.6ZM143.61 6.9H151.57V15.05H143.61ZM97.6 14.75H105.57V22.89H97.6ZM135.94 14.75H151.57V22.89H135.94ZM166.61 14.75H182.24V22.89H166.61ZM135.94 22.59H143.91V30.73H135.94ZM158.94 22.59H166.91V30.73H158.94ZM74.6 30.43H82.57V38.56H74.6ZM120.6 30.43H136.24V38.56H120.6ZM151.27 30.43H159.24V38.56H151.27ZM135.94 38.26H143.91V46.38H135.94ZM174.27 38.26H189.91V46.38H174.27ZM105.27 46.08H113.24V54.2H105.27ZM128.27 46.08H136.24V54.2H128.27ZM158.94 53.9H166.91V62.02H158.94ZM105.27 61.72H113.24V69.82H105.27ZM158.94 61.72H166.91V69.82H158.94ZM105.27 69.52H113.24V77.63H105.27ZM120.6 69.52H128.57V77.63H120.6ZM158.94 69.52H166.91V77.63H158.94ZM112.94 77.33H120.9V85.42H112.94ZM143.61 77.33H159.24V85.42H143.61ZM89.94 85.12H97.9V93.22H89.94ZM120.6 85.12H128.57V93.22H120.6ZM89.94 92.92H97.9V101H89.94ZM128.27 92.92H136.24V101H128.27ZM158.94 92.92H174.57V101H158.94ZM151.27 100.7H159.24V108.79H151.27ZM143.61 108.49H151.57V116.56H143.61ZM151.27 116.26H159.24V124.33H151.27ZM197.27 186.01H205.24V194.03H197.27ZM189.61 193.73H197.57V201.75H189.61ZM135.94 201.45H143.91V209.46H135.94ZM151.27 201.45H159.24V209.46H151.27ZM128.27 209.16H136.24V217.17H128.27ZM174.27 216.87H182.24V224.87H174.27ZM174.27 247.65H182.24V255.63H174.27ZM174.27 255.33H182.24V263.31H174.27ZM66.94 278.34H74.9V286.3H66.94ZM89.94 278.34H97.9V286.3H89.94ZM51.6 286H67.24V293.96H51.6ZM74.6 286H82.57V293.96H74.6ZM204.94 286H220.58V293.96H204.94ZM74.6 293.66H82.57V301.61H74.6ZM197.27 293.66H205.24V301.61H197.27ZM66.94 301.31H82.57V309.26H66.94ZM59.27 316.6H74.9V324.54H59.27ZM51.6 354.73H59.57V362.64H51.6ZM74.6 354.73H82.57V362.64H74.6Z" fill="#0000ef" shape-rendering="crispEdges"/><path d="M166.61 0H174.57V7.2H166.61ZM105.27 6.9H113.24V15.05H105.27ZM120.6 6.9H128.57V15.05H120.6ZM174.27 6.9H182.24V15.05H174.27ZM89.94 14.75H97.9V22.89H89.94ZM74.6 22.59H82.57V30.73H74.6ZM128.27 22.59H136.24V30.73H128.27ZM143.61 22.59H151.57V30.73H143.61ZM181.94 30.43H189.91V38.56H181.94ZM112.94 38.26H120.9V46.38H112.94ZM158.94 38.26H166.91V46.38H158.94ZM82.27 46.08H90.24V54.2H82.27ZM143.61 155.06H151.57V163.11H143.61ZM143.61 162.81H151.57V170.85H143.61ZM181.94 162.81H189.91V170.85H181.94ZM143.61 193.73H151.57V201.75H143.61ZM89.94 286H97.9V293.96H89.94ZM82.27 293.66H97.9V301.61H82.27ZM204.94 301.31H212.91V309.26H204.94ZM82.27 362.34H90.24V370.25H82.27Z" fill="#0000af" shape-rendering="crispEdges"/><path d="M89.94 6.9H97.9V15.05H89.94ZM112.94 6.9H120.9V15.05H112.94ZM151.27 6.9H159.24V15.05H151.27ZM82.27 14.75H90.24V22.89H82.27ZM105.27 14.75H113.24V22.89H105.27ZM128.27 14.75H136.24V22.89H128.27ZM158.94 14.75H166.91V22.89H158.94ZM82.27 22.59H90.24V30.73H82.27ZM112.94 22.59H128.57V30.73H112.94ZM151.27 22.59H159.24V30.73H151.27ZM166.61 22.59H182.24V30.73H166.61ZM82.27 30.43H90.24V38.56H82.27ZM105.27 30.43H113.24V38.56H105.27ZM135.94 30.43H151.57V38.56H135.94ZM158.94 30.43H166.91V38.56H158.94ZM89.94 38.26H105.57V46.38H89.94ZM143.61 46.08H151.57V54.2H143.61ZM97.6 53.9H105.57V62.02H97.6ZM112.94 53.9H120.9V62.02H112.94ZM151.27 53.9H159.24V62.02H151.27ZM120.6 61.72H128.57V69.82H120.6ZM135.94 61.72H143.91V69.82H135.94ZM174.27 61.72H182.24V69.82H174.27ZM151.27 69.52H159.24V77.63H151.27ZM166.61 85.12H174.57V93.22H166.61ZM151.27 92.92H159.24V101H151.27ZM197.27 92.92H205.24V101H197.27ZM166.61 100.7H174.57V108.79H166.61ZM174.27 162.81H182.24V170.85H174.27ZM143.61 170.55H151.57V178.58H143.61ZM189.61 170.55H197.57V178.58H189.61ZM151.27 178.28H159.24V186.31H151.27ZM197.27 178.28H212.91V186.31H197.27ZM151.27 186.01H159.24V194.03H151.27ZM174.27 186.01H182.24V194.03H174.27ZM128.27 193.73H136.24V201.75H128.27ZM220.28 216.87H228.24V224.87H220.28ZM197.27 239.96H205.24V247.95H197.27ZM189.61 247.65H197.57V255.63H189.61ZM82.27 278.34H90.24V286.3H82.27ZM82.27 286H90.24V293.96H82.27ZM212.61 293.66H220.58V301.61H212.61ZM36.27 301.31H44.23V309.26H36.27ZM51.6 301.31H59.57V309.26H51.6ZM143.61 316.6H151.57V324.54H143.61ZM43.94 324.24H51.9V332.17H43.94ZM166.61 324.24H174.57V332.17H166.61ZM43.94 331.87H51.9V339.79H43.94ZM82.27 354.73H90.24V362.64H82.27ZM51.6 362.34H67.24V370.25H51.6Z" fill="#0000bf" shape-rendering="crispEdges"/><path d="M82.27 53.9H90.24V62.02H82.27ZM120.6 53.9H128.57V62.02H120.6ZM135.94 53.9H143.91V62.02H135.94ZM166.61 53.9H174.57V62.02H166.61ZM112.94 61.72H120.9V69.82H112.94ZM143.61 61.72H151.57V69.82H143.61ZM181.94 61.72H189.91V69.82H181.94ZM82.27 69.52H90.24V77.63H82.27ZM135.94 69.52H143.91V77.63H135.94ZM166.61 69.52H189.91V77.63H166.61ZM105.27 85.12H113.24V93.22H105.27ZM158.94 85.12H166.91V93.22H158.94ZM174.27 85.12H182.24V93.22H174.27ZM112.94 92.92H128.57V101H112.94ZM112.94 100.7H120.9V108.79H112.94ZM128.27 100.7H143.91V108.79H128.27ZM174.27 100.7H182.24V108.79H174.27ZM112.94 108.49H128.57V116.56H112.94ZM120.6 116.26H128.57V124.33H120.6ZM143.61 116.26H151.57V124.33H143.61ZM158.94 116.26H166.91V124.33H158.94ZM128.27 201.45H136.24V209.46H128.27ZM143.61 201.45H151.57V209.46H143.61ZM166.61 201.45H189.91V209.46H166.61ZM120.6 209.16H128.57V217.17H120.6ZM158.94 209.16H166.91V217.17H158.94ZM181.94 209.16H189.91V217.17H181.94ZM135.94 216.87H143.91V224.87H135.94ZM151.27 216.87H166.91V224.87H151.27ZM189.61 216.87H197.57V224.87H189.61ZM181.94 224.57H189.91V232.57H181.94ZM197.27 224.57H205.24V232.57H197.27ZM204.94 232.27H212.91V240.26H204.94ZM174.27 239.96H182.24V247.95H174.27ZM189.61 239.96H197.57V247.95H189.61ZM158.94 255.33H166.91V263.31H158.94ZM89.94 263.01H97.9V270.98H89.94ZM82.27 270.68H90.24V278.64H82.27ZM59.27 278.34H67.24V286.3H59.27ZM204.94 293.66H212.91V301.61H204.94ZM20.93 316.6H28.9V324.54H20.93ZM43.94 316.6H51.9V324.54H43.94ZM51.6 331.87H59.57V339.79H51.6ZM66.94 331.87H74.9V339.79H66.94ZM66.94 347.11H74.9V355.03H66.94ZM82.27 347.11H90.24V355.03H82.27ZM59.27 354.73H74.9V362.64H59.27ZM66.94 362.34H74.9V370.25H66.94Z" fill="#0000ff" shape-rendering="crispEdges"/><path d="M212.61 61.72H220.58V69.82H212.61ZM135.94 232.27H143.91V240.26H135.94ZM120.6 293.66H128.57V301.61H120.6ZM120.6 347.11H128.57V355.03H120.6Z" fill="#0070ff" shape-rendering="crispEdges"/><path d="M89.94 77.33H97.9V85.42H89.94ZM97.6 85.12H105.57V93.22H97.6ZM128.27 85.12H136.24V93.22H128.27ZM135.94 92.92H143.91V101H135.94ZM143.61 100.7H151.57V108.79H143.61ZM97.6 108.49H105.57V116.56H97.6ZM151.27 108.49H166.91V116.56H151.27ZM105.27 116.26H120.9V124.33H105.27ZM135.94 116.26H143.91V124.33H135.94ZM120.6 124.03H128.57V132.1H120.6ZM143.61 124.03H151.57V132.1H143.61ZM143.61 131.8H151.57V139.86H143.61ZM158.94 201.45H166.91V209.46H158.94ZM197.27 201.45H205.24V209.46H197.27ZM151.27 209.16H159.24V217.17H151.27ZM128.27 216.87H136.24V224.87H128.27ZM181.94 216.87H189.91V224.87H181.94ZM197.27 216.87H205.24V224.87H197.27ZM174.27 224.57H182.24V232.57H174.27ZM189.61 224.57H197.57V232.57H189.61ZM204.94 224.57H212.91V232.57H204.94ZM166.61 232.27H174.57V240.26H166.61ZM120.6 239.96H128.57V247.95H120.6ZM181.94 239.96H189.91V247.95H181.94ZM158.94 247.65H166.91V255.63H158.94ZM181.94 247.65H189.91V255.63H181.94ZM97.6 293.66H105.57V301.61H97.6ZM151.27 316.6H166.91V324.54H151.27Z" fill="#0010ff" shape-rendering="crispEdges"/><path d="M97.6 92.92H113.24V101H97.6ZM97.6 100.7H113.24V108.79H97.6ZM197.27 100.7H205.24V108.79H197.27ZM135.94 108.49H143.91V116.56H135.94ZM197.27 108.49H205.24V116.56H197.27ZM135.94 124.03H143.91V132.1H135.94ZM151.27 124.03H159.24V132.1H151.27ZM135.94 131.8H143.91V139.86H135.94ZM204.94 193.73H212.91V201.75H204.94ZM189.61 201.45H197.57V209.46H189.61ZM135.94 209.16H151.57V217.17H135.94ZM166.61 209.16H174.57V217.17H166.61ZM189.61 209.16H197.57V217.17H189.61ZM143.61 216.87H151.57V224.87H143.61ZM166.61 216.87H174.57V224.87H166.61ZM204.94 216.87H220.58V224.87H204.94ZM212.61 224.57H220.58V232.57H212.61ZM174.27 232.27H182.24V240.26H174.27ZM166.61 247.65H174.57V255.63H166.61ZM128.27 255.33H143.91V263.31H128.27ZM166.61 255.33H174.57V263.31H166.61ZM105.27 324.24H113.24V332.17H105.27ZM151.27 324.24H166.91V332.17H151.27ZM105.27 331.87H113.24V339.79H105.27ZM120.6 339.49H128.57V347.41H120.6Z" fill="#0020ff" shape-rendering="crispEdges"/><path d="M204.94 92.92H212.91V101H204.94ZM212.61 100.7H220.58V108.79H212.61ZM112.94 131.8H120.9V139.86H112.94ZM212.61 201.45H220.58V209.46H212.61ZM212.61 209.16H220.58V217.17H212.61ZM151.27 232.27H159.24V240.26H151.27ZM135.94 247.65H143.91V255.63H135.94ZM151.27 331.87H166.91V339.79H151.27ZM97.6 339.49H105.57V347.41H97.6Z" fill="#0050ff" shape-rendering="crispEdges"/><path d="M120.6 100.7H128.57V108.79H120.6ZM105.27 108.49H113.24V116.56H105.27ZM128.27 108.49H136.24V116.56H128.27ZM105.27 124.03H113.24V132.1H105.27ZM128.27 124.03H136.24V132.1H128.27ZM120.6 131.8H136.24V139.86H120.6ZM135.94 139.56H143.91V147.61H135.94ZM204.94 201.45H212.91V209.46H204.94ZM197.27 209.16H205.24V217.17H197.27ZM128.27 224.57H143.91V232.57H128.27ZM151.27 224.57H174.57V232.57H151.27ZM128.27 239.96H136.24V247.95H128.27ZM166.61 239.96H174.57V247.95H166.61ZM151.27 255.33H159.24V263.31H151.27ZM120.6 301.31H136.24V309.26H120.6ZM120.6 331.87H128.57V339.79H120.6ZM105.27 339.49H120.9V347.41H105.27ZM43.94 347.11H51.9V355.03H43.94Z" fill="#0030ff" shape-rendering="crispEdges"/><path d="M204.94 100.7H212.91V108.79H204.94ZM204.94 108.49H212.91V116.56H204.94ZM128.27 116.26H136.24V124.33H128.27ZM112.94 124.03H120.9V132.1H112.94ZM128.27 139.56H136.24V147.61H128.27ZM204.94 209.16H212.91V217.17H204.94ZM143.61 224.57H151.57V232.57H143.61ZM158.94 232.27H166.91V240.26H158.94ZM158.94 239.96H166.91V247.95H158.94ZM128.27 247.65H136.24V255.63H128.27ZM151.27 247.65H159.24V255.63H151.27ZM112.94 331.87H120.9V339.79H112.94ZM105.27 347.11H120.9V355.03H105.27Z" fill="#0040ff" shape-rendering="crispEdges"/><path d="M212.61 108.49H220.58V116.56H212.61ZM143.61 232.27H151.57V240.26H143.61ZM120.6 255.33H128.57V263.31H120.6ZM97.6 278.34H105.57V286.3H97.6ZM97.6 286H105.57V293.96H97.6ZM105.27 301.31H113.24V309.26H105.27ZM112.94 324.24H128.57V332.17H112.94Z" fill="#009fff" shape-rendering="crispEdges"/><path d="M151.27 155.06H159.24V163.11H151.27ZM189.61 162.81H197.57V170.85H189.61ZM197.27 170.55H205.24V178.58H197.27ZM181.94 178.28H189.91V186.31H181.94ZM166.61 193.73H174.57V201.75H166.61ZM166.61 331.87H174.57V339.79H166.61Z" fill="#00009f" shape-rendering="crispEdges"/><path d="M220.28 209.16H228.24V217.17H220.28ZM135.94 239.96H143.91V247.95H135.94ZM143.61 247.65H151.57V255.63H143.61ZM128.27 286H136.24V293.96H128.27ZM128.27 293.66H136.24V301.61H128.27ZM112.94 301.31H120.9V309.26H112.94ZM97.6 347.11H105.57V355.03H97.6Z" fill="#0060ff" shape-rendering="crispEdges"/><path d="M143.61 239.96H151.57V247.95H143.61ZM120.6 270.68H128.57V278.64H120.6ZM120.6 278.34H128.57V286.3H120.6ZM120.6 286H128.57V293.96H120.6Z" fill="#00afff" shape-rendering="crispEdges"/><path d="M151.27 239.96H159.24V247.95H151.27ZM120.6 247.65H128.57V255.63H120.6ZM105.27 293.66H120.9V301.61H105.27Z" fill="#008fff" shape-rendering="crispEdges"/><path d="M105.27 247.65H113.24V255.63H105.27ZM105.27 286H120.9V293.96H105.27Z" fill="#00bfff" shape-rendering="crispEdges"/><path d="M112.94 247.65H120.9V255.63H112.94ZM105.27 278.34H113.24V286.3H105.27Z" fill="#00cfff" shape-rendering="crispEdges"/><path d="M105.27 255.33H113.24V263.31H105.27ZM120.6 263.01H128.57V270.98H120.6Z" fill="#00dfff" shape-rendering="crispEdges"/><path d="M112.94 255.33H120.9V263.31H112.94ZM105.27 270.68H113.24V278.64H105.27Z" fill="#00ffff" shape-rendering="crispEdges"/><path d="M105.27 263.01H113.24V270.98H105.27Z" fill="#20ffdf" shape-rendering="crispEdges"/><path d="M112.94 263.01H120.9V270.98H112.94Z" fill="#30ffcf" shape-rendering="crispEdges"/><path d="M112.94 270.68H120.9V278.64H112.94ZM112.94 278.34H120.9V286.3H112.94Z" fill="#00efff" shape-rendering="crispEdges"/><use href="#land"/><g clip-path="url(#landclip)"><use href="#grid" stroke="#69ad69"/></g><use href="#ast" x="66" y="47.7"/><use href="#ast" x="103.2" y="157.1"/><use href="#ast" x="112.6" y="249.9"/><use href="#ast" x="61.5" y="272"/><use href="#ast" x="9.7" y="320.8"/></g><rect x="0" y="0" width="347.9" height="427.4" fill="none" stroke="#000" stroke-width="1" shape-rendering="crispEdges"/><path d="M0 427.4v-4.2M0 0v4.2M0 -0h4.2M347.9 -0h-4.2M57.98 427.4v-4.2M57.98 0v4.2M0 72.36h4.2M347.9 72.36h-4.2M115.97 427.4v-4.2M115.97 0v4.2M0 144.26h4.2M347.9 144.26h-4.2M173.95 427.4v-4.2M173.95 0v4.2M0 215.7h4.2M347.9 215.7h-4.2M231.93 427.4v-4.2M231.93 0v4.2M0 286.69h4.2M347.9 286.69h-4.2M289.92 427.4v-4.2M289.92 0v4.2M0 357.26h4.2M347.9 357.26h-4.2M347.9 427.4v-4.2M347.9 0v4.2M0 427.4h4.2M347.9 427.4h-4.2" stroke="#000" stroke-width="1" fill="none" shape-rendering="crispEdges"/><text x="-8.3" y="7.2" font-size="20" text-anchor="end">37°N</text><text x="-8.3" y="77.96" font-size="15" text-anchor="end">30'</text><text x="-8.3" y="151.46" font-size="20" text-anchor="end">36°N</text><text x="-8.3" y="221.3" font-size="15" text-anchor="end">30'</text><text x="-8.3" y="293.89" font-size="20" text-anchor="end">35°N</text><text x="-8.3" y="362.86" font-size="15" text-anchor="end">30'</text><text x="-8.3" y="434.6" font-size="20" text-anchor="end">34°N</text><text x="-1" y="444.6" font-size="15" text-anchor="middle">30'</text><text x="57.98" y="448.6" font-size="20" text-anchor="middle">76°W</text><text x="114.97" y="444.6" font-size="15" text-anchor="middle">30'</text><text x="173.95" y="448.6" font-size="20" text-anchor="middle">75°W</text><text x="230.93" y="444.6" font-size="15" text-anchor="middle">30'</text><text x="289.92" y="448.6" font-size="20" text-anchor="middle">74°W</text><text x="346.9" y="444.6" font-size="15" text-anchor="middle">30'</text><rect x="3.7" y="20.2" width="111.6" height="24.9" fill="url(#jet)" stroke="#262626" stroke-width="1"/><text x="2.5" y="7.2" font-size="17.5" text-anchor="middle" style="fill:#262626">0</text><text x="95.77" y="7.2" font-size="17.5" text-anchor="middle" style="fill:#262626">50</text><text x="59.5" y="-19.7" font-size="22" text-anchor="middle" style="fill:#262626">cm/s</text><text x="312" y="37.5" font-size="20" text-anchor="middle">10 km</text><path d="M305 44H320" stroke="#000" stroke-width="4" stroke-linecap="round"/><text x="173.95" y="-11.7" font-size="20.6" font-weight="bold" text-anchor="middle">FitDif TotalErrors (30)</text></g>
<g transform="translate(843.1,742.3)"><rect x="0" y="0" width="347.9" height="427.4" fill="#fff"/><g clip-path="url(#axclip)"><use href="#grid" stroke="#cfcfcf"/><path d="M66.94 0H82.57V7.2H66.94ZM204.94 0H243.58V7.2H204.94ZM204.94 6.9H251.24V15.05H204.94ZM181.94 14.75H189.91V22.89H181.94ZM204.94 14.75H243.58V22.89H204.94ZM181.94 22.59H197.57V30.73H181.94ZM204.94 22.59H251.24V30.73H204.94ZM189.61 30.43H197.57V38.56H189.61ZM212.61 30.43H251.24V38.56H212.61ZM189.61 38.26H197.57V46.38H189.61ZM204.94 38.26H251.24V46.38H204.94ZM166.61 46.08H197.57V54.2H166.61ZM212.61 46.08H251.24V54.2H212.61ZM174.27 53.9H243.58V62.02H174.27ZM189.61 61.72H197.57V69.82H189.61ZM220.28 61.72H235.91V69.82H220.28ZM220.28 69.52H235.91V77.63H220.28ZM220.28 77.33H235.91V85.42H220.28Z" fill="#0020ff" shape-rendering="crispEdges"/><path d="M82.27 0H105.57V7.2H82.27ZM112.94 0H182.24V7.2H112.94ZM66.94 6.9H182.24V15.05H66.94ZM74.6 14.75H182.24V22.89H74.6ZM74.6 22.59H182.24V30.73H74.6ZM74.6 30.43H189.91V38.56H74.6ZM74.6 38.26H189.91V46.38H74.6ZM74.6 46.08H166.91V54.2H74.6ZM82.27 53.9H174.57V62.02H82.27ZM82.27 61.72H189.91V69.82H82.27ZM197.27 61.72H220.58V69.82H197.27ZM82.27 69.52H189.91V77.63H82.27ZM197.27 69.52H220.58V77.63H197.27ZM82.27 77.33H182.24V85.42H82.27ZM89.94 85.12H182.24V93.22H89.94ZM89.94 92.92H182.24V101H89.94ZM197.27 92.92H212.91V101H197.27ZM97.6 100.7H182.24V108.79H97.6ZM197.27 100.7H220.58V108.79H197.27ZM97.6 108.49H174.57V116.56H97.6ZM197.27 108.49H220.58V116.56H197.27ZM105.27 116.26H166.91V124.33H105.27ZM105.27 124.03H159.24V132.1H105.27ZM112.94 131.8H151.57V139.86H112.94ZM128.27 139.56H143.91V147.61H128.27Z" fill="#0040ff" shape-rendering="crispEdges"/><path d="M105.27 0H113.24V7.2H105.27ZM181.94 0H189.91V7.2H181.94ZM243.28 0H274.25V7.2H243.28ZM281.61 0H304.91V7.2H281.61ZM181.94 6.9H189.91V15.05H181.94ZM250.94 6.9H281.91V15.05H250.94ZM289.28 6.9H312.58V15.05H289.28ZM335.28 6.9H350.92V15.05H335.28ZM281.61 14.75H312.58V22.89H281.61ZM319.95 14.75H350.92V22.89H319.95ZM273.94 22.59H350.92V30.73H273.94ZM273.94 30.43H350.92V38.56H273.94ZM289.28 38.26H327.91V46.38H289.28ZM342.95 38.26H350.92V46.38H342.95ZM289.28 46.08H335.58V54.2H289.28ZM342.95 46.08H350.92V54.2H342.95ZM296.95 53.9H335.58V62.02H296.95ZM273.94 61.72H327.91V69.82H273.94ZM189.61 69.52H197.57V77.63H189.61ZM273.94 69.52H335.58V77.63H273.94ZM181.94 77.33H212.91V85.42H181.94ZM273.94 77.33H297.25V85.42H273.94ZM304.61 77.33H335.58V85.42H304.61ZM82.27 85.12H90.24V93.22H82.27ZM181.94 85.12H228.24V93.22H181.94ZM304.61 85.12H327.91V93.22H304.61ZM181.94 92.92H197.57V101H181.94ZM212.61 92.92H228.24V101H212.61ZM89.94 100.7H97.9V108.79H89.94ZM181.94 100.7H197.57V108.79H181.94ZM220.28 100.7H243.58V108.79H220.28ZM342.95 100.7H350.92V108.79H342.95ZM174.27 108.49H197.57V116.56H174.27ZM220.28 108.49H243.58V116.56H220.28ZM342.95 108.49H350.92V116.56H342.95ZM97.6 116.26H105.57V124.33H97.6ZM166.61 116.26H243.58V124.33H166.61ZM342.95 116.26H350.92V124.33H342.95ZM158.94 124.03H243.58V132.1H158.94ZM105.27 131.8H113.24V139.86H105.27ZM151.27 131.8H266.58V139.86H151.27ZM105.27 139.56H128.57V147.61H105.27ZM143.61 139.56H274.25V147.61H143.61ZM105.27 147.31H266.58V155.36H105.27ZM296.95 147.31H304.91V155.36H296.95ZM112.94 155.06H143.91V163.11H112.94ZM181.94 155.06H251.24V163.11H181.94ZM289.28 155.06H312.58V163.11H289.28ZM112.94 162.81H143.91V170.85H112.94ZM204.94 162.81H251.24V170.85H204.94ZM289.28 162.81H335.58V170.85H289.28ZM120.6 170.55H136.24V178.58H120.6ZM212.61 170.55H243.58V178.58H212.61ZM296.95 170.55H304.91V178.58H296.95ZM312.28 170.55H335.58V178.58H312.28ZM120.6 178.28H136.24V186.31H120.6ZM212.61 178.28H243.58V186.31H212.61ZM312.28 178.28H335.58V186.31H312.28ZM120.6 186.01H128.57V194.03H120.6ZM212.61 186.01H243.58V194.03H212.61ZM120.6 193.73H128.57V201.75H120.6ZM212.61 193.73H243.58V201.75H212.61ZM296.95 193.73H312.58V201.75H296.95ZM120.6 201.45H128.57V209.46H120.6ZM220.28 201.45H243.58V209.46H220.28ZM289.28 201.45H312.58V209.46H289.28ZM327.61 201.45H335.58V209.46H327.61ZM227.94 209.16H235.91V217.17H227.94ZM273.94 209.16H312.58V217.17H273.94ZM319.95 209.16H343.25V217.17H319.95ZM120.6 216.87H128.57V224.87H120.6ZM273.94 216.87H297.25V224.87H273.94ZM319.95 216.87H343.25V224.87H319.95ZM120.6 224.57H128.57V232.57H120.6ZM273.94 224.57H289.58V232.57H273.94ZM327.61 224.57H335.58V232.57H327.61ZM120.6 232.27H136.24V240.26H120.6Z" fill="#0000af" shape-rendering="crispEdges"/><path d="M189.61 0H205.24V7.2H189.61ZM273.94 0H281.91V7.2H273.94ZM304.61 0H350.92V7.2H304.61ZM189.61 6.9H205.24V15.05H189.61ZM281.61 6.9H289.58V15.05H281.61ZM312.28 6.9H335.58V15.05H312.28ZM189.61 14.75H205.24V22.89H189.61ZM243.28 14.75H281.91V22.89H243.28ZM312.28 14.75H320.25V22.89H312.28ZM197.27 22.59H205.24V30.73H197.27ZM250.94 22.59H274.25V30.73H250.94ZM197.27 30.43H212.91V38.56H197.27ZM250.94 30.43H274.25V38.56H250.94ZM197.27 38.26H205.24V46.38H197.27ZM250.94 38.26H289.58V46.38H250.94ZM327.61 38.26H343.25V46.38H327.61ZM197.27 46.08H212.91V54.2H197.27ZM250.94 46.08H289.58V54.2H250.94ZM335.28 46.08H343.25V54.2H335.28ZM243.28 53.9H297.25V62.02H243.28ZM335.28 53.9H350.92V62.02H335.28ZM235.61 61.72H274.25V69.82H235.61ZM327.61 61.72H350.92V69.82H327.61ZM235.61 69.52H274.25V77.63H235.61ZM335.28 69.52H350.92V77.63H335.28ZM212.61 77.33H220.58V85.42H212.61ZM235.61 77.33H274.25V85.42H235.61ZM296.95 77.33H304.91V85.42H296.95ZM335.28 77.33H350.92V85.42H335.28ZM227.94 85.12H304.91V93.22H227.94ZM327.61 85.12H350.92V93.22H327.61ZM227.94 92.92H350.92V101H227.94ZM243.28 100.7H343.25V108.79H243.28ZM243.28 108.49H343.25V116.56H243.28ZM243.28 116.26H343.25V124.33H243.28ZM97.6 124.03H105.57V132.1H97.6ZM243.28 124.03H350.92V132.1H243.28ZM266.28 131.8H350.92V139.86H266.28ZM273.94 139.56H350.92V147.61H273.94ZM266.28 147.31H297.25V155.36H266.28ZM304.61 147.31H350.92V155.36H304.61ZM250.94 155.06H289.58V163.11H250.94ZM312.28 155.06H350.92V163.11H312.28ZM250.94 162.81H289.58V170.85H250.94ZM335.28 162.81H350.92V170.85H335.28ZM243.28 170.55H297.25V178.58H243.28ZM304.61 170.55H312.58V178.58H304.61ZM335.28 170.55H350.92V178.58H335.28ZM243.28 178.28H312.58V186.31H243.28ZM335.28 178.28H350.92V186.31H335.28ZM243.28 186.01H350.92V194.03H243.28ZM243.28 193.73H297.25V201.75H243.28ZM312.28 193.73H350.92V201.75H312.28ZM243.28 201.45H289.58V209.46H243.28ZM312.28 201.45H327.91V209.46H312.28ZM335.28 201.45H350.92V209.46H335.28ZM235.61 209.16H274.25V217.17H235.61ZM312.28 209.16H320.25V217.17H312.28ZM342.95 209.16H350.92V217.17H342.95ZM227.94 216.87H274.25V224.87H227.94ZM296.95 216.87H320.25V224.87H296.95ZM342.95 216.87H350.92V224.87H342.95ZM235.61 224.57H274.25V232.57H235.61ZM289.28 224.57H327.91V232.57H289.28ZM335.28 224.57H350.92V232.57H335.28ZM235.61 232.27H350.92V240.26H235.61ZM235.61 239.96H350.92V247.95H235.61ZM235.61 247.65H350.92V255.63H235.61ZM235.61 255.33H258.91V263.31H235.61ZM281.61 255.33H350.92V263.31H281.61ZM243.28 263.01H251.24V270.98H243.28ZM281.61 263.01H350.92V270.98H281.61ZM235.61 270.68H258.91V278.64H235.61ZM281.61 270.68H350.92V278.64H281.61ZM235.61 278.34H266.58V286.3H235.61ZM281.61 278.34H350.92V286.3H281.61ZM235.61 286H350.92V293.96H235.61ZM227.94 293.66H350.92V301.61H227.94ZM227.94 301.31H235.91V309.26H227.94ZM250.94 301.31H350.92V309.26H250.94ZM250.94 308.96H350.92V316.9H250.94ZM250.94 316.6H350.92V324.54H250.94ZM135.94 324.24H143.91V332.17H135.94ZM197.27 324.24H212.91V332.17H197.27ZM227.94 324.24H350.92V332.17H227.94ZM135.94 331.87H143.91V339.79H135.94ZM181.94 331.87H350.92V339.79H181.94ZM174.27 339.49H350.92V347.41H174.27ZM89.94 347.11H97.9V355.03H89.94ZM166.61 347.11H350.92V355.03H166.61ZM89.94 354.73H97.9V362.64H89.94ZM166.61 354.73H251.24V362.64H166.61ZM266.28 354.73H350.92V362.64H266.28ZM128.27 362.34H136.24V370.25H128.27ZM166.61 362.34H243.58V370.25H166.61ZM266.28 362.34H350.92V370.25H266.28ZM120.6 369.95H128.57V377.85H120.6ZM166.61 369.95H243.58V377.85H166.61ZM266.28 369.95H350.92V377.85H266.28ZM120.6 377.55H128.57V385.45H120.6ZM158.94 377.55H350.92V385.45H158.94ZM120.6 385.15H128.57V393.04H120.6ZM158.94 385.15H350.92V393.04H158.94ZM112.94 392.74H120.9V400.62H112.94ZM151.27 392.74H350.92V400.62H151.27ZM112.94 400.32H120.9V408.21H112.94ZM143.61 400.32H350.92V408.21H143.61ZM105.27 407.91H128.57V415.78H105.27ZM143.61 407.91H350.92V415.78H143.61ZM97.6 415.48H350.92V423.35H97.6ZM105.27 423.05H350.92V430.92H105.27Z" fill="#00008f" shape-rendering="crispEdges"/><path d="M143.61 155.06H182.24V163.11H143.61ZM143.61 162.81H205.24V170.85H143.61ZM135.94 170.55H212.91V178.58H135.94ZM135.94 178.28H212.91V186.31H135.94ZM128.27 186.01H212.91V194.03H128.27ZM128.27 193.73H212.91V201.75H128.27ZM128.27 201.45H220.58V209.46H128.27ZM120.6 209.16H228.24V217.17H120.6ZM128.27 216.87H228.24V224.87H128.27ZM128.27 224.57H143.91V232.57H128.27ZM151.27 224.57H220.58V232.57H151.27ZM158.94 232.27H212.91V240.26H158.94ZM158.94 239.96H205.24V247.95H158.94ZM151.27 247.65H197.57V255.63H151.27ZM143.61 255.33H189.91V263.31H143.61ZM158.94 263.01H174.57V270.98H158.94ZM197.27 286H220.58V293.96H197.27ZM197.27 293.66H220.58V301.61H197.27ZM197.27 301.31H212.91V309.26H197.27ZM227.94 316.6H235.91V324.54H227.94Z" fill="#0000ef" shape-rendering="crispEdges"/><path d="M143.61 224.57H151.57V232.57H143.61ZM135.94 232.27H159.24V240.26H135.94ZM143.61 239.96H159.24V247.95H143.61ZM143.61 247.65H151.57V255.63H143.61Z" fill="#30ffcf" shape-rendering="crispEdges"/><path d="M220.28 224.57H235.91V232.57H220.28ZM212.61 232.27H235.91V240.26H212.61ZM204.94 239.96H235.91V247.95H204.94ZM197.27 247.65H235.91V255.63H197.27ZM189.61 255.33H235.91V263.31H189.61ZM128.27 263.01H159.24V270.98H128.27ZM174.27 263.01H243.58V270.98H174.27ZM128.27 270.68H235.91V278.64H128.27ZM128.27 278.34H235.91V286.3H128.27ZM135.94 286H197.57V293.96H135.94ZM220.28 286H235.91V293.96H220.28ZM135.94 293.66H197.57V301.61H135.94ZM220.28 293.66H228.24V301.61H220.28ZM135.94 301.31H197.57V309.26H135.94ZM212.61 301.31H228.24V309.26H212.61ZM97.6 308.96H235.91V316.9H97.6ZM97.6 316.6H143.91V324.54H97.6ZM166.61 316.6H228.24V324.54H166.61ZM97.6 324.24H105.57V332.17H97.6ZM128.27 324.24H136.24V332.17H128.27ZM174.27 324.24H197.57V332.17H174.27ZM212.61 324.24H228.24V332.17H212.61ZM97.6 331.87H105.57V339.79H97.6ZM128.27 331.87H136.24V339.79H128.27ZM174.27 331.87H182.24V339.79H174.27Z" fill="#0000cf" shape-rendering="crispEdges"/><path d="M120.6 239.96H136.24V247.95H120.6ZM120.6 247.65H143.91V255.63H120.6ZM120.6 255.33H143.91V263.31H120.6Z" fill="#ffc800" shape-rendering="crispEdges"/><path d="M135.94 239.96H143.91V247.95H135.94Z" fill="#800000" shape-rendering="crispEdges"/><path d="M105.27 247.65H120.9V255.63H105.27ZM105.27 255.33H120.9V263.31H105.27ZM105.27 263.01H128.57V270.98H105.27ZM105.27 270.68H128.57V278.64H105.27ZM97.6 278.34H128.57V286.3H97.6ZM97.6 286H136.24V293.96H97.6ZM97.6 293.66H136.24V301.61H97.6ZM97.6 301.31H136.24V309.26H97.6ZM143.61 316.6H166.91V324.54H143.61ZM105.27 324.24H128.57V332.17H105.27ZM143.61 324.24H174.57V332.17H143.61ZM120.6 331.87H128.57V339.79H120.6ZM151.27 331.87H174.57V339.79H151.27ZM120.6 339.49H136.24V347.41H120.6ZM120.6 347.11H128.57V355.03H120.6Z" fill="#00ffff" shape-rendering="crispEdges"/><path d="M89.94 255.33H105.57V263.31H89.94ZM97.6 263.01H105.57V270.98H97.6ZM97.6 270.68H105.57V278.64H97.6ZM82.27 301.31H97.9V309.26H82.27ZM82.27 308.96H97.9V316.9H82.27ZM82.27 316.6H97.9V324.54H82.27ZM13.27 324.24H21.23V332.17H13.27ZM82.27 324.24H97.9V332.17H82.27ZM13.27 331.87H21.23V339.79H13.27ZM74.6 331.87H97.9V339.79H74.6ZM143.61 331.87H151.57V339.79H143.61ZM5.6 339.49H97.9V347.41H5.6ZM135.94 339.49H174.57V347.41H135.94ZM5.6 347.11H44.23V355.03H5.6ZM128.27 347.11H166.91V355.03H128.27ZM5.6 354.73H44.23V362.64H5.6ZM97.6 354.73H166.91V362.64H97.6ZM5.6 362.34H51.9V370.25H5.6ZM89.94 362.34H128.57V370.25H89.94ZM135.94 362.34H166.91V370.25H135.94ZM5.6 369.95H120.9V377.85H5.6ZM128.27 369.95H166.91V377.85H128.27ZM5.6 377.55H120.9V385.45H5.6ZM128.27 377.55H159.24V385.45H128.27ZM5.6 385.15H120.9V393.04H5.6ZM128.27 385.15H159.24V393.04H128.27ZM5.6 392.74H113.24V400.62H5.6ZM120.6 392.74H151.57V400.62H120.6ZM5.6 400.32H113.24V408.21H5.6ZM120.6 400.32H143.91V408.21H120.6ZM5.6 407.91H105.57V415.78H5.6ZM128.27 407.91H143.91V415.78H128.27ZM5.6 415.48H97.9V423.35H5.6ZM5.6 423.05H105.57V430.92H5.6Z" fill="#00afff" shape-rendering="crispEdges"/><path d="M258.61 255.33H281.91V263.31H258.61ZM250.94 263.01H281.91V270.98H250.94ZM258.61 270.68H281.91V278.64H258.61ZM266.28 278.34H281.91V286.3H266.28ZM235.61 301.31H251.24V309.26H235.61ZM235.61 308.96H251.24V316.9H235.61ZM235.61 316.6H251.24V324.54H235.61ZM250.94 354.73H266.58V362.64H250.94ZM243.28 362.34H266.58V370.25H243.28ZM243.28 369.95H266.58V377.85H243.28Z" fill="#00009f" shape-rendering="crispEdges"/><path d="M82.27 263.01H90.24V270.98H82.27ZM66.94 270.68H82.57V278.64H66.94ZM59.27 308.96H67.24V316.9H59.27ZM74.6 316.6H82.57V324.54H74.6Z" fill="#dfff20" shape-rendering="crispEdges"/><path d="M89.94 263.01H97.9V270.98H89.94ZM82.27 270.68H97.9V278.64H82.27ZM59.27 278.34H97.9V286.3H59.27ZM51.6 286H97.9V293.96H51.6ZM43.94 293.66H97.9V301.61H43.94ZM36.27 301.31H82.57V309.26H36.27ZM28.6 308.96H59.57V316.9H28.6ZM66.94 308.96H82.57V316.9H66.94ZM20.93 316.6H74.9V324.54H20.93ZM20.93 324.24H82.57V332.17H20.93ZM20.93 331.87H74.9V339.79H20.93ZM43.94 347.11H90.24V355.03H43.94ZM43.94 354.73H90.24V362.64H43.94ZM51.6 362.34H90.24V370.25H51.6Z" fill="#ef0000" shape-rendering="crispEdges"/><path d="M105.27 331.87H120.9V339.79H105.27ZM97.6 339.49H120.9V347.41H97.6ZM97.6 347.11H120.9V355.03H97.6Z" fill="#af0000" shape-rendering="crispEdges"/><use href="#land"/><g clip-path="url(#landclip)"><use href="#grid" stroke="#69ad69"/></g><use href="#ast" x="66" y="47.7"/><use href="#ast" x="103.2" y="157.1"/><use href="#ast" x="112.6" y="249.9"/><use href="#ast" x="61.5" y="272"/><use href="#ast" x="9.7" y="320.8"/></g><rect x="0" y="0" width="347.9" height="427.4" fill="none" stroke="#000" stroke-width="1" shape-rendering="crispEdges"/><path d="M0 427.4v-4.2M0 0v4.2M0 -0h4.2M347.9 -0h-4.2M57.98 427.4v-4.2M57.98 0v4.2M0 72.36h4.2M347.9 72.36h-4.2M115.97 427.4v-4.2M115.97 0v4.2M0 144.26h4.2M347.9 144.26h-4.2M173.95 427.4v-4.2M173.95 0v4.2M0 215.7h4.2M347.9 215.7h-4.2M231.93 427.4v-4.2M231.93 0v4.2M0 286.69h4.2M347.9 286.69h-4.2M289.92 427.4v-4.2M289.92 0v4.2M0 357.26h4.2M347.9 357.26h-4.2M347.9 427.4v-4.2M347.9 0v4.2M0 427.4h4.2M347.9 427.4h-4.2" stroke="#000" stroke-width="1" fill="none" shape-rendering="crispEdges"/><text x="-8.3" y="7.2" font-size="20" text-anchor="end">37°N</text><text x="-8.3" y="77.96" font-size="15" text-anchor="end">30'</text><text x="-8.3" y="151.46" font-size="20" text-anchor="end">36°N</text><text x="-8.3" y="221.3" font-size="15" text-anchor="end">30'</text><text x="-8.3" y="293.89" font-size="20" text-anchor="end">35°N</text><text x="-8.3" y="362.86" font-size="15" text-anchor="end">30'</text><text x="-8.3" y="434.6" font-size="20" text-anchor="end">34°N</text><text x="-1" y="444.6" font-size="15" text-anchor="middle">30'</text><text x="57.98" y="448.6" font-size="20" text-anchor="middle">76°W</text><text x="114.97" y="444.6" font-size="15" text-anchor="middle">30'</text><text x="173.95" y="448.6" font-size="20" text-anchor="middle">75°W</text><text x="230.93" y="444.6" font-size="15" text-anchor="middle">30'</text><text x="289.92" y="448.6" font-size="20" text-anchor="middle">74°W</text><text x="346.9" y="444.6" font-size="15" text-anchor="middle">30'</text><rect x="3.7" y="20.2" width="111.6" height="24.9" fill="url(#jet)" stroke="#262626" stroke-width="1"/><text x="2.5" y="7.2" font-size="17.5" text-anchor="middle" style="fill:#262626">0</text><text x="105.26" y="7.2" font-size="17.5" text-anchor="middle" style="fill:#262626">50</text><text x="312" y="37.5" font-size="20" text-anchor="middle">10 km</text><path d="M305 44H320" stroke="#000" stroke-width="4" stroke-linecap="round"/><text x="173.95" y="-12.5" font-size="25.2" font-weight="bold" text-anchor="middle">Site Codes</text></g>
</svg></body></html>
